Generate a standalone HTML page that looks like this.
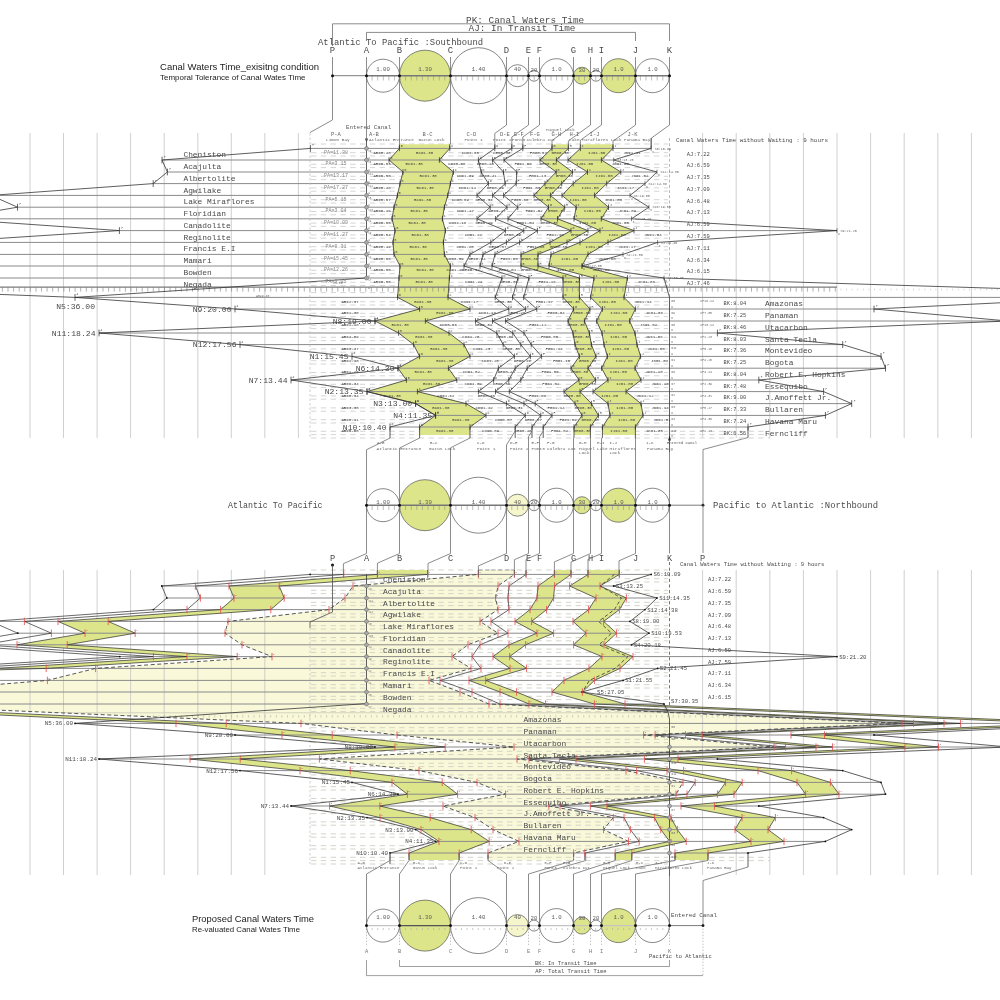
<!DOCTYPE html>
<html lang="en"><head><meta charset="utf-8"><title>Canal Waters Time</title>
<style>
html,body{margin:0;padding:0;background:#fff;}
body{width:1000px;height:1000px;overflow:hidden;font-family:"Liberation Mono",monospace;}
svg{display:block;}
</style></head><body>
<svg width="1000" height="1000" viewBox="0 0 1000 1000" style="will-change:transform">
<rect width="1000" height="1000" fill="#ffffff"/>
<line x1="30" y1="133" x2="30" y2="438" stroke="#c4c4c4" stroke-width="0.8" />
<line x1="63.5" y1="133" x2="63.5" y2="438" stroke="#c4c4c4" stroke-width="0.8" />
<line x1="97.1" y1="133" x2="97.1" y2="438" stroke="#c4c4c4" stroke-width="0.8" />
<line x1="130.6" y1="133" x2="130.6" y2="438" stroke="#c4c4c4" stroke-width="0.8" />
<line x1="164.2" y1="133" x2="164.2" y2="438" stroke="#c4c4c4" stroke-width="0.8" />
<line x1="197.8" y1="133" x2="197.8" y2="438" stroke="#c4c4c4" stroke-width="0.8" />
<line x1="231.3" y1="133" x2="231.3" y2="438" stroke="#c4c4c4" stroke-width="0.8" />
<line x1="264.8" y1="133" x2="264.8" y2="438" stroke="#c4c4c4" stroke-width="0.8" />
<line x1="298.4" y1="133" x2="298.4" y2="438" stroke="#c4c4c4" stroke-width="0.8" />
<line x1="702.6" y1="133" x2="702.6" y2="438" stroke="#c4c4c4" stroke-width="0.8" />
<line x1="736.2" y1="133" x2="736.2" y2="438" stroke="#c4c4c4" stroke-width="0.8" />
<line x1="769.8" y1="133" x2="769.8" y2="438" stroke="#c4c4c4" stroke-width="0.8" />
<line x1="803.4" y1="133" x2="803.4" y2="438" stroke="#c4c4c4" stroke-width="0.8" />
<line x1="837" y1="133" x2="837" y2="438" stroke="#c4c4c4" stroke-width="0.8" />
<line x1="870.6" y1="133" x2="870.6" y2="438" stroke="#c4c4c4" stroke-width="0.8" />
<line x1="904.2" y1="133" x2="904.2" y2="438" stroke="#c4c4c4" stroke-width="0.8" />
<line x1="937.8" y1="133" x2="937.8" y2="438" stroke="#c4c4c4" stroke-width="0.8" />
<line x1="971.4" y1="133" x2="971.4" y2="438" stroke="#c4c4c4" stroke-width="0.8" />
<line x1="311" y1="152.7" x2="668" y2="152.7" stroke="#d0d0d0" stroke-width="0.9" stroke-dasharray="5.4 4.4"/>
<line x1="311" y1="156" x2="668" y2="156" stroke="#d0d0d0" stroke-width="0.9" stroke-dasharray="5.4 4.4"/>
<line x1="311" y1="164.3" x2="668" y2="164.3" stroke="#d0d0d0" stroke-width="0.9" stroke-dasharray="5.4 4.4"/>
<line x1="311" y1="167.6" x2="668" y2="167.6" stroke="#d0d0d0" stroke-width="0.9" stroke-dasharray="5.4 4.4"/>
<line x1="311" y1="176.3" x2="668" y2="176.3" stroke="#d0d0d0" stroke-width="0.9" stroke-dasharray="5.4 4.4"/>
<line x1="311" y1="179.6" x2="668" y2="179.6" stroke="#d0d0d0" stroke-width="0.9" stroke-dasharray="5.4 4.4"/>
<line x1="311" y1="187.9" x2="668" y2="187.9" stroke="#d0d0d0" stroke-width="0.9" stroke-dasharray="5.4 4.4"/>
<line x1="311" y1="191.2" x2="668" y2="191.2" stroke="#d0d0d0" stroke-width="0.9" stroke-dasharray="5.4 4.4"/>
<line x1="311" y1="199.7" x2="668" y2="199.7" stroke="#d0d0d0" stroke-width="0.9" stroke-dasharray="5.4 4.4"/>
<line x1="311" y1="203" x2="668" y2="203" stroke="#d0d0d0" stroke-width="0.9" stroke-dasharray="5.4 4.4"/>
<line x1="311" y1="211.5" x2="668" y2="211.5" stroke="#d0d0d0" stroke-width="0.9" stroke-dasharray="5.4 4.4"/>
<line x1="311" y1="214.8" x2="668" y2="214.8" stroke="#d0d0d0" stroke-width="0.9" stroke-dasharray="5.4 4.4"/>
<line x1="311" y1="223.1" x2="668" y2="223.1" stroke="#d0d0d0" stroke-width="0.9" stroke-dasharray="5.4 4.4"/>
<line x1="311" y1="226.4" x2="668" y2="226.4" stroke="#d0d0d0" stroke-width="0.9" stroke-dasharray="5.4 4.4"/>
<line x1="311" y1="234.9" x2="668" y2="234.9" stroke="#d0d0d0" stroke-width="0.9" stroke-dasharray="5.4 4.4"/>
<line x1="311" y1="238.2" x2="668" y2="238.2" stroke="#d0d0d0" stroke-width="0.9" stroke-dasharray="5.4 4.4"/>
<line x1="311" y1="246.7" x2="668" y2="246.7" stroke="#d0d0d0" stroke-width="0.9" stroke-dasharray="5.4 4.4"/>
<line x1="311" y1="250" x2="668" y2="250" stroke="#d0d0d0" stroke-width="0.9" stroke-dasharray="5.4 4.4"/>
<line x1="311" y1="258.7" x2="668" y2="258.7" stroke="#d0d0d0" stroke-width="0.9" stroke-dasharray="5.4 4.4"/>
<line x1="311" y1="262" x2="668" y2="262" stroke="#d0d0d0" stroke-width="0.9" stroke-dasharray="5.4 4.4"/>
<line x1="311" y1="270.3" x2="668" y2="270.3" stroke="#d0d0d0" stroke-width="0.9" stroke-dasharray="5.4 4.4"/>
<line x1="311" y1="273.6" x2="668" y2="273.6" stroke="#d0d0d0" stroke-width="0.9" stroke-dasharray="5.4 4.4"/>
<line x1="311" y1="282.3" x2="668" y2="282.3" stroke="#d0d0d0" stroke-width="0.9" stroke-dasharray="5.4 4.4"/>
<line x1="311" y1="285.6" x2="668" y2="285.6" stroke="#d0d0d0" stroke-width="0.9" stroke-dasharray="5.4 4.4"/>
<line x1="311" y1="301.7" x2="668" y2="301.7" stroke="#d0d0d0" stroke-width="0.9" stroke-dasharray="5.4 4.4"/>
<line x1="311" y1="305" x2="668" y2="305" stroke="#d0d0d0" stroke-width="0.9" stroke-dasharray="5.4 4.4"/>
<line x1="311" y1="313.3" x2="668" y2="313.3" stroke="#d0d0d0" stroke-width="0.9" stroke-dasharray="5.4 4.4"/>
<line x1="311" y1="316.6" x2="668" y2="316.6" stroke="#d0d0d0" stroke-width="0.9" stroke-dasharray="5.4 4.4"/>
<line x1="311" y1="325.3" x2="668" y2="325.3" stroke="#d0d0d0" stroke-width="0.9" stroke-dasharray="5.4 4.4"/>
<line x1="311" y1="328.6" x2="668" y2="328.6" stroke="#d0d0d0" stroke-width="0.9" stroke-dasharray="5.4 4.4"/>
<line x1="311" y1="337.3" x2="668" y2="337.3" stroke="#d0d0d0" stroke-width="0.9" stroke-dasharray="5.4 4.4"/>
<line x1="311" y1="340.6" x2="668" y2="340.6" stroke="#d0d0d0" stroke-width="0.9" stroke-dasharray="5.4 4.4"/>
<line x1="311" y1="348.9" x2="668" y2="348.9" stroke="#d0d0d0" stroke-width="0.9" stroke-dasharray="5.4 4.4"/>
<line x1="311" y1="352.2" x2="668" y2="352.2" stroke="#d0d0d0" stroke-width="0.9" stroke-dasharray="5.4 4.4"/>
<line x1="311" y1="360.7" x2="668" y2="360.7" stroke="#d0d0d0" stroke-width="0.9" stroke-dasharray="5.4 4.4"/>
<line x1="311" y1="364" x2="668" y2="364" stroke="#d0d0d0" stroke-width="0.9" stroke-dasharray="5.4 4.4"/>
<line x1="311" y1="372.5" x2="668" y2="372.5" stroke="#d0d0d0" stroke-width="0.9" stroke-dasharray="5.4 4.4"/>
<line x1="311" y1="375.8" x2="668" y2="375.8" stroke="#d0d0d0" stroke-width="0.9" stroke-dasharray="5.4 4.4"/>
<line x1="311" y1="384.3" x2="668" y2="384.3" stroke="#d0d0d0" stroke-width="0.9" stroke-dasharray="5.4 4.4"/>
<line x1="311" y1="387.6" x2="668" y2="387.6" stroke="#d0d0d0" stroke-width="0.9" stroke-dasharray="5.4 4.4"/>
<line x1="311" y1="395.9" x2="668" y2="395.9" stroke="#d0d0d0" stroke-width="0.9" stroke-dasharray="5.4 4.4"/>
<line x1="311" y1="399.2" x2="668" y2="399.2" stroke="#d0d0d0" stroke-width="0.9" stroke-dasharray="5.4 4.4"/>
<line x1="311" y1="407.9" x2="668" y2="407.9" stroke="#d0d0d0" stroke-width="0.9" stroke-dasharray="5.4 4.4"/>
<line x1="311" y1="411.2" x2="668" y2="411.2" stroke="#d0d0d0" stroke-width="0.9" stroke-dasharray="5.4 4.4"/>
<line x1="311" y1="419.7" x2="668" y2="419.7" stroke="#d0d0d0" stroke-width="0.9" stroke-dasharray="5.4 4.4"/>
<line x1="311" y1="423" x2="668" y2="423" stroke="#d0d0d0" stroke-width="0.9" stroke-dasharray="5.4 4.4"/>
<line x1="311" y1="431.3" x2="668" y2="431.3" stroke="#d0d0d0" stroke-width="0.9" stroke-dasharray="5.4 4.4"/>
<line x1="311" y1="434.6" x2="668" y2="434.6" stroke="#d0d0d0" stroke-width="0.9" stroke-dasharray="5.4 4.4"/>
<line x1="311" y1="144" x2="668" y2="144" stroke="#d0d0d0" stroke-width="0.9" stroke-dasharray="5.4 4.4"/>
<line x1="311" y1="292.6" x2="668" y2="292.6" stroke="#d0d0d0" stroke-width="0.9" stroke-dasharray="5.4 4.4"/>
<line x1="311" y1="438" x2="668" y2="438" stroke="#d0d0d0" stroke-width="0.9" stroke-dasharray="5.4 4.4"/>
<polygon points="399.4,144.2 399.4,148.4 389,160 403,172 400,183.6 397.4,195.4 394,207.2 392,218.8 395,230.6 393,242.4 394,254.4 400,266 399,278 397.6,297.4 419.6,309 375,321 398.6,333 413.6,344.6 419.6,356.4 398,368.2 406.4,380 367,391.6 415.6,403.6 435.6,415.4 419.6,427 419.6,435 470,435 470,427 486,415.4 466,403.6 417.4,391.6 456.8,380 448.4,368.2 470,356.4 464,344.6 449,333 425.4,321 470,309 448,297.4 449.4,278 450.4,266 444.4,254.4 443.4,242.4 445.4,230.6 442.4,218.8 444.4,207.2 447.8,195.4 450.4,183.6 453.4,172 439.4,160 449.8,148.4 449.8,144.2" fill="#dde58a" stroke="none" stroke-width="0.8" />
<polygon points="552,144.2 552,148.4 540,160 556.2,172 545,183.6 534,195.4 548.5,207.2 541,218.8 571,230.6 550,242.4 521,254.4 521,266 563,278 563,297.4 573.6,309 568,321 573,333 575,344.6 579.4,356.4 571,368.2 579,380 564,391.6 575,403.6 582,415.4 574,427 574,435 590.4,435 590.4,427 598.4,415.4 591.4,403.6 580,391.6 595.6,380 588,368.2 596,356.4 591.4,344.6 589.4,333 584.4,321 590,309 579.4,297.4 579.4,278 538,266 538,254.4 567,242.4 588,230.6 557.5,218.8 564.7,207.2 550.4,195.4 561.7,183.6 572.5,172 556.4,160 568.4,148.4 568.4,144.2" fill="#dde58a" stroke="none" stroke-width="0.8" />
<polygon points="580.4,144.2 580.4,148.4 568,160 587.5,172 573.2,183.6 562,195.4 576.2,207.2 574,218.8 600,230.6 580,242.4 551,254.4 549,266 594,278 590.6,297.4 602.4,309 596.6,321 602,333 604,344.6 607.4,356.4 601.6,368.2 608,380 593,391.6 608,403.6 610,415.4 602.4,427 602.4,435 635.4,435 635.4,427 643,415.4 641,403.6 626,391.6 641,380 635,368.2 640.6,356.4 637,344.6 635,333 629.6,321 635.4,309 624,297.4 627.4,278 582,266 588,254.4 608,242.4 634,230.6 601.3,218.8 608.5,207.2 594.5,195.4 606.7,183.6 620.8,172 601.4,160 613,148.4 613,144.2" fill="#dde58a" stroke="none" stroke-width="0.8" />
<line x1="2.4" y1="287.2" x2="2.4" y2="291.6" stroke="#7a7a7a" stroke-width="0.6" />
<line x1="8" y1="287.2" x2="8" y2="291.6" stroke="#7a7a7a" stroke-width="0.6" />
<line x1="13.6" y1="287.2" x2="13.6" y2="291.6" stroke="#7a7a7a" stroke-width="0.6" />
<line x1="19.2" y1="287.2" x2="19.2" y2="291.6" stroke="#7a7a7a" stroke-width="0.6" />
<line x1="24.8" y1="287.2" x2="24.8" y2="291.6" stroke="#7a7a7a" stroke-width="0.6" />
<line x1="30.4" y1="287.2" x2="30.4" y2="291.6" stroke="#7a7a7a" stroke-width="0.6" />
<line x1="36" y1="287.2" x2="36" y2="291.6" stroke="#7a7a7a" stroke-width="0.6" />
<line x1="41.5" y1="287.2" x2="41.5" y2="291.6" stroke="#7a7a7a" stroke-width="0.6" />
<line x1="47.1" y1="287.2" x2="47.1" y2="291.6" stroke="#7a7a7a" stroke-width="0.6" />
<line x1="52.7" y1="287.2" x2="52.7" y2="291.6" stroke="#7a7a7a" stroke-width="0.6" />
<line x1="58.3" y1="287.2" x2="58.3" y2="291.6" stroke="#7a7a7a" stroke-width="0.6" />
<line x1="63.9" y1="287.2" x2="63.9" y2="291.6" stroke="#7a7a7a" stroke-width="0.6" />
<line x1="69.5" y1="287.2" x2="69.5" y2="291.6" stroke="#7a7a7a" stroke-width="0.6" />
<line x1="75.1" y1="287.2" x2="75.1" y2="291.6" stroke="#7a7a7a" stroke-width="0.6" />
<line x1="80.7" y1="287.2" x2="80.7" y2="291.6" stroke="#7a7a7a" stroke-width="0.6" />
<line x1="86.3" y1="287.2" x2="86.3" y2="291.6" stroke="#7a7a7a" stroke-width="0.6" />
<line x1="91.9" y1="287.2" x2="91.9" y2="291.6" stroke="#7a7a7a" stroke-width="0.6" />
<line x1="97.4" y1="287.2" x2="97.4" y2="291.6" stroke="#7a7a7a" stroke-width="0.6" />
<line x1="103" y1="287.2" x2="103" y2="291.6" stroke="#7a7a7a" stroke-width="0.6" />
<line x1="108.6" y1="287.2" x2="108.6" y2="291.6" stroke="#7a7a7a" stroke-width="0.6" />
<line x1="114.2" y1="287.2" x2="114.2" y2="291.6" stroke="#7a7a7a" stroke-width="0.6" />
<line x1="119.8" y1="287.2" x2="119.8" y2="291.6" stroke="#7a7a7a" stroke-width="0.6" />
<line x1="125.4" y1="287.2" x2="125.4" y2="291.6" stroke="#7a7a7a" stroke-width="0.6" />
<line x1="131" y1="287.2" x2="131" y2="291.6" stroke="#7a7a7a" stroke-width="0.6" />
<line x1="136.6" y1="287.2" x2="136.6" y2="291.6" stroke="#7a7a7a" stroke-width="0.6" />
<line x1="142.2" y1="287.2" x2="142.2" y2="291.6" stroke="#7a7a7a" stroke-width="0.6" />
<line x1="147.8" y1="287.2" x2="147.8" y2="291.6" stroke="#7a7a7a" stroke-width="0.6" />
<line x1="153.3" y1="287.2" x2="153.3" y2="291.6" stroke="#7a7a7a" stroke-width="0.6" />
<line x1="158.9" y1="287.2" x2="158.9" y2="291.6" stroke="#7a7a7a" stroke-width="0.6" />
<line x1="164.5" y1="287.2" x2="164.5" y2="291.6" stroke="#7a7a7a" stroke-width="0.6" />
<line x1="170.1" y1="287.2" x2="170.1" y2="291.6" stroke="#7a7a7a" stroke-width="0.6" />
<line x1="175.7" y1="287.2" x2="175.7" y2="291.6" stroke="#7a7a7a" stroke-width="0.6" />
<line x1="181.3" y1="287.2" x2="181.3" y2="291.6" stroke="#7a7a7a" stroke-width="0.6" />
<line x1="186.9" y1="287.2" x2="186.9" y2="291.6" stroke="#7a7a7a" stroke-width="0.6" />
<line x1="192.5" y1="287.2" x2="192.5" y2="291.6" stroke="#7a7a7a" stroke-width="0.6" />
<line x1="198.1" y1="287.2" x2="198.1" y2="291.6" stroke="#7a7a7a" stroke-width="0.6" />
<line x1="203.7" y1="287.2" x2="203.7" y2="291.6" stroke="#7a7a7a" stroke-width="0.6" />
<line x1="209.2" y1="287.2" x2="209.2" y2="291.6" stroke="#7a7a7a" stroke-width="0.6" />
<line x1="214.8" y1="287.2" x2="214.8" y2="291.6" stroke="#7a7a7a" stroke-width="0.6" />
<line x1="220.4" y1="287.2" x2="220.4" y2="291.6" stroke="#7a7a7a" stroke-width="0.6" />
<line x1="226" y1="287.2" x2="226" y2="291.6" stroke="#7a7a7a" stroke-width="0.6" />
<line x1="231.6" y1="287.2" x2="231.6" y2="291.6" stroke="#7a7a7a" stroke-width="0.6" />
<line x1="237.2" y1="287.2" x2="237.2" y2="291.6" stroke="#7a7a7a" stroke-width="0.6" />
<line x1="242.8" y1="287.2" x2="242.8" y2="291.6" stroke="#7a7a7a" stroke-width="0.6" />
<line x1="248.4" y1="287.2" x2="248.4" y2="291.6" stroke="#7a7a7a" stroke-width="0.6" />
<line x1="254" y1="287.2" x2="254" y2="291.6" stroke="#7a7a7a" stroke-width="0.6" />
<line x1="259.6" y1="287.2" x2="259.6" y2="291.6" stroke="#7a7a7a" stroke-width="0.6" />
<line x1="265.1" y1="287.2" x2="265.1" y2="291.6" stroke="#7a7a7a" stroke-width="0.6" />
<line x1="270.7" y1="287.2" x2="270.7" y2="291.6" stroke="#7a7a7a" stroke-width="0.6" />
<line x1="276.3" y1="287.2" x2="276.3" y2="291.6" stroke="#7a7a7a" stroke-width="0.6" />
<line x1="281.9" y1="287.2" x2="281.9" y2="291.6" stroke="#7a7a7a" stroke-width="0.6" />
<line x1="287.5" y1="287.2" x2="287.5" y2="291.6" stroke="#7a7a7a" stroke-width="0.6" />
<line x1="293.1" y1="287.2" x2="293.1" y2="291.6" stroke="#7a7a7a" stroke-width="0.6" />
<line x1="298.7" y1="287.2" x2="298.7" y2="291.6" stroke="#7a7a7a" stroke-width="0.6" />
<line x1="304.3" y1="287.2" x2="304.3" y2="291.6" stroke="#7a7a7a" stroke-width="0.6" />
<line x1="309.9" y1="287.2" x2="309.9" y2="291.6" stroke="#7a7a7a" stroke-width="0.6" />
<line x1="315.4" y1="287.2" x2="315.4" y2="291.6" stroke="#7a7a7a" stroke-width="0.6" />
<line x1="321" y1="287.2" x2="321" y2="291.6" stroke="#7a7a7a" stroke-width="0.6" />
<line x1="326.6" y1="287.2" x2="326.6" y2="291.6" stroke="#7a7a7a" stroke-width="0.6" />
<line x1="332.2" y1="287.2" x2="332.2" y2="291.6" stroke="#7a7a7a" stroke-width="0.6" />
<line x1="337.8" y1="287.2" x2="337.8" y2="291.6" stroke="#7a7a7a" stroke-width="0.6" />
<line x1="343.4" y1="287.2" x2="343.4" y2="291.6" stroke="#7a7a7a" stroke-width="0.6" />
<line x1="349" y1="287.2" x2="349" y2="291.6" stroke="#7a7a7a" stroke-width="0.6" />
<line x1="354.6" y1="287.2" x2="354.6" y2="291.6" stroke="#7a7a7a" stroke-width="0.6" />
<line x1="360.2" y1="287.2" x2="360.2" y2="291.6" stroke="#7a7a7a" stroke-width="0.6" />
<line x1="365.8" y1="287.2" x2="365.8" y2="291.6" stroke="#7a7a7a" stroke-width="0.6" />
<line x1="371.3" y1="287.2" x2="371.3" y2="291.6" stroke="#7a7a7a" stroke-width="0.6" />
<line x1="376.9" y1="287.2" x2="376.9" y2="291.6" stroke="#7a7a7a" stroke-width="0.6" />
<line x1="382.5" y1="287.2" x2="382.5" y2="291.6" stroke="#7a7a7a" stroke-width="0.6" />
<line x1="388.1" y1="287.2" x2="388.1" y2="291.6" stroke="#7a7a7a" stroke-width="0.6" />
<line x1="393.7" y1="287.2" x2="393.7" y2="291.6" stroke="#7a7a7a" stroke-width="0.6" />
<line x1="399.3" y1="287.2" x2="399.3" y2="291.6" stroke="#7a7a7a" stroke-width="0.6" />
<line x1="404.9" y1="287.2" x2="404.9" y2="291.6" stroke="#7a7a7a" stroke-width="0.6" />
<line x1="410.5" y1="287.2" x2="410.5" y2="291.6" stroke="#7a7a7a" stroke-width="0.6" />
<line x1="416.1" y1="287.2" x2="416.1" y2="291.6" stroke="#7a7a7a" stroke-width="0.6" />
<line x1="421.7" y1="287.2" x2="421.7" y2="291.6" stroke="#7a7a7a" stroke-width="0.6" />
<line x1="427.2" y1="287.2" x2="427.2" y2="291.6" stroke="#7a7a7a" stroke-width="0.6" />
<line x1="432.8" y1="287.2" x2="432.8" y2="291.6" stroke="#7a7a7a" stroke-width="0.6" />
<line x1="438.4" y1="287.2" x2="438.4" y2="291.6" stroke="#7a7a7a" stroke-width="0.6" />
<line x1="444" y1="287.2" x2="444" y2="291.6" stroke="#7a7a7a" stroke-width="0.6" />
<line x1="449.6" y1="287.2" x2="449.6" y2="291.6" stroke="#7a7a7a" stroke-width="0.6" />
<line x1="455.2" y1="287.2" x2="455.2" y2="291.6" stroke="#7a7a7a" stroke-width="0.6" />
<line x1="460.8" y1="287.2" x2="460.8" y2="291.6" stroke="#7a7a7a" stroke-width="0.6" />
<line x1="466.4" y1="287.2" x2="466.4" y2="291.6" stroke="#7a7a7a" stroke-width="0.6" />
<line x1="472" y1="287.2" x2="472" y2="291.6" stroke="#7a7a7a" stroke-width="0.6" />
<line x1="477.6" y1="287.2" x2="477.6" y2="291.6" stroke="#7a7a7a" stroke-width="0.6" />
<line x1="483.1" y1="287.2" x2="483.1" y2="291.6" stroke="#7a7a7a" stroke-width="0.6" />
<line x1="488.7" y1="287.2" x2="488.7" y2="291.6" stroke="#7a7a7a" stroke-width="0.6" />
<line x1="494.3" y1="287.2" x2="494.3" y2="291.6" stroke="#7a7a7a" stroke-width="0.6" />
<line x1="499.9" y1="287.2" x2="499.9" y2="291.6" stroke="#7a7a7a" stroke-width="0.6" />
<line x1="505.5" y1="287.2" x2="505.5" y2="291.6" stroke="#7a7a7a" stroke-width="0.6" />
<line x1="511.1" y1="287.2" x2="511.1" y2="291.6" stroke="#7a7a7a" stroke-width="0.6" />
<line x1="516.7" y1="287.2" x2="516.7" y2="291.6" stroke="#7a7a7a" stroke-width="0.6" />
<line x1="522.3" y1="287.2" x2="522.3" y2="291.6" stroke="#7a7a7a" stroke-width="0.6" />
<line x1="527.9" y1="287.2" x2="527.9" y2="291.6" stroke="#7a7a7a" stroke-width="0.6" />
<line x1="533.5" y1="287.2" x2="533.5" y2="291.6" stroke="#7a7a7a" stroke-width="0.6" />
<line x1="539" y1="287.2" x2="539" y2="291.6" stroke="#7a7a7a" stroke-width="0.6" />
<line x1="544.6" y1="287.2" x2="544.6" y2="291.6" stroke="#7a7a7a" stroke-width="0.6" />
<line x1="550.2" y1="287.2" x2="550.2" y2="291.6" stroke="#7a7a7a" stroke-width="0.6" />
<line x1="555.8" y1="287.2" x2="555.8" y2="291.6" stroke="#7a7a7a" stroke-width="0.6" />
<line x1="561.4" y1="287.2" x2="561.4" y2="291.6" stroke="#7a7a7a" stroke-width="0.6" />
<line x1="567" y1="287.2" x2="567" y2="291.6" stroke="#7a7a7a" stroke-width="0.6" />
<line x1="572.6" y1="287.2" x2="572.6" y2="291.6" stroke="#7a7a7a" stroke-width="0.6" />
<line x1="578.2" y1="287.2" x2="578.2" y2="291.6" stroke="#7a7a7a" stroke-width="0.6" />
<line x1="583.8" y1="287.2" x2="583.8" y2="291.6" stroke="#7a7a7a" stroke-width="0.6" />
<line x1="589.4" y1="287.2" x2="589.4" y2="291.6" stroke="#7a7a7a" stroke-width="0.6" />
<line x1="594.9" y1="287.2" x2="594.9" y2="291.6" stroke="#7a7a7a" stroke-width="0.6" />
<line x1="600.5" y1="287.2" x2="600.5" y2="291.6" stroke="#7a7a7a" stroke-width="0.6" />
<line x1="606.1" y1="287.2" x2="606.1" y2="291.6" stroke="#7a7a7a" stroke-width="0.6" />
<line x1="611.7" y1="287.2" x2="611.7" y2="291.6" stroke="#7a7a7a" stroke-width="0.6" />
<line x1="617.3" y1="287.2" x2="617.3" y2="291.6" stroke="#7a7a7a" stroke-width="0.6" />
<line x1="622.9" y1="287.2" x2="622.9" y2="291.6" stroke="#7a7a7a" stroke-width="0.6" />
<line x1="628.5" y1="287.2" x2="628.5" y2="291.6" stroke="#7a7a7a" stroke-width="0.6" />
<line x1="634.1" y1="287.2" x2="634.1" y2="291.6" stroke="#7a7a7a" stroke-width="0.6" />
<line x1="639.7" y1="287.2" x2="639.7" y2="291.6" stroke="#7a7a7a" stroke-width="0.6" />
<line x1="645.3" y1="287.2" x2="645.3" y2="291.6" stroke="#7a7a7a" stroke-width="0.6" />
<line x1="650.8" y1="287.2" x2="650.8" y2="291.6" stroke="#7a7a7a" stroke-width="0.6" />
<line x1="656.4" y1="287.2" x2="656.4" y2="291.6" stroke="#7a7a7a" stroke-width="0.6" />
<line x1="662" y1="287.2" x2="662" y2="291.6" stroke="#7a7a7a" stroke-width="0.6" />
<line x1="667.6" y1="287.2" x2="667.6" y2="291.6" stroke="#7a7a7a" stroke-width="0.6" />
<line x1="673.2" y1="287.2" x2="673.2" y2="291.6" stroke="#7a7a7a" stroke-width="0.6" />
<line x1="678.8" y1="287.2" x2="678.8" y2="291.6" stroke="#7a7a7a" stroke-width="0.6" />
<line x1="684.4" y1="287.2" x2="684.4" y2="291.6" stroke="#7a7a7a" stroke-width="0.6" />
<line x1="690" y1="287.2" x2="690" y2="291.6" stroke="#7a7a7a" stroke-width="0.6" />
<line x1="695.6" y1="287.2" x2="695.6" y2="291.6" stroke="#7a7a7a" stroke-width="0.6" />
<line x1="701.2" y1="287.2" x2="701.2" y2="291.6" stroke="#7a7a7a" stroke-width="0.6" />
<line x1="706.8" y1="287.2" x2="706.8" y2="291.6" stroke="#7a7a7a" stroke-width="0.6" />
<line x1="712.3" y1="287.2" x2="712.3" y2="291.6" stroke="#7a7a7a" stroke-width="0.6" />
<line x1="717.9" y1="287.2" x2="717.9" y2="291.6" stroke="#7a7a7a" stroke-width="0.6" />
<line x1="723.5" y1="287.2" x2="723.5" y2="291.6" stroke="#7a7a7a" stroke-width="0.6" />
<line x1="729.1" y1="287.2" x2="729.1" y2="291.6" stroke="#7a7a7a" stroke-width="0.6" />
<line x1="734.7" y1="287.2" x2="734.7" y2="291.6" stroke="#7a7a7a" stroke-width="0.6" />
<line x1="740.3" y1="287.2" x2="740.3" y2="291.6" stroke="#7a7a7a" stroke-width="0.6" />
<line x1="745.9" y1="287.2" x2="745.9" y2="291.6" stroke="#7a7a7a" stroke-width="0.6" />
<line x1="751.5" y1="287.2" x2="751.5" y2="291.6" stroke="#7a7a7a" stroke-width="0.6" />
<line x1="757.1" y1="287.2" x2="757.1" y2="291.6" stroke="#7a7a7a" stroke-width="0.6" />
<line x1="762.7" y1="287.2" x2="762.7" y2="291.6" stroke="#7a7a7a" stroke-width="0.6" />
<line x1="768.2" y1="287.2" x2="768.2" y2="291.6" stroke="#7a7a7a" stroke-width="0.6" />
<line x1="773.8" y1="287.2" x2="773.8" y2="291.6" stroke="#7a7a7a" stroke-width="0.6" />
<line x1="779.4" y1="287.2" x2="779.4" y2="291.6" stroke="#7a7a7a" stroke-width="0.6" />
<line x1="785" y1="287.2" x2="785" y2="291.6" stroke="#7a7a7a" stroke-width="0.6" />
<line x1="790.6" y1="287.2" x2="790.6" y2="291.6" stroke="#7a7a7a" stroke-width="0.6" />
<line x1="796.2" y1="287.2" x2="796.2" y2="291.6" stroke="#7a7a7a" stroke-width="0.6" />
<line x1="801.8" y1="287.2" x2="801.8" y2="291.6" stroke="#7a7a7a" stroke-width="0.6" />
<line x1="807.4" y1="287.2" x2="807.4" y2="291.6" stroke="#7a7a7a" stroke-width="0.6" />
<line x1="813" y1="287.2" x2="813" y2="291.6" stroke="#7a7a7a" stroke-width="0.6" />
<line x1="818.6" y1="287.2" x2="818.6" y2="291.6" stroke="#7a7a7a" stroke-width="0.6" />
<line x1="824.1" y1="287.2" x2="824.1" y2="291.6" stroke="#7a7a7a" stroke-width="0.6" />
<line x1="829.7" y1="287.2" x2="829.7" y2="291.6" stroke="#7a7a7a" stroke-width="0.6" />
<line x1="835.3" y1="287.2" x2="835.3" y2="291.6" stroke="#7a7a7a" stroke-width="0.6" />
<line x1="840.9" y1="288.7" x2="840.9" y2="290.4" stroke="#bdbdbd" stroke-width="0.6" />
<line x1="846.5" y1="288.7" x2="846.5" y2="290.4" stroke="#bdbdbd" stroke-width="0.6" />
<line x1="852.1" y1="288.7" x2="852.1" y2="290.4" stroke="#bdbdbd" stroke-width="0.6" />
<line x1="857.7" y1="288.7" x2="857.7" y2="290.4" stroke="#bdbdbd" stroke-width="0.6" />
<line x1="863.3" y1="288.7" x2="863.3" y2="290.4" stroke="#bdbdbd" stroke-width="0.6" />
<line x1="868.9" y1="288.7" x2="868.9" y2="290.4" stroke="#bdbdbd" stroke-width="0.6" />
<line x1="874.5" y1="288.7" x2="874.5" y2="290.4" stroke="#bdbdbd" stroke-width="0.6" />
<line x1="880" y1="288.7" x2="880" y2="290.4" stroke="#bdbdbd" stroke-width="0.6" />
<line x1="885.6" y1="288.7" x2="885.6" y2="290.4" stroke="#bdbdbd" stroke-width="0.6" />
<line x1="891.2" y1="288.7" x2="891.2" y2="290.4" stroke="#bdbdbd" stroke-width="0.6" />
<line x1="896.8" y1="288.7" x2="896.8" y2="290.4" stroke="#bdbdbd" stroke-width="0.6" />
<line x1="902.4" y1="288.7" x2="902.4" y2="290.4" stroke="#bdbdbd" stroke-width="0.6" />
<line x1="908" y1="288.7" x2="908" y2="290.4" stroke="#bdbdbd" stroke-width="0.6" />
<line x1="913.6" y1="288.7" x2="913.6" y2="290.4" stroke="#bdbdbd" stroke-width="0.6" />
<line x1="919.2" y1="288.7" x2="919.2" y2="290.4" stroke="#bdbdbd" stroke-width="0.6" />
<line x1="924.8" y1="288.7" x2="924.8" y2="290.4" stroke="#bdbdbd" stroke-width="0.6" />
<line x1="930.4" y1="288.7" x2="930.4" y2="290.4" stroke="#bdbdbd" stroke-width="0.6" />
<line x1="935.9" y1="288.7" x2="935.9" y2="290.4" stroke="#bdbdbd" stroke-width="0.6" />
<line x1="941.5" y1="288.7" x2="941.5" y2="290.4" stroke="#bdbdbd" stroke-width="0.6" />
<line x1="947.1" y1="288.7" x2="947.1" y2="290.4" stroke="#bdbdbd" stroke-width="0.6" />
<line x1="952.7" y1="288.7" x2="952.7" y2="290.4" stroke="#bdbdbd" stroke-width="0.6" />
<line x1="958.3" y1="288.7" x2="958.3" y2="290.4" stroke="#bdbdbd" stroke-width="0.6" />
<line x1="963.9" y1="288.7" x2="963.9" y2="290.4" stroke="#bdbdbd" stroke-width="0.6" />
<line x1="969.5" y1="288.7" x2="969.5" y2="290.4" stroke="#bdbdbd" stroke-width="0.6" />
<line x1="975.1" y1="288.7" x2="975.1" y2="290.4" stroke="#bdbdbd" stroke-width="0.6" />
<line x1="980.7" y1="288.7" x2="980.7" y2="290.4" stroke="#bdbdbd" stroke-width="0.6" />
<line x1="986.3" y1="288.7" x2="986.3" y2="290.4" stroke="#bdbdbd" stroke-width="0.6" />
<line x1="991.8" y1="288.7" x2="991.8" y2="290.4" stroke="#bdbdbd" stroke-width="0.6" />
<line x1="997.4" y1="288.7" x2="997.4" y2="290.4" stroke="#bdbdbd" stroke-width="0.6" />
<line x1="0" y1="287.2" x2="837" y2="287.2" stroke="#7a7a7a" stroke-width="1.3" />
<line x1="310.4" y1="148.4" x2="651.2" y2="148.4" stroke="#8a8a8a" stroke-width="1.0" />
<line x1="162" y1="160" x2="613.7" y2="160" stroke="#8a8a8a" stroke-width="1.0" />
<line x1="167.4" y1="172" x2="657" y2="172" stroke="#8a8a8a" stroke-width="1.0" />
<line x1="153.2" y1="183.6" x2="645" y2="183.6" stroke="#8a8a8a" stroke-width="1.0" />
<line x1="-9" y1="195.4" x2="630" y2="195.4" stroke="#8a8a8a" stroke-width="1.0" />
<line x1="17.5" y1="207.2" x2="649" y2="207.2" stroke="#8a8a8a" stroke-width="1.0" />
<line x1="-50" y1="218.8" x2="631.5" y2="218.8" stroke="#8a8a8a" stroke-width="1.0" />
<line x1="119.4" y1="230.6" x2="837" y2="230.6" stroke="#8a8a8a" stroke-width="1.0" />
<line x1="-62" y1="242.4" x2="657.6" y2="242.4" stroke="#8a8a8a" stroke-width="1.0" />
<line x1="-420" y1="254.4" x2="623" y2="254.4" stroke="#8a8a8a" stroke-width="1.0" />
<line x1="-520" y1="266" x2="582" y2="266" stroke="#8a8a8a" stroke-width="1.0" />
<line x1="-640" y1="278" x2="664" y2="278" stroke="#8a8a8a" stroke-width="1.0" />
<line x1="75" y1="297.4" x2="1000" y2="297.4" stroke="#8a8a8a" stroke-width="1.0" />
<line x1="235" y1="309" x2="874" y2="309" stroke="#8a8a8a" stroke-width="1.0" />
<line x1="375" y1="321" x2="1000" y2="321" stroke="#8a8a8a" stroke-width="1.0" />
<line x1="99" y1="333" x2="717.4" y2="333" stroke="#8a8a8a" stroke-width="1.0" />
<line x1="240" y1="344.6" x2="842.7" y2="344.6" stroke="#8a8a8a" stroke-width="1.0" />
<line x1="352" y1="356.4" x2="881" y2="356.4" stroke="#8a8a8a" stroke-width="1.0" />
<line x1="398" y1="368.2" x2="885.5" y2="368.2" stroke="#8a8a8a" stroke-width="1.0" />
<line x1="291" y1="380" x2="758.8" y2="380" stroke="#8a8a8a" stroke-width="1.0" />
<line x1="367" y1="391.6" x2="823.6" y2="391.6" stroke="#8a8a8a" stroke-width="1.0" />
<line x1="415.6" y1="403.6" x2="851.7" y2="403.6" stroke="#8a8a8a" stroke-width="1.0" />
<line x1="435.6" y1="415.4" x2="825.4" y2="415.4" stroke="#8a8a8a" stroke-width="1.0" />
<line x1="390" y1="427" x2="748" y2="427" stroke="#8a8a8a" stroke-width="1.0" />
<line x1="310" y1="133" x2="310" y2="438" stroke="#bbb" stroke-width="0.7" stroke-dasharray="2.5 2"/>
<line x1="669.5" y1="138" x2="669.5" y2="297" stroke="#b0b0b0" stroke-width="0.9" stroke-dasharray="3 2.2"/>
<polyline points="399.4,144.2 399.4,148.4 389,160 403,172 400,183.6 397.4,195.4 394,207.2 392,218.8 395,230.6 393,242.4 394,254.4 400,266 399,278 397.6,297.4 419.6,309 375,321 398.6,333 413.6,344.6 419.6,356.4 398,368.2 406.4,380 367,391.6 415.6,403.6 435.6,415.4 419.6,427 419.6,438" fill="none" stroke="#303030" stroke-width="0.78" />
<polyline points="449.8,144.2 449.8,148.4 439.4,160 453.4,172 450.4,183.6 447.8,195.4 444.4,207.2 442.4,218.8 445.4,230.6 443.4,242.4 444.4,254.4 450.4,266 449.4,278 448,297.4 470,309 425.4,321 449,333 464,344.6 470,356.4 448.4,368.2 456.8,380 417.4,391.6 466,403.6 486,415.4 470,427 470,438" fill="none" stroke="#303030" stroke-width="0.78" />
<polyline points="494.8,144.2 494.8,148.4 478.4,160 481.2,172 488.4,183.6 477,195.4 490.2,207.2 477,218.8 505.4,230.6 490.8,242.4 470,254.4 464,266 502,278 495.2,297.4 508.8,309 475.5,321 496.8,333 503.2,344.6 514.4,356.4 498.4,368.2 493.6,380 478.4,391.6 506.4,403.6 525.3,415.4 515.2,427 515.2,438" fill="none" stroke="#303030" stroke-width="0.78" />
<polyline points="511.8,144.2 511.8,148.4 492.6,160 503.4,172 505.2,183.6 492.6,195.4 507,207.2 495.6,218.8 523.8,230.6 506.4,242.4 483,254.4 480,266 518,278 512.5,297.4 525.6,309 492.5,321 512.8,333 520.8,344.6 530.4,356.4 515.2,368.2 508.8,380 495.5,391.6 524,403.6 540.8,415.4 532,427 532,438" fill="none" stroke="#303030" stroke-width="0.78" />
<polyline points="522.8,144.2 522.8,148.4 504,160 516.8,172 516.2,183.6 503.6,195.4 517.8,207.2 508,218.8 537.4,230.6 519.6,242.4 495,254.4 492,266 529,278 523.7,297.4 536.8,309 505.6,321 524,333 531.2,344.6 541.6,356.4 527.2,368.2 520.8,380 509.3,391.6 535.2,403.6 552,415.4 543.2,427 543.2,438" fill="none" stroke="#303030" stroke-width="0.78" />
<polyline points="552,144.2 552,148.4 540,160 556.2,172 545,183.6 534,195.4 548.5,207.2 541,218.8 571,230.6 550,242.4 521,254.4 521,266 563,278 563,297.4 573.6,309 568,321 573,333 575,344.6 579.4,356.4 571,368.2 579,380 564,391.6 575,403.6 582,415.4 574,427 574,438" fill="none" stroke="#303030" stroke-width="0.78" />
<polyline points="568.4,144.2 568.4,148.4 556.4,160 572.5,172 561.7,183.6 550.4,195.4 564.7,207.2 557.5,218.8 588,230.6 567,242.4 538,254.4 538,266 579.4,278 579.4,297.4 590,309 584.4,321 589.4,333 591.4,344.6 596,356.4 588,368.2 595.6,380 580,391.6 591.4,403.6 598.4,415.4 590.4,427 590.4,438" fill="none" stroke="#303030" stroke-width="0.78" />
<polyline points="580.4,144.2 580.4,148.4 568,160 587.5,172 573.2,183.6 562,195.4 576.2,207.2 574,218.8 600,230.6 580,242.4 551,254.4 549,266 594,278 590.6,297.4 602.4,309 596.6,321 602,333 604,344.6 607.4,356.4 601.6,368.2 608,380 593,391.6 608,403.6 610,415.4 602.4,427 602.4,438" fill="none" stroke="#303030" stroke-width="0.78" />
<polyline points="613,144.2 613,148.4 601.4,160 620.8,172 606.7,183.6 594.5,195.4 608.5,207.2 601.3,218.8 634,230.6 608,242.4 588,254.4 582,266 627.4,278 624,297.4 635.4,309 629.6,321 635,333 637,344.6 640.6,356.4 635,368.2 641,380 626,391.6 641,403.6 643,415.4 635.4,427 635.4,438" fill="none" stroke="#303030" stroke-width="0.78" />
<polyline points="651.2,138 651.2,148.4 613.7,160 657,172 645,183.6 630,195.4 649,207.2 631.5,218.8 837,230.6 657.6,242.4 623,254.4 582,266 664,278 669.5,297.4 669.5,452" fill="none" stroke="#303030" stroke-width="0.78" />
<line x1="664" y1="278" x2="1000" y2="288.4" stroke="#303030" stroke-width="0.78" />
<polyline points="310.4,148.4 162,160 167.4,172 153.2,183.6 -9,195.4 17.5,207.2 -50,218.8 119.4,230.6 -62,242.4 -420,254.4 -520,266 -640,278" fill="none" stroke="#303030" stroke-width="0.78" />
<polyline points="366.5,140 366.5,278 75,297.4 235,309 375,321 99,333 240,344.6 352,356.4 398,368.2 291,380 367,391.6 415.6,403.6 435.6,415.4 390,427 390,438" fill="none" stroke="#303030" stroke-width="0.78" />
<line x1="75" y1="297.4" x2="-10" y2="294" stroke="#303030" stroke-width="0.78" />
<polyline points="669.5,297.4" fill="none" stroke="#3a3a3a" stroke-width="0.8" />
<polyline points="1110,297.4 874,309 1008,321 717.4,333 842.7,344.6 881,356.4 885.5,368.2 758.8,380 823.6,391.6 851.7,403.6 825.4,415.4 748,427 748,437.5" fill="none" stroke="#303030" stroke-width="0.78" />
<polyline points="748,437.5 703,449.5 703,460" fill="none" stroke="#666" stroke-width="0.75" />
<line x1="670" y1="431.3" x2="770" y2="431.3" stroke="#d0d0d0" stroke-width="0.9" stroke-dasharray="5.4 4.4"/>
<line x1="670" y1="434.6" x2="770" y2="434.6" stroke="#d0d0d0" stroke-width="0.9" stroke-dasharray="5.4 4.4"/>
<line x1="670" y1="438" x2="770" y2="438" stroke="#d0d0d0" stroke-width="0.9" stroke-dasharray="5.4 4.4"/>
<circle cx="366.5" cy="148.4" r="2" fill="#aaa" stroke="#666" stroke-width="0.5"/>
<circle cx="366.5" cy="160" r="2" fill="#aaa" stroke="#666" stroke-width="0.5"/>
<circle cx="366.5" cy="172" r="2" fill="#aaa" stroke="#666" stroke-width="0.5"/>
<circle cx="366.5" cy="183.6" r="2" fill="#aaa" stroke="#666" stroke-width="0.5"/>
<circle cx="366.5" cy="195.4" r="2" fill="#aaa" stroke="#666" stroke-width="0.5"/>
<circle cx="366.5" cy="207.2" r="2" fill="#aaa" stroke="#666" stroke-width="0.5"/>
<circle cx="366.5" cy="218.8" r="2" fill="#aaa" stroke="#666" stroke-width="0.5"/>
<circle cx="366.5" cy="230.6" r="2" fill="#aaa" stroke="#666" stroke-width="0.5"/>
<circle cx="366.5" cy="242.4" r="2" fill="#aaa" stroke="#666" stroke-width="0.5"/>
<circle cx="366.5" cy="254.4" r="2" fill="#aaa" stroke="#666" stroke-width="0.5"/>
<circle cx="366.5" cy="266" r="2" fill="#aaa" stroke="#666" stroke-width="0.5"/>
<circle cx="366.5" cy="278" r="2" fill="#aaa" stroke="#666" stroke-width="0.5"/>
<polygon points="365.1,138.5 367.9,138.5 366.5,143" fill="#222" stroke="none" stroke-width="0.8" />
<line x1="399.4" y1="145.6" x2="399.4" y2="151.2" stroke="#222" stroke-width="0.7" />
<text x="400.8" y="147" font-size="3.2" text-anchor="start" fill="#444" font-family='"Liberation Mono", monospace' >B</text>
<line x1="389" y1="157.2" x2="389" y2="162.8" stroke="#222" stroke-width="0.7" />
<text x="390.4" y="158.6" font-size="3.2" text-anchor="start" fill="#444" font-family='"Liberation Mono", monospace' >B</text>
<line x1="403" y1="169.2" x2="403" y2="174.8" stroke="#222" stroke-width="0.7" />
<text x="404.4" y="170.6" font-size="3.2" text-anchor="start" fill="#444" font-family='"Liberation Mono", monospace' >B</text>
<line x1="400" y1="180.8" x2="400" y2="186.4" stroke="#222" stroke-width="0.7" />
<text x="401.4" y="182.2" font-size="3.2" text-anchor="start" fill="#444" font-family='"Liberation Mono", monospace' >B</text>
<line x1="397.4" y1="192.6" x2="397.4" y2="198.2" stroke="#222" stroke-width="0.7" />
<text x="398.8" y="194" font-size="3.2" text-anchor="start" fill="#444" font-family='"Liberation Mono", monospace' >B</text>
<line x1="394" y1="204.4" x2="394" y2="210" stroke="#222" stroke-width="0.7" />
<text x="395.4" y="205.8" font-size="3.2" text-anchor="start" fill="#444" font-family='"Liberation Mono", monospace' >B</text>
<line x1="392" y1="216" x2="392" y2="221.6" stroke="#222" stroke-width="0.7" />
<text x="393.4" y="217.4" font-size="3.2" text-anchor="start" fill="#444" font-family='"Liberation Mono", monospace' >B</text>
<line x1="395" y1="227.8" x2="395" y2="233.4" stroke="#222" stroke-width="0.7" />
<text x="396.4" y="229.2" font-size="3.2" text-anchor="start" fill="#444" font-family='"Liberation Mono", monospace' >B</text>
<line x1="393" y1="239.6" x2="393" y2="245.2" stroke="#222" stroke-width="0.7" />
<text x="394.4" y="241" font-size="3.2" text-anchor="start" fill="#444" font-family='"Liberation Mono", monospace' >B</text>
<line x1="394" y1="251.6" x2="394" y2="257.2" stroke="#222" stroke-width="0.7" />
<text x="395.4" y="253" font-size="3.2" text-anchor="start" fill="#444" font-family='"Liberation Mono", monospace' >B</text>
<line x1="400" y1="263.2" x2="400" y2="268.8" stroke="#222" stroke-width="0.7" />
<text x="401.4" y="264.6" font-size="3.2" text-anchor="start" fill="#444" font-family='"Liberation Mono", monospace' >B</text>
<line x1="399" y1="275.2" x2="399" y2="280.8" stroke="#222" stroke-width="0.7" />
<text x="400.4" y="276.6" font-size="3.2" text-anchor="start" fill="#444" font-family='"Liberation Mono", monospace' >B</text>
<line x1="397.6" y1="294.6" x2="397.6" y2="300.2" stroke="#222" stroke-width="0.7" />
<text x="399" y="296" font-size="3.2" text-anchor="start" fill="#444" font-family='"Liberation Mono", monospace' >B</text>
<line x1="419.6" y1="306.2" x2="419.6" y2="311.8" stroke="#222" stroke-width="0.7" />
<text x="421" y="307.6" font-size="3.2" text-anchor="start" fill="#444" font-family='"Liberation Mono", monospace' >B</text>
<line x1="375" y1="318.2" x2="375" y2="323.8" stroke="#222" stroke-width="0.7" />
<text x="376.4" y="319.6" font-size="3.2" text-anchor="start" fill="#444" font-family='"Liberation Mono", monospace' >B</text>
<line x1="398.6" y1="330.2" x2="398.6" y2="335.8" stroke="#222" stroke-width="0.7" />
<text x="400" y="331.6" font-size="3.2" text-anchor="start" fill="#444" font-family='"Liberation Mono", monospace' >B</text>
<line x1="413.6" y1="341.8" x2="413.6" y2="347.4" stroke="#222" stroke-width="0.7" />
<text x="415" y="343.2" font-size="3.2" text-anchor="start" fill="#444" font-family='"Liberation Mono", monospace' >B</text>
<line x1="419.6" y1="353.6" x2="419.6" y2="359.2" stroke="#222" stroke-width="0.7" />
<text x="421" y="355" font-size="3.2" text-anchor="start" fill="#444" font-family='"Liberation Mono", monospace' >B</text>
<line x1="398" y1="365.4" x2="398" y2="371" stroke="#222" stroke-width="0.7" />
<text x="399.4" y="366.8" font-size="3.2" text-anchor="start" fill="#444" font-family='"Liberation Mono", monospace' >B</text>
<line x1="406.4" y1="377.2" x2="406.4" y2="382.8" stroke="#222" stroke-width="0.7" />
<text x="407.8" y="378.6" font-size="3.2" text-anchor="start" fill="#444" font-family='"Liberation Mono", monospace' >B</text>
<line x1="367" y1="388.8" x2="367" y2="394.4" stroke="#222" stroke-width="0.7" />
<text x="368.4" y="390.2" font-size="3.2" text-anchor="start" fill="#444" font-family='"Liberation Mono", monospace' >B</text>
<line x1="415.6" y1="400.8" x2="415.6" y2="406.4" stroke="#222" stroke-width="0.7" />
<text x="417" y="402.2" font-size="3.2" text-anchor="start" fill="#444" font-family='"Liberation Mono", monospace' >B</text>
<line x1="435.6" y1="412.6" x2="435.6" y2="418.2" stroke="#222" stroke-width="0.7" />
<text x="437" y="414" font-size="3.2" text-anchor="start" fill="#444" font-family='"Liberation Mono", monospace' >B</text>
<line x1="419.6" y1="424.2" x2="419.6" y2="429.8" stroke="#222" stroke-width="0.7" />
<text x="421" y="425.6" font-size="3.2" text-anchor="start" fill="#444" font-family='"Liberation Mono", monospace' >B</text>
<line x1="449.8" y1="145.6" x2="449.8" y2="151.2" stroke="#222" stroke-width="0.7" />
<text x="451.2" y="147" font-size="3.2" text-anchor="start" fill="#444" font-family='"Liberation Mono", monospace' >C</text>
<line x1="439.4" y1="157.2" x2="439.4" y2="162.8" stroke="#222" stroke-width="0.7" />
<text x="440.8" y="158.6" font-size="3.2" text-anchor="start" fill="#444" font-family='"Liberation Mono", monospace' >C</text>
<line x1="453.4" y1="169.2" x2="453.4" y2="174.8" stroke="#222" stroke-width="0.7" />
<text x="454.8" y="170.6" font-size="3.2" text-anchor="start" fill="#444" font-family='"Liberation Mono", monospace' >C</text>
<line x1="450.4" y1="180.8" x2="450.4" y2="186.4" stroke="#222" stroke-width="0.7" />
<text x="451.8" y="182.2" font-size="3.2" text-anchor="start" fill="#444" font-family='"Liberation Mono", monospace' >C</text>
<line x1="447.8" y1="192.6" x2="447.8" y2="198.2" stroke="#222" stroke-width="0.7" />
<text x="449.2" y="194" font-size="3.2" text-anchor="start" fill="#444" font-family='"Liberation Mono", monospace' >C</text>
<line x1="444.4" y1="204.4" x2="444.4" y2="210" stroke="#222" stroke-width="0.7" />
<text x="445.8" y="205.8" font-size="3.2" text-anchor="start" fill="#444" font-family='"Liberation Mono", monospace' >C</text>
<line x1="442.4" y1="216" x2="442.4" y2="221.6" stroke="#222" stroke-width="0.7" />
<text x="443.8" y="217.4" font-size="3.2" text-anchor="start" fill="#444" font-family='"Liberation Mono", monospace' >C</text>
<line x1="445.4" y1="227.8" x2="445.4" y2="233.4" stroke="#222" stroke-width="0.7" />
<text x="446.8" y="229.2" font-size="3.2" text-anchor="start" fill="#444" font-family='"Liberation Mono", monospace' >C</text>
<line x1="443.4" y1="239.6" x2="443.4" y2="245.2" stroke="#222" stroke-width="0.7" />
<text x="444.8" y="241" font-size="3.2" text-anchor="start" fill="#444" font-family='"Liberation Mono", monospace' >C</text>
<line x1="444.4" y1="251.6" x2="444.4" y2="257.2" stroke="#222" stroke-width="0.7" />
<text x="445.8" y="253" font-size="3.2" text-anchor="start" fill="#444" font-family='"Liberation Mono", monospace' >C</text>
<line x1="450.4" y1="263.2" x2="450.4" y2="268.8" stroke="#222" stroke-width="0.7" />
<text x="451.8" y="264.6" font-size="3.2" text-anchor="start" fill="#444" font-family='"Liberation Mono", monospace' >C</text>
<line x1="449.4" y1="275.2" x2="449.4" y2="280.8" stroke="#222" stroke-width="0.7" />
<text x="450.8" y="276.6" font-size="3.2" text-anchor="start" fill="#444" font-family='"Liberation Mono", monospace' >C</text>
<line x1="448" y1="294.6" x2="448" y2="300.2" stroke="#222" stroke-width="0.7" />
<text x="449.4" y="296" font-size="3.2" text-anchor="start" fill="#444" font-family='"Liberation Mono", monospace' >C</text>
<line x1="470" y1="306.2" x2="470" y2="311.8" stroke="#222" stroke-width="0.7" />
<text x="471.4" y="307.6" font-size="3.2" text-anchor="start" fill="#444" font-family='"Liberation Mono", monospace' >C</text>
<line x1="425.4" y1="318.2" x2="425.4" y2="323.8" stroke="#222" stroke-width="0.7" />
<text x="426.8" y="319.6" font-size="3.2" text-anchor="start" fill="#444" font-family='"Liberation Mono", monospace' >C</text>
<line x1="449" y1="330.2" x2="449" y2="335.8" stroke="#222" stroke-width="0.7" />
<text x="450.4" y="331.6" font-size="3.2" text-anchor="start" fill="#444" font-family='"Liberation Mono", monospace' >C</text>
<line x1="464" y1="341.8" x2="464" y2="347.4" stroke="#222" stroke-width="0.7" />
<text x="465.4" y="343.2" font-size="3.2" text-anchor="start" fill="#444" font-family='"Liberation Mono", monospace' >C</text>
<line x1="470" y1="353.6" x2="470" y2="359.2" stroke="#222" stroke-width="0.7" />
<text x="471.4" y="355" font-size="3.2" text-anchor="start" fill="#444" font-family='"Liberation Mono", monospace' >C</text>
<line x1="448.4" y1="365.4" x2="448.4" y2="371" stroke="#222" stroke-width="0.7" />
<text x="449.8" y="366.8" font-size="3.2" text-anchor="start" fill="#444" font-family='"Liberation Mono", monospace' >C</text>
<line x1="456.8" y1="377.2" x2="456.8" y2="382.8" stroke="#222" stroke-width="0.7" />
<text x="458.2" y="378.6" font-size="3.2" text-anchor="start" fill="#444" font-family='"Liberation Mono", monospace' >C</text>
<line x1="417.4" y1="388.8" x2="417.4" y2="394.4" stroke="#222" stroke-width="0.7" />
<text x="418.8" y="390.2" font-size="3.2" text-anchor="start" fill="#444" font-family='"Liberation Mono", monospace' >C</text>
<line x1="466" y1="400.8" x2="466" y2="406.4" stroke="#222" stroke-width="0.7" />
<text x="467.4" y="402.2" font-size="3.2" text-anchor="start" fill="#444" font-family='"Liberation Mono", monospace' >C</text>
<line x1="486" y1="412.6" x2="486" y2="418.2" stroke="#222" stroke-width="0.7" />
<text x="487.4" y="414" font-size="3.2" text-anchor="start" fill="#444" font-family='"Liberation Mono", monospace' >C</text>
<line x1="470" y1="424.2" x2="470" y2="429.8" stroke="#222" stroke-width="0.7" />
<text x="471.4" y="425.6" font-size="3.2" text-anchor="start" fill="#444" font-family='"Liberation Mono", monospace' >C</text>
<line x1="494.8" y1="145.6" x2="494.8" y2="151.2" stroke="#222" stroke-width="0.7" />
<text x="496.2" y="147" font-size="3.2" text-anchor="start" fill="#444" font-family='"Liberation Mono", monospace' >D</text>
<line x1="478.4" y1="157.2" x2="478.4" y2="162.8" stroke="#222" stroke-width="0.7" />
<text x="479.8" y="158.6" font-size="3.2" text-anchor="start" fill="#444" font-family='"Liberation Mono", monospace' >D</text>
<line x1="481.2" y1="169.2" x2="481.2" y2="174.8" stroke="#222" stroke-width="0.7" />
<text x="482.6" y="170.6" font-size="3.2" text-anchor="start" fill="#444" font-family='"Liberation Mono", monospace' >D</text>
<line x1="488.4" y1="180.8" x2="488.4" y2="186.4" stroke="#222" stroke-width="0.7" />
<text x="489.8" y="182.2" font-size="3.2" text-anchor="start" fill="#444" font-family='"Liberation Mono", monospace' >D</text>
<line x1="477" y1="192.6" x2="477" y2="198.2" stroke="#222" stroke-width="0.7" />
<text x="478.4" y="194" font-size="3.2" text-anchor="start" fill="#444" font-family='"Liberation Mono", monospace' >D</text>
<line x1="490.2" y1="204.4" x2="490.2" y2="210" stroke="#222" stroke-width="0.7" />
<text x="491.6" y="205.8" font-size="3.2" text-anchor="start" fill="#444" font-family='"Liberation Mono", monospace' >D</text>
<line x1="477" y1="216" x2="477" y2="221.6" stroke="#222" stroke-width="0.7" />
<text x="478.4" y="217.4" font-size="3.2" text-anchor="start" fill="#444" font-family='"Liberation Mono", monospace' >D</text>
<line x1="505.4" y1="227.8" x2="505.4" y2="233.4" stroke="#222" stroke-width="0.7" />
<text x="506.8" y="229.2" font-size="3.2" text-anchor="start" fill="#444" font-family='"Liberation Mono", monospace' >D</text>
<line x1="490.8" y1="239.6" x2="490.8" y2="245.2" stroke="#222" stroke-width="0.7" />
<text x="492.2" y="241" font-size="3.2" text-anchor="start" fill="#444" font-family='"Liberation Mono", monospace' >D</text>
<line x1="470" y1="251.6" x2="470" y2="257.2" stroke="#222" stroke-width="0.7" />
<text x="471.4" y="253" font-size="3.2" text-anchor="start" fill="#444" font-family='"Liberation Mono", monospace' >D</text>
<line x1="464" y1="263.2" x2="464" y2="268.8" stroke="#222" stroke-width="0.7" />
<text x="465.4" y="264.6" font-size="3.2" text-anchor="start" fill="#444" font-family='"Liberation Mono", monospace' >D</text>
<line x1="502" y1="275.2" x2="502" y2="280.8" stroke="#222" stroke-width="0.7" />
<text x="503.4" y="276.6" font-size="3.2" text-anchor="start" fill="#444" font-family='"Liberation Mono", monospace' >D</text>
<line x1="495.2" y1="294.6" x2="495.2" y2="300.2" stroke="#222" stroke-width="0.7" />
<text x="496.6" y="296" font-size="3.2" text-anchor="start" fill="#444" font-family='"Liberation Mono", monospace' >D</text>
<line x1="508.8" y1="306.2" x2="508.8" y2="311.8" stroke="#222" stroke-width="0.7" />
<text x="510.2" y="307.6" font-size="3.2" text-anchor="start" fill="#444" font-family='"Liberation Mono", monospace' >D</text>
<line x1="475.5" y1="318.2" x2="475.5" y2="323.8" stroke="#222" stroke-width="0.7" />
<text x="476.9" y="319.6" font-size="3.2" text-anchor="start" fill="#444" font-family='"Liberation Mono", monospace' >D</text>
<line x1="496.8" y1="330.2" x2="496.8" y2="335.8" stroke="#222" stroke-width="0.7" />
<text x="498.2" y="331.6" font-size="3.2" text-anchor="start" fill="#444" font-family='"Liberation Mono", monospace' >D</text>
<line x1="503.2" y1="341.8" x2="503.2" y2="347.4" stroke="#222" stroke-width="0.7" />
<text x="504.6" y="343.2" font-size="3.2" text-anchor="start" fill="#444" font-family='"Liberation Mono", monospace' >D</text>
<line x1="514.4" y1="353.6" x2="514.4" y2="359.2" stroke="#222" stroke-width="0.7" />
<text x="515.8" y="355" font-size="3.2" text-anchor="start" fill="#444" font-family='"Liberation Mono", monospace' >D</text>
<line x1="498.4" y1="365.4" x2="498.4" y2="371" stroke="#222" stroke-width="0.7" />
<text x="499.8" y="366.8" font-size="3.2" text-anchor="start" fill="#444" font-family='"Liberation Mono", monospace' >D</text>
<line x1="493.6" y1="377.2" x2="493.6" y2="382.8" stroke="#222" stroke-width="0.7" />
<text x="495" y="378.6" font-size="3.2" text-anchor="start" fill="#444" font-family='"Liberation Mono", monospace' >D</text>
<line x1="478.4" y1="388.8" x2="478.4" y2="394.4" stroke="#222" stroke-width="0.7" />
<text x="479.8" y="390.2" font-size="3.2" text-anchor="start" fill="#444" font-family='"Liberation Mono", monospace' >D</text>
<line x1="506.4" y1="400.8" x2="506.4" y2="406.4" stroke="#222" stroke-width="0.7" />
<text x="507.8" y="402.2" font-size="3.2" text-anchor="start" fill="#444" font-family='"Liberation Mono", monospace' >D</text>
<line x1="525.3" y1="412.6" x2="525.3" y2="418.2" stroke="#222" stroke-width="0.7" />
<text x="526.7" y="414" font-size="3.2" text-anchor="start" fill="#444" font-family='"Liberation Mono", monospace' >D</text>
<line x1="515.2" y1="424.2" x2="515.2" y2="429.8" stroke="#222" stroke-width="0.7" />
<text x="516.6" y="425.6" font-size="3.2" text-anchor="start" fill="#444" font-family='"Liberation Mono", monospace' >D</text>
<line x1="511.8" y1="145.6" x2="511.8" y2="151.2" stroke="#222" stroke-width="0.7" />
<text x="513.2" y="147" font-size="3.2" text-anchor="start" fill="#444" font-family='"Liberation Mono", monospace' >E</text>
<line x1="492.6" y1="157.2" x2="492.6" y2="162.8" stroke="#222" stroke-width="0.7" />
<text x="494" y="158.6" font-size="3.2" text-anchor="start" fill="#444" font-family='"Liberation Mono", monospace' >E</text>
<line x1="503.4" y1="169.2" x2="503.4" y2="174.8" stroke="#222" stroke-width="0.7" />
<text x="504.8" y="170.6" font-size="3.2" text-anchor="start" fill="#444" font-family='"Liberation Mono", monospace' >E</text>
<line x1="505.2" y1="180.8" x2="505.2" y2="186.4" stroke="#222" stroke-width="0.7" />
<text x="506.6" y="182.2" font-size="3.2" text-anchor="start" fill="#444" font-family='"Liberation Mono", monospace' >E</text>
<line x1="492.6" y1="192.6" x2="492.6" y2="198.2" stroke="#222" stroke-width="0.7" />
<text x="494" y="194" font-size="3.2" text-anchor="start" fill="#444" font-family='"Liberation Mono", monospace' >E</text>
<line x1="507" y1="204.4" x2="507" y2="210" stroke="#222" stroke-width="0.7" />
<text x="508.4" y="205.8" font-size="3.2" text-anchor="start" fill="#444" font-family='"Liberation Mono", monospace' >E</text>
<line x1="495.6" y1="216" x2="495.6" y2="221.6" stroke="#222" stroke-width="0.7" />
<text x="497" y="217.4" font-size="3.2" text-anchor="start" fill="#444" font-family='"Liberation Mono", monospace' >E</text>
<line x1="523.8" y1="227.8" x2="523.8" y2="233.4" stroke="#222" stroke-width="0.7" />
<text x="525.2" y="229.2" font-size="3.2" text-anchor="start" fill="#444" font-family='"Liberation Mono", monospace' >E</text>
<line x1="506.4" y1="239.6" x2="506.4" y2="245.2" stroke="#222" stroke-width="0.7" />
<text x="507.8" y="241" font-size="3.2" text-anchor="start" fill="#444" font-family='"Liberation Mono", monospace' >E</text>
<line x1="483" y1="251.6" x2="483" y2="257.2" stroke="#222" stroke-width="0.7" />
<text x="484.4" y="253" font-size="3.2" text-anchor="start" fill="#444" font-family='"Liberation Mono", monospace' >E</text>
<line x1="480" y1="263.2" x2="480" y2="268.8" stroke="#222" stroke-width="0.7" />
<text x="481.4" y="264.6" font-size="3.2" text-anchor="start" fill="#444" font-family='"Liberation Mono", monospace' >E</text>
<line x1="518" y1="275.2" x2="518" y2="280.8" stroke="#222" stroke-width="0.7" />
<text x="519.4" y="276.6" font-size="3.2" text-anchor="start" fill="#444" font-family='"Liberation Mono", monospace' >E</text>
<line x1="512.5" y1="294.6" x2="512.5" y2="300.2" stroke="#222" stroke-width="0.7" />
<text x="513.9" y="296" font-size="3.2" text-anchor="start" fill="#444" font-family='"Liberation Mono", monospace' >E</text>
<line x1="525.6" y1="306.2" x2="525.6" y2="311.8" stroke="#222" stroke-width="0.7" />
<text x="527" y="307.6" font-size="3.2" text-anchor="start" fill="#444" font-family='"Liberation Mono", monospace' >E</text>
<line x1="492.5" y1="318.2" x2="492.5" y2="323.8" stroke="#222" stroke-width="0.7" />
<text x="493.9" y="319.6" font-size="3.2" text-anchor="start" fill="#444" font-family='"Liberation Mono", monospace' >E</text>
<line x1="512.8" y1="330.2" x2="512.8" y2="335.8" stroke="#222" stroke-width="0.7" />
<text x="514.2" y="331.6" font-size="3.2" text-anchor="start" fill="#444" font-family='"Liberation Mono", monospace' >E</text>
<line x1="520.8" y1="341.8" x2="520.8" y2="347.4" stroke="#222" stroke-width="0.7" />
<text x="522.2" y="343.2" font-size="3.2" text-anchor="start" fill="#444" font-family='"Liberation Mono", monospace' >E</text>
<line x1="530.4" y1="353.6" x2="530.4" y2="359.2" stroke="#222" stroke-width="0.7" />
<text x="531.8" y="355" font-size="3.2" text-anchor="start" fill="#444" font-family='"Liberation Mono", monospace' >E</text>
<line x1="515.2" y1="365.4" x2="515.2" y2="371" stroke="#222" stroke-width="0.7" />
<text x="516.6" y="366.8" font-size="3.2" text-anchor="start" fill="#444" font-family='"Liberation Mono", monospace' >E</text>
<line x1="508.8" y1="377.2" x2="508.8" y2="382.8" stroke="#222" stroke-width="0.7" />
<text x="510.2" y="378.6" font-size="3.2" text-anchor="start" fill="#444" font-family='"Liberation Mono", monospace' >E</text>
<line x1="495.5" y1="388.8" x2="495.5" y2="394.4" stroke="#222" stroke-width="0.7" />
<text x="496.9" y="390.2" font-size="3.2" text-anchor="start" fill="#444" font-family='"Liberation Mono", monospace' >E</text>
<line x1="524" y1="400.8" x2="524" y2="406.4" stroke="#222" stroke-width="0.7" />
<text x="525.4" y="402.2" font-size="3.2" text-anchor="start" fill="#444" font-family='"Liberation Mono", monospace' >E</text>
<line x1="540.8" y1="412.6" x2="540.8" y2="418.2" stroke="#222" stroke-width="0.7" />
<text x="542.2" y="414" font-size="3.2" text-anchor="start" fill="#444" font-family='"Liberation Mono", monospace' >E</text>
<line x1="532" y1="424.2" x2="532" y2="429.8" stroke="#222" stroke-width="0.7" />
<text x="533.4" y="425.6" font-size="3.2" text-anchor="start" fill="#444" font-family='"Liberation Mono", monospace' >E</text>
<line x1="522.8" y1="145.6" x2="522.8" y2="151.2" stroke="#222" stroke-width="0.7" />
<text x="524.2" y="147" font-size="3.2" text-anchor="start" fill="#444" font-family='"Liberation Mono", monospace' >F</text>
<line x1="504" y1="157.2" x2="504" y2="162.8" stroke="#222" stroke-width="0.7" />
<text x="505.4" y="158.6" font-size="3.2" text-anchor="start" fill="#444" font-family='"Liberation Mono", monospace' >F</text>
<line x1="516.8" y1="169.2" x2="516.8" y2="174.8" stroke="#222" stroke-width="0.7" />
<text x="518.2" y="170.6" font-size="3.2" text-anchor="start" fill="#444" font-family='"Liberation Mono", monospace' >F</text>
<line x1="516.2" y1="180.8" x2="516.2" y2="186.4" stroke="#222" stroke-width="0.7" />
<text x="517.6" y="182.2" font-size="3.2" text-anchor="start" fill="#444" font-family='"Liberation Mono", monospace' >F</text>
<line x1="503.6" y1="192.6" x2="503.6" y2="198.2" stroke="#222" stroke-width="0.7" />
<text x="505" y="194" font-size="3.2" text-anchor="start" fill="#444" font-family='"Liberation Mono", monospace' >F</text>
<line x1="517.8" y1="204.4" x2="517.8" y2="210" stroke="#222" stroke-width="0.7" />
<text x="519.2" y="205.8" font-size="3.2" text-anchor="start" fill="#444" font-family='"Liberation Mono", monospace' >F</text>
<line x1="508" y1="216" x2="508" y2="221.6" stroke="#222" stroke-width="0.7" />
<text x="509.4" y="217.4" font-size="3.2" text-anchor="start" fill="#444" font-family='"Liberation Mono", monospace' >F</text>
<line x1="537.4" y1="227.8" x2="537.4" y2="233.4" stroke="#222" stroke-width="0.7" />
<text x="538.8" y="229.2" font-size="3.2" text-anchor="start" fill="#444" font-family='"Liberation Mono", monospace' >F</text>
<line x1="519.6" y1="239.6" x2="519.6" y2="245.2" stroke="#222" stroke-width="0.7" />
<text x="521" y="241" font-size="3.2" text-anchor="start" fill="#444" font-family='"Liberation Mono", monospace' >F</text>
<line x1="495" y1="251.6" x2="495" y2="257.2" stroke="#222" stroke-width="0.7" />
<text x="496.4" y="253" font-size="3.2" text-anchor="start" fill="#444" font-family='"Liberation Mono", monospace' >F</text>
<line x1="492" y1="263.2" x2="492" y2="268.8" stroke="#222" stroke-width="0.7" />
<text x="493.4" y="264.6" font-size="3.2" text-anchor="start" fill="#444" font-family='"Liberation Mono", monospace' >F</text>
<line x1="529" y1="275.2" x2="529" y2="280.8" stroke="#222" stroke-width="0.7" />
<text x="530.4" y="276.6" font-size="3.2" text-anchor="start" fill="#444" font-family='"Liberation Mono", monospace' >F</text>
<line x1="523.7" y1="294.6" x2="523.7" y2="300.2" stroke="#222" stroke-width="0.7" />
<text x="525.1" y="296" font-size="3.2" text-anchor="start" fill="#444" font-family='"Liberation Mono", monospace' >F</text>
<line x1="536.8" y1="306.2" x2="536.8" y2="311.8" stroke="#222" stroke-width="0.7" />
<text x="538.2" y="307.6" font-size="3.2" text-anchor="start" fill="#444" font-family='"Liberation Mono", monospace' >F</text>
<line x1="505.6" y1="318.2" x2="505.6" y2="323.8" stroke="#222" stroke-width="0.7" />
<text x="507" y="319.6" font-size="3.2" text-anchor="start" fill="#444" font-family='"Liberation Mono", monospace' >F</text>
<line x1="524" y1="330.2" x2="524" y2="335.8" stroke="#222" stroke-width="0.7" />
<text x="525.4" y="331.6" font-size="3.2" text-anchor="start" fill="#444" font-family='"Liberation Mono", monospace' >F</text>
<line x1="531.2" y1="341.8" x2="531.2" y2="347.4" stroke="#222" stroke-width="0.7" />
<text x="532.6" y="343.2" font-size="3.2" text-anchor="start" fill="#444" font-family='"Liberation Mono", monospace' >F</text>
<line x1="541.6" y1="353.6" x2="541.6" y2="359.2" stroke="#222" stroke-width="0.7" />
<text x="543" y="355" font-size="3.2" text-anchor="start" fill="#444" font-family='"Liberation Mono", monospace' >F</text>
<line x1="527.2" y1="365.4" x2="527.2" y2="371" stroke="#222" stroke-width="0.7" />
<text x="528.6" y="366.8" font-size="3.2" text-anchor="start" fill="#444" font-family='"Liberation Mono", monospace' >F</text>
<line x1="520.8" y1="377.2" x2="520.8" y2="382.8" stroke="#222" stroke-width="0.7" />
<text x="522.2" y="378.6" font-size="3.2" text-anchor="start" fill="#444" font-family='"Liberation Mono", monospace' >F</text>
<line x1="509.3" y1="388.8" x2="509.3" y2="394.4" stroke="#222" stroke-width="0.7" />
<text x="510.7" y="390.2" font-size="3.2" text-anchor="start" fill="#444" font-family='"Liberation Mono", monospace' >F</text>
<line x1="535.2" y1="400.8" x2="535.2" y2="406.4" stroke="#222" stroke-width="0.7" />
<text x="536.6" y="402.2" font-size="3.2" text-anchor="start" fill="#444" font-family='"Liberation Mono", monospace' >F</text>
<line x1="552" y1="412.6" x2="552" y2="418.2" stroke="#222" stroke-width="0.7" />
<text x="553.4" y="414" font-size="3.2" text-anchor="start" fill="#444" font-family='"Liberation Mono", monospace' >F</text>
<line x1="543.2" y1="424.2" x2="543.2" y2="429.8" stroke="#222" stroke-width="0.7" />
<text x="544.6" y="425.6" font-size="3.2" text-anchor="start" fill="#444" font-family='"Liberation Mono", monospace' >F</text>
<line x1="552" y1="145.6" x2="552" y2="151.2" stroke="#222" stroke-width="0.7" />
<text x="553.4" y="147" font-size="3.2" text-anchor="start" fill="#444" font-family='"Liberation Mono", monospace' >G</text>
<line x1="540" y1="157.2" x2="540" y2="162.8" stroke="#222" stroke-width="0.7" />
<text x="541.4" y="158.6" font-size="3.2" text-anchor="start" fill="#444" font-family='"Liberation Mono", monospace' >G</text>
<line x1="556.2" y1="169.2" x2="556.2" y2="174.8" stroke="#222" stroke-width="0.7" />
<text x="557.6" y="170.6" font-size="3.2" text-anchor="start" fill="#444" font-family='"Liberation Mono", monospace' >G</text>
<line x1="545" y1="180.8" x2="545" y2="186.4" stroke="#222" stroke-width="0.7" />
<text x="546.4" y="182.2" font-size="3.2" text-anchor="start" fill="#444" font-family='"Liberation Mono", monospace' >G</text>
<line x1="534" y1="192.6" x2="534" y2="198.2" stroke="#222" stroke-width="0.7" />
<text x="535.4" y="194" font-size="3.2" text-anchor="start" fill="#444" font-family='"Liberation Mono", monospace' >G</text>
<line x1="548.5" y1="204.4" x2="548.5" y2="210" stroke="#222" stroke-width="0.7" />
<text x="549.9" y="205.8" font-size="3.2" text-anchor="start" fill="#444" font-family='"Liberation Mono", monospace' >G</text>
<line x1="541" y1="216" x2="541" y2="221.6" stroke="#222" stroke-width="0.7" />
<text x="542.4" y="217.4" font-size="3.2" text-anchor="start" fill="#444" font-family='"Liberation Mono", monospace' >G</text>
<line x1="571" y1="227.8" x2="571" y2="233.4" stroke="#222" stroke-width="0.7" />
<text x="572.4" y="229.2" font-size="3.2" text-anchor="start" fill="#444" font-family='"Liberation Mono", monospace' >G</text>
<line x1="550" y1="239.6" x2="550" y2="245.2" stroke="#222" stroke-width="0.7" />
<text x="551.4" y="241" font-size="3.2" text-anchor="start" fill="#444" font-family='"Liberation Mono", monospace' >G</text>
<line x1="521" y1="251.6" x2="521" y2="257.2" stroke="#222" stroke-width="0.7" />
<text x="522.4" y="253" font-size="3.2" text-anchor="start" fill="#444" font-family='"Liberation Mono", monospace' >G</text>
<line x1="521" y1="263.2" x2="521" y2="268.8" stroke="#222" stroke-width="0.7" />
<text x="522.4" y="264.6" font-size="3.2" text-anchor="start" fill="#444" font-family='"Liberation Mono", monospace' >G</text>
<line x1="563" y1="275.2" x2="563" y2="280.8" stroke="#222" stroke-width="0.7" />
<text x="564.4" y="276.6" font-size="3.2" text-anchor="start" fill="#444" font-family='"Liberation Mono", monospace' >G</text>
<line x1="563" y1="294.6" x2="563" y2="300.2" stroke="#222" stroke-width="0.7" />
<text x="564.4" y="296" font-size="3.2" text-anchor="start" fill="#444" font-family='"Liberation Mono", monospace' >G</text>
<line x1="573.6" y1="306.2" x2="573.6" y2="311.8" stroke="#222" stroke-width="0.7" />
<text x="575" y="307.6" font-size="3.2" text-anchor="start" fill="#444" font-family='"Liberation Mono", monospace' >G</text>
<line x1="568" y1="318.2" x2="568" y2="323.8" stroke="#222" stroke-width="0.7" />
<text x="569.4" y="319.6" font-size="3.2" text-anchor="start" fill="#444" font-family='"Liberation Mono", monospace' >G</text>
<line x1="573" y1="330.2" x2="573" y2="335.8" stroke="#222" stroke-width="0.7" />
<text x="574.4" y="331.6" font-size="3.2" text-anchor="start" fill="#444" font-family='"Liberation Mono", monospace' >G</text>
<line x1="575" y1="341.8" x2="575" y2="347.4" stroke="#222" stroke-width="0.7" />
<text x="576.4" y="343.2" font-size="3.2" text-anchor="start" fill="#444" font-family='"Liberation Mono", monospace' >G</text>
<line x1="579.4" y1="353.6" x2="579.4" y2="359.2" stroke="#222" stroke-width="0.7" />
<text x="580.8" y="355" font-size="3.2" text-anchor="start" fill="#444" font-family='"Liberation Mono", monospace' >G</text>
<line x1="571" y1="365.4" x2="571" y2="371" stroke="#222" stroke-width="0.7" />
<text x="572.4" y="366.8" font-size="3.2" text-anchor="start" fill="#444" font-family='"Liberation Mono", monospace' >G</text>
<line x1="579" y1="377.2" x2="579" y2="382.8" stroke="#222" stroke-width="0.7" />
<text x="580.4" y="378.6" font-size="3.2" text-anchor="start" fill="#444" font-family='"Liberation Mono", monospace' >G</text>
<line x1="564" y1="388.8" x2="564" y2="394.4" stroke="#222" stroke-width="0.7" />
<text x="565.4" y="390.2" font-size="3.2" text-anchor="start" fill="#444" font-family='"Liberation Mono", monospace' >G</text>
<line x1="575" y1="400.8" x2="575" y2="406.4" stroke="#222" stroke-width="0.7" />
<text x="576.4" y="402.2" font-size="3.2" text-anchor="start" fill="#444" font-family='"Liberation Mono", monospace' >G</text>
<line x1="582" y1="412.6" x2="582" y2="418.2" stroke="#222" stroke-width="0.7" />
<text x="583.4" y="414" font-size="3.2" text-anchor="start" fill="#444" font-family='"Liberation Mono", monospace' >G</text>
<line x1="574" y1="424.2" x2="574" y2="429.8" stroke="#222" stroke-width="0.7" />
<text x="575.4" y="425.6" font-size="3.2" text-anchor="start" fill="#444" font-family='"Liberation Mono", monospace' >G</text>
<line x1="568.4" y1="145.6" x2="568.4" y2="151.2" stroke="#222" stroke-width="0.7" />
<text x="569.8" y="147" font-size="3.2" text-anchor="start" fill="#444" font-family='"Liberation Mono", monospace' >H</text>
<line x1="556.4" y1="157.2" x2="556.4" y2="162.8" stroke="#222" stroke-width="0.7" />
<text x="557.8" y="158.6" font-size="3.2" text-anchor="start" fill="#444" font-family='"Liberation Mono", monospace' >H</text>
<line x1="572.5" y1="169.2" x2="572.5" y2="174.8" stroke="#222" stroke-width="0.7" />
<text x="573.9" y="170.6" font-size="3.2" text-anchor="start" fill="#444" font-family='"Liberation Mono", monospace' >H</text>
<line x1="561.7" y1="180.8" x2="561.7" y2="186.4" stroke="#222" stroke-width="0.7" />
<text x="563.1" y="182.2" font-size="3.2" text-anchor="start" fill="#444" font-family='"Liberation Mono", monospace' >H</text>
<line x1="550.4" y1="192.6" x2="550.4" y2="198.2" stroke="#222" stroke-width="0.7" />
<text x="551.8" y="194" font-size="3.2" text-anchor="start" fill="#444" font-family='"Liberation Mono", monospace' >H</text>
<line x1="564.7" y1="204.4" x2="564.7" y2="210" stroke="#222" stroke-width="0.7" />
<text x="566.1" y="205.8" font-size="3.2" text-anchor="start" fill="#444" font-family='"Liberation Mono", monospace' >H</text>
<line x1="557.5" y1="216" x2="557.5" y2="221.6" stroke="#222" stroke-width="0.7" />
<text x="558.9" y="217.4" font-size="3.2" text-anchor="start" fill="#444" font-family='"Liberation Mono", monospace' >H</text>
<line x1="588" y1="227.8" x2="588" y2="233.4" stroke="#222" stroke-width="0.7" />
<text x="589.4" y="229.2" font-size="3.2" text-anchor="start" fill="#444" font-family='"Liberation Mono", monospace' >H</text>
<line x1="567" y1="239.6" x2="567" y2="245.2" stroke="#222" stroke-width="0.7" />
<text x="568.4" y="241" font-size="3.2" text-anchor="start" fill="#444" font-family='"Liberation Mono", monospace' >H</text>
<line x1="538" y1="251.6" x2="538" y2="257.2" stroke="#222" stroke-width="0.7" />
<text x="539.4" y="253" font-size="3.2" text-anchor="start" fill="#444" font-family='"Liberation Mono", monospace' >H</text>
<line x1="538" y1="263.2" x2="538" y2="268.8" stroke="#222" stroke-width="0.7" />
<text x="539.4" y="264.6" font-size="3.2" text-anchor="start" fill="#444" font-family='"Liberation Mono", monospace' >H</text>
<line x1="579.4" y1="275.2" x2="579.4" y2="280.8" stroke="#222" stroke-width="0.7" />
<text x="580.8" y="276.6" font-size="3.2" text-anchor="start" fill="#444" font-family='"Liberation Mono", monospace' >H</text>
<line x1="579.4" y1="294.6" x2="579.4" y2="300.2" stroke="#222" stroke-width="0.7" />
<text x="580.8" y="296" font-size="3.2" text-anchor="start" fill="#444" font-family='"Liberation Mono", monospace' >H</text>
<line x1="590" y1="306.2" x2="590" y2="311.8" stroke="#222" stroke-width="0.7" />
<text x="591.4" y="307.6" font-size="3.2" text-anchor="start" fill="#444" font-family='"Liberation Mono", monospace' >H</text>
<line x1="584.4" y1="318.2" x2="584.4" y2="323.8" stroke="#222" stroke-width="0.7" />
<text x="585.8" y="319.6" font-size="3.2" text-anchor="start" fill="#444" font-family='"Liberation Mono", monospace' >H</text>
<line x1="589.4" y1="330.2" x2="589.4" y2="335.8" stroke="#222" stroke-width="0.7" />
<text x="590.8" y="331.6" font-size="3.2" text-anchor="start" fill="#444" font-family='"Liberation Mono", monospace' >H</text>
<line x1="591.4" y1="341.8" x2="591.4" y2="347.4" stroke="#222" stroke-width="0.7" />
<text x="592.8" y="343.2" font-size="3.2" text-anchor="start" fill="#444" font-family='"Liberation Mono", monospace' >H</text>
<line x1="596" y1="353.6" x2="596" y2="359.2" stroke="#222" stroke-width="0.7" />
<text x="597.4" y="355" font-size="3.2" text-anchor="start" fill="#444" font-family='"Liberation Mono", monospace' >H</text>
<line x1="588" y1="365.4" x2="588" y2="371" stroke="#222" stroke-width="0.7" />
<text x="589.4" y="366.8" font-size="3.2" text-anchor="start" fill="#444" font-family='"Liberation Mono", monospace' >H</text>
<line x1="595.6" y1="377.2" x2="595.6" y2="382.8" stroke="#222" stroke-width="0.7" />
<text x="597" y="378.6" font-size="3.2" text-anchor="start" fill="#444" font-family='"Liberation Mono", monospace' >H</text>
<line x1="580" y1="388.8" x2="580" y2="394.4" stroke="#222" stroke-width="0.7" />
<text x="581.4" y="390.2" font-size="3.2" text-anchor="start" fill="#444" font-family='"Liberation Mono", monospace' >H</text>
<line x1="591.4" y1="400.8" x2="591.4" y2="406.4" stroke="#222" stroke-width="0.7" />
<text x="592.8" y="402.2" font-size="3.2" text-anchor="start" fill="#444" font-family='"Liberation Mono", monospace' >H</text>
<line x1="598.4" y1="412.6" x2="598.4" y2="418.2" stroke="#222" stroke-width="0.7" />
<text x="599.8" y="414" font-size="3.2" text-anchor="start" fill="#444" font-family='"Liberation Mono", monospace' >H</text>
<line x1="590.4" y1="424.2" x2="590.4" y2="429.8" stroke="#222" stroke-width="0.7" />
<text x="591.8" y="425.6" font-size="3.2" text-anchor="start" fill="#444" font-family='"Liberation Mono", monospace' >H</text>
<line x1="580.4" y1="145.6" x2="580.4" y2="151.2" stroke="#222" stroke-width="0.7" />
<text x="581.8" y="147" font-size="3.2" text-anchor="start" fill="#444" font-family='"Liberation Mono", monospace' >I</text>
<line x1="568" y1="157.2" x2="568" y2="162.8" stroke="#222" stroke-width="0.7" />
<text x="569.4" y="158.6" font-size="3.2" text-anchor="start" fill="#444" font-family='"Liberation Mono", monospace' >I</text>
<line x1="587.5" y1="169.2" x2="587.5" y2="174.8" stroke="#222" stroke-width="0.7" />
<text x="588.9" y="170.6" font-size="3.2" text-anchor="start" fill="#444" font-family='"Liberation Mono", monospace' >I</text>
<line x1="573.2" y1="180.8" x2="573.2" y2="186.4" stroke="#222" stroke-width="0.7" />
<text x="574.6" y="182.2" font-size="3.2" text-anchor="start" fill="#444" font-family='"Liberation Mono", monospace' >I</text>
<line x1="562" y1="192.6" x2="562" y2="198.2" stroke="#222" stroke-width="0.7" />
<text x="563.4" y="194" font-size="3.2" text-anchor="start" fill="#444" font-family='"Liberation Mono", monospace' >I</text>
<line x1="576.2" y1="204.4" x2="576.2" y2="210" stroke="#222" stroke-width="0.7" />
<text x="577.6" y="205.8" font-size="3.2" text-anchor="start" fill="#444" font-family='"Liberation Mono", monospace' >I</text>
<line x1="574" y1="216" x2="574" y2="221.6" stroke="#222" stroke-width="0.7" />
<text x="575.4" y="217.4" font-size="3.2" text-anchor="start" fill="#444" font-family='"Liberation Mono", monospace' >I</text>
<line x1="600" y1="227.8" x2="600" y2="233.4" stroke="#222" stroke-width="0.7" />
<text x="601.4" y="229.2" font-size="3.2" text-anchor="start" fill="#444" font-family='"Liberation Mono", monospace' >I</text>
<line x1="580" y1="239.6" x2="580" y2="245.2" stroke="#222" stroke-width="0.7" />
<text x="581.4" y="241" font-size="3.2" text-anchor="start" fill="#444" font-family='"Liberation Mono", monospace' >I</text>
<line x1="551" y1="251.6" x2="551" y2="257.2" stroke="#222" stroke-width="0.7" />
<text x="552.4" y="253" font-size="3.2" text-anchor="start" fill="#444" font-family='"Liberation Mono", monospace' >I</text>
<line x1="549" y1="263.2" x2="549" y2="268.8" stroke="#222" stroke-width="0.7" />
<text x="550.4" y="264.6" font-size="3.2" text-anchor="start" fill="#444" font-family='"Liberation Mono", monospace' >I</text>
<line x1="594" y1="275.2" x2="594" y2="280.8" stroke="#222" stroke-width="0.7" />
<text x="595.4" y="276.6" font-size="3.2" text-anchor="start" fill="#444" font-family='"Liberation Mono", monospace' >I</text>
<line x1="590.6" y1="294.6" x2="590.6" y2="300.2" stroke="#222" stroke-width="0.7" />
<text x="592" y="296" font-size="3.2" text-anchor="start" fill="#444" font-family='"Liberation Mono", monospace' >I</text>
<line x1="602.4" y1="306.2" x2="602.4" y2="311.8" stroke="#222" stroke-width="0.7" />
<text x="603.8" y="307.6" font-size="3.2" text-anchor="start" fill="#444" font-family='"Liberation Mono", monospace' >I</text>
<line x1="596.6" y1="318.2" x2="596.6" y2="323.8" stroke="#222" stroke-width="0.7" />
<text x="598" y="319.6" font-size="3.2" text-anchor="start" fill="#444" font-family='"Liberation Mono", monospace' >I</text>
<line x1="602" y1="330.2" x2="602" y2="335.8" stroke="#222" stroke-width="0.7" />
<text x="603.4" y="331.6" font-size="3.2" text-anchor="start" fill="#444" font-family='"Liberation Mono", monospace' >I</text>
<line x1="604" y1="341.8" x2="604" y2="347.4" stroke="#222" stroke-width="0.7" />
<text x="605.4" y="343.2" font-size="3.2" text-anchor="start" fill="#444" font-family='"Liberation Mono", monospace' >I</text>
<line x1="607.4" y1="353.6" x2="607.4" y2="359.2" stroke="#222" stroke-width="0.7" />
<text x="608.8" y="355" font-size="3.2" text-anchor="start" fill="#444" font-family='"Liberation Mono", monospace' >I</text>
<line x1="601.6" y1="365.4" x2="601.6" y2="371" stroke="#222" stroke-width="0.7" />
<text x="603" y="366.8" font-size="3.2" text-anchor="start" fill="#444" font-family='"Liberation Mono", monospace' >I</text>
<line x1="608" y1="377.2" x2="608" y2="382.8" stroke="#222" stroke-width="0.7" />
<text x="609.4" y="378.6" font-size="3.2" text-anchor="start" fill="#444" font-family='"Liberation Mono", monospace' >I</text>
<line x1="593" y1="388.8" x2="593" y2="394.4" stroke="#222" stroke-width="0.7" />
<text x="594.4" y="390.2" font-size="3.2" text-anchor="start" fill="#444" font-family='"Liberation Mono", monospace' >I</text>
<line x1="608" y1="400.8" x2="608" y2="406.4" stroke="#222" stroke-width="0.7" />
<text x="609.4" y="402.2" font-size="3.2" text-anchor="start" fill="#444" font-family='"Liberation Mono", monospace' >I</text>
<line x1="610" y1="412.6" x2="610" y2="418.2" stroke="#222" stroke-width="0.7" />
<text x="611.4" y="414" font-size="3.2" text-anchor="start" fill="#444" font-family='"Liberation Mono", monospace' >I</text>
<line x1="602.4" y1="424.2" x2="602.4" y2="429.8" stroke="#222" stroke-width="0.7" />
<text x="603.8" y="425.6" font-size="3.2" text-anchor="start" fill="#444" font-family='"Liberation Mono", monospace' >I</text>
<line x1="613" y1="145.6" x2="613" y2="151.2" stroke="#222" stroke-width="0.7" />
<text x="614.4" y="147" font-size="3.2" text-anchor="start" fill="#444" font-family='"Liberation Mono", monospace' >J</text>
<line x1="601.4" y1="157.2" x2="601.4" y2="162.8" stroke="#222" stroke-width="0.7" />
<text x="602.8" y="158.6" font-size="3.2" text-anchor="start" fill="#444" font-family='"Liberation Mono", monospace' >J</text>
<line x1="620.8" y1="169.2" x2="620.8" y2="174.8" stroke="#222" stroke-width="0.7" />
<text x="622.2" y="170.6" font-size="3.2" text-anchor="start" fill="#444" font-family='"Liberation Mono", monospace' >J</text>
<line x1="606.7" y1="180.8" x2="606.7" y2="186.4" stroke="#222" stroke-width="0.7" />
<text x="608.1" y="182.2" font-size="3.2" text-anchor="start" fill="#444" font-family='"Liberation Mono", monospace' >J</text>
<line x1="594.5" y1="192.6" x2="594.5" y2="198.2" stroke="#222" stroke-width="0.7" />
<text x="595.9" y="194" font-size="3.2" text-anchor="start" fill="#444" font-family='"Liberation Mono", monospace' >J</text>
<line x1="608.5" y1="204.4" x2="608.5" y2="210" stroke="#222" stroke-width="0.7" />
<text x="609.9" y="205.8" font-size="3.2" text-anchor="start" fill="#444" font-family='"Liberation Mono", monospace' >J</text>
<line x1="601.3" y1="216" x2="601.3" y2="221.6" stroke="#222" stroke-width="0.7" />
<text x="602.7" y="217.4" font-size="3.2" text-anchor="start" fill="#444" font-family='"Liberation Mono", monospace' >J</text>
<line x1="634" y1="227.8" x2="634" y2="233.4" stroke="#222" stroke-width="0.7" />
<text x="635.4" y="229.2" font-size="3.2" text-anchor="start" fill="#444" font-family='"Liberation Mono", monospace' >J</text>
<line x1="608" y1="239.6" x2="608" y2="245.2" stroke="#222" stroke-width="0.7" />
<text x="609.4" y="241" font-size="3.2" text-anchor="start" fill="#444" font-family='"Liberation Mono", monospace' >J</text>
<line x1="588" y1="251.6" x2="588" y2="257.2" stroke="#222" stroke-width="0.7" />
<text x="589.4" y="253" font-size="3.2" text-anchor="start" fill="#444" font-family='"Liberation Mono", monospace' >J</text>
<line x1="582" y1="263.2" x2="582" y2="268.8" stroke="#222" stroke-width="0.7" />
<text x="583.4" y="264.6" font-size="3.2" text-anchor="start" fill="#444" font-family='"Liberation Mono", monospace' >J</text>
<line x1="627.4" y1="275.2" x2="627.4" y2="280.8" stroke="#222" stroke-width="0.7" />
<text x="628.8" y="276.6" font-size="3.2" text-anchor="start" fill="#444" font-family='"Liberation Mono", monospace' >J</text>
<line x1="624" y1="294.6" x2="624" y2="300.2" stroke="#222" stroke-width="0.7" />
<text x="625.4" y="296" font-size="3.2" text-anchor="start" fill="#444" font-family='"Liberation Mono", monospace' >J</text>
<line x1="635.4" y1="306.2" x2="635.4" y2="311.8" stroke="#222" stroke-width="0.7" />
<text x="636.8" y="307.6" font-size="3.2" text-anchor="start" fill="#444" font-family='"Liberation Mono", monospace' >J</text>
<line x1="629.6" y1="318.2" x2="629.6" y2="323.8" stroke="#222" stroke-width="0.7" />
<text x="631" y="319.6" font-size="3.2" text-anchor="start" fill="#444" font-family='"Liberation Mono", monospace' >J</text>
<line x1="635" y1="330.2" x2="635" y2="335.8" stroke="#222" stroke-width="0.7" />
<text x="636.4" y="331.6" font-size="3.2" text-anchor="start" fill="#444" font-family='"Liberation Mono", monospace' >J</text>
<line x1="637" y1="341.8" x2="637" y2="347.4" stroke="#222" stroke-width="0.7" />
<text x="638.4" y="343.2" font-size="3.2" text-anchor="start" fill="#444" font-family='"Liberation Mono", monospace' >J</text>
<line x1="640.6" y1="353.6" x2="640.6" y2="359.2" stroke="#222" stroke-width="0.7" />
<text x="642" y="355" font-size="3.2" text-anchor="start" fill="#444" font-family='"Liberation Mono", monospace' >J</text>
<line x1="635" y1="365.4" x2="635" y2="371" stroke="#222" stroke-width="0.7" />
<text x="636.4" y="366.8" font-size="3.2" text-anchor="start" fill="#444" font-family='"Liberation Mono", monospace' >J</text>
<line x1="641" y1="377.2" x2="641" y2="382.8" stroke="#222" stroke-width="0.7" />
<text x="642.4" y="378.6" font-size="3.2" text-anchor="start" fill="#444" font-family='"Liberation Mono", monospace' >J</text>
<line x1="626" y1="388.8" x2="626" y2="394.4" stroke="#222" stroke-width="0.7" />
<text x="627.4" y="390.2" font-size="3.2" text-anchor="start" fill="#444" font-family='"Liberation Mono", monospace' >J</text>
<line x1="641" y1="400.8" x2="641" y2="406.4" stroke="#222" stroke-width="0.7" />
<text x="642.4" y="402.2" font-size="3.2" text-anchor="start" fill="#444" font-family='"Liberation Mono", monospace' >J</text>
<line x1="643" y1="412.6" x2="643" y2="418.2" stroke="#222" stroke-width="0.7" />
<text x="644.4" y="414" font-size="3.2" text-anchor="start" fill="#444" font-family='"Liberation Mono", monospace' >J</text>
<line x1="635.4" y1="424.2" x2="635.4" y2="429.8" stroke="#222" stroke-width="0.7" />
<text x="636.8" y="425.6" font-size="3.2" text-anchor="start" fill="#444" font-family='"Liberation Mono", monospace' >J</text>
<line x1="651.2" y1="146" x2="651.2" y2="150.8" stroke="#333" stroke-width="0.6" />
<text x="652.4" y="152.6" font-size="2.8" text-anchor="start" fill="#555" font-family='"Liberation Mono", monospace' >K</text>
<line x1="613.7" y1="157.6" x2="613.7" y2="162.4" stroke="#333" stroke-width="0.6" />
<text x="614.9" y="164.2" font-size="2.8" text-anchor="start" fill="#555" font-family='"Liberation Mono", monospace' >K</text>
<line x1="657" y1="169.6" x2="657" y2="174.4" stroke="#333" stroke-width="0.6" />
<text x="658.2" y="176.2" font-size="2.8" text-anchor="start" fill="#555" font-family='"Liberation Mono", monospace' >K</text>
<line x1="645" y1="181.2" x2="645" y2="186" stroke="#333" stroke-width="0.6" />
<text x="646.2" y="187.8" font-size="2.8" text-anchor="start" fill="#555" font-family='"Liberation Mono", monospace' >K</text>
<line x1="630" y1="193" x2="630" y2="197.8" stroke="#333" stroke-width="0.6" />
<text x="631.2" y="199.6" font-size="2.8" text-anchor="start" fill="#555" font-family='"Liberation Mono", monospace' >K</text>
<line x1="649" y1="204.8" x2="649" y2="209.6" stroke="#333" stroke-width="0.6" />
<text x="650.2" y="211.4" font-size="2.8" text-anchor="start" fill="#555" font-family='"Liberation Mono", monospace' >K</text>
<line x1="631.5" y1="216.4" x2="631.5" y2="221.2" stroke="#333" stroke-width="0.6" />
<text x="632.7" y="223" font-size="2.8" text-anchor="start" fill="#555" font-family='"Liberation Mono", monospace' >K</text>
<line x1="837" y1="228.2" x2="837" y2="233" stroke="#333" stroke-width="0.6" />
<text x="838.2" y="234.8" font-size="2.8" text-anchor="start" fill="#555" font-family='"Liberation Mono", monospace' >K</text>
<line x1="657.6" y1="240" x2="657.6" y2="244.8" stroke="#333" stroke-width="0.6" />
<text x="658.8" y="246.6" font-size="2.8" text-anchor="start" fill="#555" font-family='"Liberation Mono", monospace' >K</text>
<line x1="623" y1="252" x2="623" y2="256.8" stroke="#333" stroke-width="0.6" />
<text x="624.2" y="258.6" font-size="2.8" text-anchor="start" fill="#555" font-family='"Liberation Mono", monospace' >K</text>
<line x1="582" y1="263.6" x2="582" y2="268.4" stroke="#333" stroke-width="0.6" />
<text x="583.2" y="270.2" font-size="2.8" text-anchor="start" fill="#555" font-family='"Liberation Mono", monospace' >K</text>
<line x1="664" y1="275.6" x2="664" y2="280.4" stroke="#333" stroke-width="0.6" />
<text x="665.2" y="282.2" font-size="2.8" text-anchor="start" fill="#555" font-family='"Liberation Mono", monospace' >K</text>
<line x1="310.4" y1="145" x2="310.4" y2="151.8" stroke="#333" stroke-width="0.75" />
<text x="312.4" y="146.4" font-size="2.8" text-anchor="start" fill="#555" font-family='"Liberation Mono", monospace' >P</text>
<line x1="162" y1="156.6" x2="162" y2="163.4" stroke="#333" stroke-width="0.75" />
<text x="164" y="158" font-size="2.8" text-anchor="start" fill="#555" font-family='"Liberation Mono", monospace' >P</text>
<line x1="167.4" y1="168.6" x2="167.4" y2="175.4" stroke="#333" stroke-width="0.75" />
<text x="169.4" y="170" font-size="2.8" text-anchor="start" fill="#555" font-family='"Liberation Mono", monospace' >P</text>
<line x1="153.2" y1="180.2" x2="153.2" y2="187" stroke="#333" stroke-width="0.75" />
<text x="155.2" y="181.6" font-size="2.8" text-anchor="start" fill="#555" font-family='"Liberation Mono", monospace' >P</text>
<line x1="-9" y1="192" x2="-9" y2="198.8" stroke="#333" stroke-width="0.75" />
<text x="-7" y="193.4" font-size="2.8" text-anchor="start" fill="#555" font-family='"Liberation Mono", monospace' >P</text>
<line x1="17.5" y1="203.8" x2="17.5" y2="210.6" stroke="#333" stroke-width="0.75" />
<text x="19.5" y="205.2" font-size="2.8" text-anchor="start" fill="#555" font-family='"Liberation Mono", monospace' >P</text>
<line x1="-50" y1="215.4" x2="-50" y2="222.2" stroke="#333" stroke-width="0.75" />
<text x="-48" y="216.8" font-size="2.8" text-anchor="start" fill="#555" font-family='"Liberation Mono", monospace' >P</text>
<line x1="119.4" y1="227.2" x2="119.4" y2="234" stroke="#333" stroke-width="0.75" />
<text x="121.4" y="228.6" font-size="2.8" text-anchor="start" fill="#555" font-family='"Liberation Mono", monospace' >P</text>
<line x1="-62" y1="239" x2="-62" y2="245.8" stroke="#333" stroke-width="0.75" />
<text x="-60" y="240.4" font-size="2.8" text-anchor="start" fill="#555" font-family='"Liberation Mono", monospace' >P</text>
<line x1="-420" y1="251" x2="-420" y2="257.8" stroke="#333" stroke-width="0.75" />
<text x="-418" y="252.4" font-size="2.8" text-anchor="start" fill="#555" font-family='"Liberation Mono", monospace' >P</text>
<line x1="-520" y1="262.6" x2="-520" y2="269.4" stroke="#333" stroke-width="0.75" />
<text x="-518" y="264" font-size="2.8" text-anchor="start" fill="#555" font-family='"Liberation Mono", monospace' >P</text>
<line x1="-640" y1="274.6" x2="-640" y2="281.4" stroke="#333" stroke-width="0.75" />
<text x="-638" y="276" font-size="2.8" text-anchor="start" fill="#555" font-family='"Liberation Mono", monospace' >P</text>
<line x1="1110" y1="294" x2="1110" y2="300.8" stroke="#333" stroke-width="0.75" />
<text x="1112" y="295.4" font-size="2.8" text-anchor="start" fill="#555" font-family='"Liberation Mono", monospace' >P</text>
<line x1="874" y1="305.6" x2="874" y2="312.4" stroke="#333" stroke-width="0.75" />
<text x="876" y="307" font-size="2.8" text-anchor="start" fill="#555" font-family='"Liberation Mono", monospace' >P</text>
<line x1="1008" y1="317.6" x2="1008" y2="324.4" stroke="#333" stroke-width="0.75" />
<text x="1010" y="319" font-size="2.8" text-anchor="start" fill="#555" font-family='"Liberation Mono", monospace' >P</text>
<line x1="717.4" y1="329.6" x2="717.4" y2="336.4" stroke="#333" stroke-width="0.75" />
<text x="719.4" y="331" font-size="2.8" text-anchor="start" fill="#555" font-family='"Liberation Mono", monospace' >P</text>
<line x1="842.7" y1="341.2" x2="842.7" y2="348" stroke="#333" stroke-width="0.75" />
<text x="844.7" y="342.6" font-size="2.8" text-anchor="start" fill="#555" font-family='"Liberation Mono", monospace' >P</text>
<line x1="881" y1="353" x2="881" y2="359.8" stroke="#333" stroke-width="0.75" />
<text x="883" y="354.4" font-size="2.8" text-anchor="start" fill="#555" font-family='"Liberation Mono", monospace' >P</text>
<line x1="885.5" y1="364.8" x2="885.5" y2="371.6" stroke="#333" stroke-width="0.75" />
<text x="887.5" y="366.2" font-size="2.8" text-anchor="start" fill="#555" font-family='"Liberation Mono", monospace' >P</text>
<line x1="758.8" y1="376.6" x2="758.8" y2="383.4" stroke="#333" stroke-width="0.75" />
<text x="760.8" y="378" font-size="2.8" text-anchor="start" fill="#555" font-family='"Liberation Mono", monospace' >P</text>
<line x1="823.6" y1="388.2" x2="823.6" y2="395" stroke="#333" stroke-width="0.75" />
<text x="825.6" y="389.6" font-size="2.8" text-anchor="start" fill="#555" font-family='"Liberation Mono", monospace' >P</text>
<line x1="851.7" y1="400.2" x2="851.7" y2="407" stroke="#333" stroke-width="0.75" />
<text x="853.7" y="401.6" font-size="2.8" text-anchor="start" fill="#555" font-family='"Liberation Mono", monospace' >P</text>
<line x1="825.4" y1="412" x2="825.4" y2="418.8" stroke="#333" stroke-width="0.75" />
<text x="827.4" y="413.4" font-size="2.8" text-anchor="start" fill="#555" font-family='"Liberation Mono", monospace' >P</text>
<line x1="748" y1="423.6" x2="748" y2="430.4" stroke="#333" stroke-width="0.75" />
<text x="750" y="425" font-size="2.8" text-anchor="start" fill="#555" font-family='"Liberation Mono", monospace' >P</text>
<line x1="75" y1="294" x2="75" y2="300.8" stroke="#333" stroke-width="0.75" />
<text x="76.6" y="295.4" font-size="2.8" text-anchor="start" fill="#555" font-family='"Liberation Mono", monospace' >A</text>
<line x1="235" y1="305.6" x2="235" y2="312.4" stroke="#333" stroke-width="0.75" />
<text x="236.6" y="307" font-size="2.8" text-anchor="start" fill="#555" font-family='"Liberation Mono", monospace' >A</text>
<line x1="375" y1="317.6" x2="375" y2="324.4" stroke="#333" stroke-width="0.75" />
<text x="376.6" y="319" font-size="2.8" text-anchor="start" fill="#555" font-family='"Liberation Mono", monospace' >A</text>
<line x1="99" y1="329.6" x2="99" y2="336.4" stroke="#333" stroke-width="0.75" />
<text x="100.6" y="331" font-size="2.8" text-anchor="start" fill="#555" font-family='"Liberation Mono", monospace' >A</text>
<line x1="240" y1="341.2" x2="240" y2="348" stroke="#333" stroke-width="0.75" />
<text x="241.6" y="342.6" font-size="2.8" text-anchor="start" fill="#555" font-family='"Liberation Mono", monospace' >A</text>
<line x1="352" y1="353" x2="352" y2="359.8" stroke="#333" stroke-width="0.75" />
<text x="353.6" y="354.4" font-size="2.8" text-anchor="start" fill="#555" font-family='"Liberation Mono", monospace' >A</text>
<line x1="398" y1="364.8" x2="398" y2="371.6" stroke="#333" stroke-width="0.75" />
<text x="399.6" y="366.2" font-size="2.8" text-anchor="start" fill="#555" font-family='"Liberation Mono", monospace' >A</text>
<line x1="291" y1="376.6" x2="291" y2="383.4" stroke="#333" stroke-width="0.75" />
<text x="292.6" y="378" font-size="2.8" text-anchor="start" fill="#555" font-family='"Liberation Mono", monospace' >A</text>
<line x1="367" y1="388.2" x2="367" y2="395" stroke="#333" stroke-width="0.75" />
<text x="368.6" y="389.6" font-size="2.8" text-anchor="start" fill="#555" font-family='"Liberation Mono", monospace' >A</text>
<line x1="415.6" y1="400.2" x2="415.6" y2="407" stroke="#333" stroke-width="0.75" />
<text x="417.2" y="401.6" font-size="2.8" text-anchor="start" fill="#555" font-family='"Liberation Mono", monospace' >A</text>
<line x1="435.6" y1="412" x2="435.6" y2="418.8" stroke="#333" stroke-width="0.75" />
<text x="437.2" y="413.4" font-size="2.8" text-anchor="start" fill="#555" font-family='"Liberation Mono", monospace' >A</text>
<line x1="390" y1="423.6" x2="390" y2="430.4" stroke="#333" stroke-width="0.75" />
<text x="391.6" y="425" font-size="2.8" text-anchor="start" fill="#555" font-family='"Liberation Mono", monospace' >A</text>
<text x="183.4" y="157.3" font-size="7.9" text-anchor="start" fill="#4a4a4a" font-family='"Liberation Mono", monospace' >Cheniston</text>
<text x="686.8" y="155.6" font-size="5.5" text-anchor="start" fill="#4a4a4a" font-family='"Liberation Mono", monospace' >AJ:7.22</text>
<text x="654.7" y="149.6" font-size="3.4" text-anchor="start" fill="#666" font-family='"Liberation Mono", monospace' >S6:10.09</text>
<text x="368.3" y="151.8" font-size="2.6" text-anchor="start" fill="#666" font-family='"Liberation Mono", monospace' >S6</text>
<text x="368.3" y="159" font-size="2.6" text-anchor="start" fill="#666" font-family='"Liberation Mono", monospace' >A</text>
<text x="183.4" y="168.9" font-size="7.9" text-anchor="start" fill="#4a4a4a" font-family='"Liberation Mono", monospace' >Acajulta</text>
<text x="686.8" y="167.2" font-size="5.5" text-anchor="start" fill="#4a4a4a" font-family='"Liberation Mono", monospace' >AJ:6.59</text>
<text x="617.2" y="161.2" font-size="3.4" text-anchor="start" fill="#666" font-family='"Liberation Mono", monospace' >S3:13.25</text>
<text x="368.3" y="163.4" font-size="2.6" text-anchor="start" fill="#666" font-family='"Liberation Mono", monospace' >S3</text>
<text x="368.3" y="170.6" font-size="2.6" text-anchor="start" fill="#666" font-family='"Liberation Mono", monospace' >A</text>
<text x="183.4" y="180.9" font-size="7.9" text-anchor="start" fill="#4a4a4a" font-family='"Liberation Mono", monospace' >Albertolite</text>
<text x="686.8" y="179.2" font-size="5.5" text-anchor="start" fill="#4a4a4a" font-family='"Liberation Mono", monospace' >AJ:7.35</text>
<text x="660.5" y="173.2" font-size="3.4" text-anchor="start" fill="#666" font-family='"Liberation Mono", monospace' >S11:14.35</text>
<text x="368.3" y="175.4" font-size="2.6" text-anchor="start" fill="#666" font-family='"Liberation Mono", monospace' >S11</text>
<text x="368.3" y="182.6" font-size="2.6" text-anchor="start" fill="#666" font-family='"Liberation Mono", monospace' >A</text>
<text x="183.4" y="192.5" font-size="7.9" text-anchor="start" fill="#4a4a4a" font-family='"Liberation Mono", monospace' >Agwilake</text>
<text x="686.8" y="190.8" font-size="5.5" text-anchor="start" fill="#4a4a4a" font-family='"Liberation Mono", monospace' >AJ:7.09</text>
<text x="648.5" y="184.8" font-size="3.4" text-anchor="start" fill="#666" font-family='"Liberation Mono", monospace' >S12:14.38</text>
<text x="368.3" y="187" font-size="2.6" text-anchor="start" fill="#666" font-family='"Liberation Mono", monospace' >S12</text>
<text x="368.3" y="194.2" font-size="2.6" text-anchor="start" fill="#666" font-family='"Liberation Mono", monospace' >A</text>
<text x="183.4" y="204.3" font-size="7.9" text-anchor="start" fill="#4a4a4a" font-family='"Liberation Mono", monospace' >Lake Miraflores</text>
<text x="686.8" y="202.6" font-size="5.5" text-anchor="start" fill="#4a4a4a" font-family='"Liberation Mono", monospace' >AJ:6.48</text>
<text x="633.5" y="196.6" font-size="3.4" text-anchor="start" fill="#666" font-family='"Liberation Mono", monospace' >S8:19.00</text>
<text x="368.3" y="198.8" font-size="2.6" text-anchor="start" fill="#666" font-family='"Liberation Mono", monospace' >S8</text>
<text x="368.3" y="206" font-size="2.6" text-anchor="start" fill="#666" font-family='"Liberation Mono", monospace' >A</text>
<text x="183.4" y="216.1" font-size="7.9" text-anchor="start" fill="#4a4a4a" font-family='"Liberation Mono", monospace' >Floridian</text>
<text x="686.8" y="214.4" font-size="5.5" text-anchor="start" fill="#4a4a4a" font-family='"Liberation Mono", monospace' >AJ:7.13</text>
<text x="652.5" y="208.4" font-size="3.4" text-anchor="start" fill="#666" font-family='"Liberation Mono", monospace' >S10:19.53</text>
<text x="368.3" y="210.6" font-size="2.6" text-anchor="start" fill="#666" font-family='"Liberation Mono", monospace' >S10</text>
<text x="368.3" y="217.8" font-size="2.6" text-anchor="start" fill="#666" font-family='"Liberation Mono", monospace' >A</text>
<text x="183.4" y="227.7" font-size="7.9" text-anchor="start" fill="#4a4a4a" font-family='"Liberation Mono", monospace' >Canadolite</text>
<text x="686.8" y="226" font-size="5.5" text-anchor="start" fill="#4a4a4a" font-family='"Liberation Mono", monospace' >AJ:6.59</text>
<text x="635" y="220" font-size="3.4" text-anchor="start" fill="#666" font-family='"Liberation Mono", monospace' >S4:20.18</text>
<text x="368.3" y="222.2" font-size="2.6" text-anchor="start" fill="#666" font-family='"Liberation Mono", monospace' >S4</text>
<text x="368.3" y="229.4" font-size="2.6" text-anchor="start" fill="#666" font-family='"Liberation Mono", monospace' >A</text>
<text x="183.4" y="239.5" font-size="7.9" text-anchor="start" fill="#4a4a4a" font-family='"Liberation Mono", monospace' >Reginolite</text>
<text x="686.8" y="237.8" font-size="5.5" text-anchor="start" fill="#4a4a4a" font-family='"Liberation Mono", monospace' >AJ:7.59</text>
<text x="840.5" y="231.8" font-size="3.4" text-anchor="start" fill="#666" font-family='"Liberation Mono", monospace' >S9:21.20</text>
<text x="368.3" y="234" font-size="2.6" text-anchor="start" fill="#666" font-family='"Liberation Mono", monospace' >S9</text>
<text x="368.3" y="241.2" font-size="2.6" text-anchor="start" fill="#666" font-family='"Liberation Mono", monospace' >A</text>
<text x="183.4" y="251.3" font-size="7.9" text-anchor="start" fill="#4a4a4a" font-family='"Liberation Mono", monospace' >Francis E.I</text>
<text x="686.8" y="249.6" font-size="5.5" text-anchor="start" fill="#4a4a4a" font-family='"Liberation Mono", monospace' >AJ:7.11</text>
<text x="661.1" y="243.6" font-size="3.4" text-anchor="start" fill="#666" font-family='"Liberation Mono", monospace' >S2:21.45</text>
<text x="368.3" y="245.8" font-size="2.6" text-anchor="start" fill="#666" font-family='"Liberation Mono", monospace' >S2</text>
<text x="368.3" y="253" font-size="2.6" text-anchor="start" fill="#666" font-family='"Liberation Mono", monospace' >A</text>
<text x="183.4" y="263.3" font-size="7.9" text-anchor="start" fill="#4a4a4a" font-family='"Liberation Mono", monospace' >Mamari</text>
<text x="686.8" y="261.6" font-size="5.5" text-anchor="start" fill="#4a4a4a" font-family='"Liberation Mono", monospace' >AJ:6.34</text>
<text x="626.5" y="255.6" font-size="3.4" text-anchor="start" fill="#666" font-family='"Liberation Mono", monospace' >S1:21.55</text>
<text x="368.3" y="257.8" font-size="2.6" text-anchor="start" fill="#666" font-family='"Liberation Mono", monospace' >S1</text>
<text x="368.3" y="265" font-size="2.6" text-anchor="start" fill="#666" font-family='"Liberation Mono", monospace' >A</text>
<text x="183.4" y="274.9" font-size="7.9" text-anchor="start" fill="#4a4a4a" font-family='"Liberation Mono", monospace' >Bowden</text>
<text x="686.8" y="273.2" font-size="5.5" text-anchor="start" fill="#4a4a4a" font-family='"Liberation Mono", monospace' >AJ:6.15</text>
<text x="585.5" y="267.2" font-size="3.4" text-anchor="start" fill="#666" font-family='"Liberation Mono", monospace' >S5:27.05</text>
<text x="368.3" y="269.4" font-size="2.6" text-anchor="start" fill="#666" font-family='"Liberation Mono", monospace' >S5</text>
<text x="368.3" y="276.6" font-size="2.6" text-anchor="start" fill="#666" font-family='"Liberation Mono", monospace' >A</text>
<text x="183.4" y="286.9" font-size="7.9" text-anchor="start" fill="#4a4a4a" font-family='"Liberation Mono", monospace' >Negada</text>
<text x="686.8" y="285.2" font-size="5.5" text-anchor="start" fill="#4a4a4a" font-family='"Liberation Mono", monospace' >AJ:7.46</text>
<text x="667.5" y="279.2" font-size="3.4" text-anchor="start" fill="#666" font-family='"Liberation Mono", monospace' >S7:30.35</text>
<text x="368.3" y="281.4" font-size="2.6" text-anchor="start" fill="#666" font-family='"Liberation Mono", monospace' >S7</text>
<text x="368.3" y="288.6" font-size="2.6" text-anchor="start" fill="#666" font-family='"Liberation Mono", monospace' >A</text>
<text x="765" y="306" font-size="7.9" text-anchor="start" fill="#4a4a4a" font-family='"Liberation Mono", monospace' >Amazonas</text>
<text x="723.5" y="305" font-size="5.4" text-anchor="start" fill="#4a4a4a" font-family='"Liberation Mono", monospace' >BK:8.04</text>
<text x="700.5" y="302.4" font-size="3.2" text-anchor="start" fill="#666" font-family='"Liberation Mono", monospace' >KP18.14</text>
<text x="671.5" y="302" font-size="2.8" text-anchor="start" fill="#555" font-family='"Liberation Mono", monospace' >N5</text>
<text x="671.5" y="307.8" font-size="2.8" text-anchor="start" fill="#555" font-family='"Liberation Mono", monospace' >K</text>
<text x="765" y="317.6" font-size="7.9" text-anchor="start" fill="#4a4a4a" font-family='"Liberation Mono", monospace' >Panaman</text>
<text x="723.5" y="316.6" font-size="5.4" text-anchor="start" fill="#4a4a4a" font-family='"Liberation Mono", monospace' >BK:7.25</text>
<text x="700.5" y="314" font-size="3.2" text-anchor="start" fill="#666" font-family='"Liberation Mono", monospace' >KP7.05</text>
<text x="671.5" y="313.6" font-size="2.8" text-anchor="start" fill="#555" font-family='"Liberation Mono", monospace' >N9</text>
<text x="671.5" y="319.4" font-size="2.8" text-anchor="start" fill="#555" font-family='"Liberation Mono", monospace' >K</text>
<text x="765" y="329.6" font-size="7.9" text-anchor="start" fill="#4a4a4a" font-family='"Liberation Mono", monospace' >Utacarbon</text>
<text x="723.5" y="328.6" font-size="5.4" text-anchor="start" fill="#4a4a4a" font-family='"Liberation Mono", monospace' >BK:8.46</text>
<text x="700.5" y="326" font-size="3.2" text-anchor="start" fill="#666" font-family='"Liberation Mono", monospace' >KP10.14</text>
<text x="671.5" y="325.6" font-size="2.8" text-anchor="start" fill="#555" font-family='"Liberation Mono", monospace' >N8</text>
<text x="671.5" y="331.4" font-size="2.8" text-anchor="start" fill="#555" font-family='"Liberation Mono", monospace' >K</text>
<text x="765" y="341.6" font-size="7.9" text-anchor="start" fill="#4a4a4a" font-family='"Liberation Mono", monospace' >Santa Tecla</text>
<text x="723.5" y="340.6" font-size="5.4" text-anchor="start" fill="#4a4a4a" font-family='"Liberation Mono", monospace' >BK:8.03</text>
<text x="700.5" y="338" font-size="3.2" text-anchor="start" fill="#666" font-family='"Liberation Mono", monospace' >KP1.23</text>
<text x="671.5" y="337.6" font-size="2.8" text-anchor="start" fill="#555" font-family='"Liberation Mono", monospace' >N11</text>
<text x="671.5" y="343.4" font-size="2.8" text-anchor="start" fill="#555" font-family='"Liberation Mono", monospace' >K</text>
<text x="765" y="353.2" font-size="7.9" text-anchor="start" fill="#4a4a4a" font-family='"Liberation Mono", monospace' >Montevideo</text>
<text x="723.5" y="352.2" font-size="5.4" text-anchor="start" fill="#4a4a4a" font-family='"Liberation Mono", monospace' >BK:7.36</text>
<text x="700.5" y="349.6" font-size="3.2" text-anchor="start" fill="#666" font-family='"Liberation Mono", monospace' >KP5.10</text>
<text x="671.5" y="349.2" font-size="2.8" text-anchor="start" fill="#555" font-family='"Liberation Mono", monospace' >N12</text>
<text x="671.5" y="355" font-size="2.8" text-anchor="start" fill="#555" font-family='"Liberation Mono", monospace' >K</text>
<text x="765" y="365" font-size="7.9" text-anchor="start" fill="#4a4a4a" font-family='"Liberation Mono", monospace' >Bogota</text>
<text x="723.5" y="364" font-size="5.4" text-anchor="start" fill="#4a4a4a" font-family='"Liberation Mono", monospace' >BK:7.25</text>
<text x="700.5" y="361.4" font-size="3.2" text-anchor="start" fill="#666" font-family='"Liberation Mono", monospace' >KP4.20</text>
<text x="671.5" y="361" font-size="2.8" text-anchor="start" fill="#555" font-family='"Liberation Mono", monospace' >N1</text>
<text x="671.5" y="366.8" font-size="2.8" text-anchor="start" fill="#555" font-family='"Liberation Mono", monospace' >K</text>
<text x="765" y="376.8" font-size="7.9" text-anchor="start" fill="#4a4a4a" font-family='"Liberation Mono", monospace' >Robert E. Hopkins</text>
<text x="723.5" y="375.8" font-size="5.4" text-anchor="start" fill="#4a4a4a" font-family='"Liberation Mono", monospace' >BK:8.04</text>
<text x="700.5" y="373.2" font-size="3.2" text-anchor="start" fill="#666" font-family='"Liberation Mono", monospace' >KP4.24</text>
<text x="671.5" y="372.8" font-size="2.8" text-anchor="start" fill="#555" font-family='"Liberation Mono", monospace' >N6</text>
<text x="671.5" y="378.6" font-size="2.8" text-anchor="start" fill="#555" font-family='"Liberation Mono", monospace' >K</text>
<text x="765" y="388.6" font-size="7.9" text-anchor="start" fill="#4a4a4a" font-family='"Liberation Mono", monospace' >Essequibo</text>
<text x="723.5" y="387.6" font-size="5.4" text-anchor="start" fill="#4a4a4a" font-family='"Liberation Mono", monospace' >BK:7.48</text>
<text x="700.5" y="385" font-size="3.2" text-anchor="start" fill="#666" font-family='"Liberation Mono", monospace' >KP2.39</text>
<text x="671.5" y="384.6" font-size="2.8" text-anchor="start" fill="#555" font-family='"Liberation Mono", monospace' >N7</text>
<text x="671.5" y="390.4" font-size="2.8" text-anchor="start" fill="#555" font-family='"Liberation Mono", monospace' >K</text>
<text x="765" y="400.2" font-size="7.9" text-anchor="start" fill="#4a4a4a" font-family='"Liberation Mono", monospace' >J.Amoffett Jr.</text>
<text x="723.5" y="399.2" font-size="5.4" text-anchor="start" fill="#4a4a4a" font-family='"Liberation Mono", monospace' >BK:9.00</text>
<text x="700.5" y="396.6" font-size="3.2" text-anchor="start" fill="#666" font-family='"Liberation Mono", monospace' >KP4.31</text>
<text x="671.5" y="396.2" font-size="2.8" text-anchor="start" fill="#555" font-family='"Liberation Mono", monospace' >N2</text>
<text x="671.5" y="402" font-size="2.8" text-anchor="start" fill="#555" font-family='"Liberation Mono", monospace' >K</text>
<text x="765" y="412.2" font-size="7.9" text-anchor="start" fill="#4a4a4a" font-family='"Liberation Mono", monospace' >Bullaren</text>
<text x="723.5" y="411.2" font-size="5.4" text-anchor="start" fill="#4a4a4a" font-family='"Liberation Mono", monospace' >BK:7.33</text>
<text x="700.5" y="408.6" font-size="3.2" text-anchor="start" fill="#666" font-family='"Liberation Mono", monospace' >KP5.27</text>
<text x="671.5" y="408.2" font-size="2.8" text-anchor="start" fill="#555" font-family='"Liberation Mono", monospace' >N3</text>
<text x="671.5" y="414" font-size="2.8" text-anchor="start" fill="#555" font-family='"Liberation Mono", monospace' >K</text>
<text x="765" y="424" font-size="7.9" text-anchor="start" fill="#4a4a4a" font-family='"Liberation Mono", monospace' >Havana Maru</text>
<text x="723.5" y="423" font-size="5.4" text-anchor="start" fill="#4a4a4a" font-family='"Liberation Mono", monospace' >BK:7.24</text>
<text x="700.5" y="420.4" font-size="3.2" text-anchor="start" fill="#666" font-family='"Liberation Mono", monospace' >KP4.39</text>
<text x="671.5" y="420" font-size="2.8" text-anchor="start" fill="#555" font-family='"Liberation Mono", monospace' >N4</text>
<text x="671.5" y="425.8" font-size="2.8" text-anchor="start" fill="#555" font-family='"Liberation Mono", monospace' >K</text>
<text x="765" y="435.6" font-size="7.9" text-anchor="start" fill="#4a4a4a" font-family='"Liberation Mono", monospace' >Ferncliff</text>
<text x="723.5" y="434.6" font-size="5.4" text-anchor="start" fill="#4a4a4a" font-family='"Liberation Mono", monospace' >BK:6.56</text>
<text x="700.5" y="432" font-size="3.2" text-anchor="start" fill="#666" font-family='"Liberation Mono", monospace' >KP2.23</text>
<text x="671.5" y="431.6" font-size="2.8" text-anchor="start" fill="#555" font-family='"Liberation Mono", monospace' >N10</text>
<text x="671.5" y="437.4" font-size="2.8" text-anchor="start" fill="#555" font-family='"Liberation Mono", monospace' >K</text>
<text x="95" y="309" font-size="8.1" text-anchor="end" fill="#4a4a4a" font-family='"Liberation Mono", monospace' >N5:36.00</text>
<text x="231.5" y="311.6" font-size="8.1" text-anchor="end" fill="#4a4a4a" font-family='"Liberation Mono", monospace' >N9:20.00</text>
<text x="371.5" y="323.6" font-size="8.1" text-anchor="end" fill="#4a4a4a" font-family='"Liberation Mono", monospace' >N8:19.00</text>
<text x="95.5" y="335.6" font-size="8.1" text-anchor="end" fill="#4a4a4a" font-family='"Liberation Mono", monospace' >N11:18.24</text>
<text x="236.5" y="347.2" font-size="8.1" text-anchor="end" fill="#4a4a4a" font-family='"Liberation Mono", monospace' >N12:17.56</text>
<text x="348.5" y="359" font-size="8.1" text-anchor="end" fill="#4a4a4a" font-family='"Liberation Mono", monospace' >N1:15.45</text>
<text x="394.5" y="370.8" font-size="8.1" text-anchor="end" fill="#4a4a4a" font-family='"Liberation Mono", monospace' >N6:14.30</text>
<text x="287.5" y="382.6" font-size="8.1" text-anchor="end" fill="#4a4a4a" font-family='"Liberation Mono", monospace' >N7:13.44</text>
<text x="363.5" y="394.2" font-size="8.1" text-anchor="end" fill="#4a4a4a" font-family='"Liberation Mono", monospace' >N2:13.35</text>
<text x="412.1" y="406.2" font-size="8.1" text-anchor="end" fill="#4a4a4a" font-family='"Liberation Mono", monospace' >N3:13.00</text>
<text x="432.1" y="418" font-size="8.1" text-anchor="end" fill="#4a4a4a" font-family='"Liberation Mono", monospace' >N4:11.35</text>
<text x="386.5" y="429.6" font-size="8.1" text-anchor="end" fill="#4a4a4a" font-family='"Liberation Mono", monospace' >N10:10.40</text>
<text x="424.6" y="153.6" font-size="4.1" text-anchor="middle" fill="#3c3c3c" font-family='"Liberation Mono", monospace' >BC=1.30</text>
<text x="596.7" y="153.6" font-size="4.1" text-anchor="middle" fill="#3c3c3c" font-family='"Liberation Mono", monospace' >IJ=1.00</text>
<text x="560.2" y="153.6" font-size="4.1" text-anchor="middle" fill="#3c3c3c" font-family='"Liberation Mono", monospace' >GH=0.30</text>
<text x="470.3" y="153.6" font-size="4.1" text-anchor="middle" fill="#3c3c3c" font-family='"Liberation Mono", monospace' >CD=1.05</text>
<text x="538.4" y="153.6" font-size="4.1" text-anchor="middle" fill="#3c3c3c" font-family='"Liberation Mono", monospace' >FG=0.57</text>
<text x="632" y="153.6" font-size="4.1" text-anchor="middle" fill="#3c3c3c" font-family='"Liberation Mono", monospace' >JK=1.11</text>
<text x="382" y="153.6" font-size="4.1" text-anchor="middle" fill="#3c3c3c" font-family='"Liberation Mono", monospace' >AB=0.48</text>
<text x="336" y="153.6" font-size="5.0" text-anchor="middle" fill="#888" font-family='"Liberation Mono", monospace' >PA=11.38</text>
<text x="501.8" y="153.6" font-size="4.1" text-anchor="middle" fill="#3c3c3c" font-family='"Liberation Mono", monospace' >DE=0.30</text>
<text x="414.2" y="165.2" font-size="4.1" text-anchor="middle" fill="#3c3c3c" font-family='"Liberation Mono", monospace' >BC=1.30</text>
<text x="584.7" y="165.2" font-size="4.1" text-anchor="middle" fill="#3c3c3c" font-family='"Liberation Mono", monospace' >IJ=1.00</text>
<text x="548.2" y="165.2" font-size="4.1" text-anchor="middle" fill="#3c3c3c" font-family='"Liberation Mono", monospace' >GH=0.30</text>
<text x="456.9" y="165.2" font-size="4.1" text-anchor="middle" fill="#3c3c3c" font-family='"Liberation Mono", monospace' >CD=0.56</text>
<text x="523" y="165.2" font-size="4.1" text-anchor="middle" fill="#3c3c3c" font-family='"Liberation Mono", monospace' >FG=1.06</text>
<text x="620.4" y="165.2" font-size="4.1" text-anchor="middle" fill="#3c3c3c" font-family='"Liberation Mono", monospace' >JK=1.00</text>
<text x="382" y="165.2" font-size="4.1" text-anchor="middle" fill="#3c3c3c" font-family='"Liberation Mono", monospace' >AB=0.53</text>
<text x="336" y="165.2" font-size="5.0" text-anchor="middle" fill="#888" font-family='"Liberation Mono", monospace' >PA=3.15</text>
<text x="485.4" y="165.2" font-size="4.1" text-anchor="middle" fill="#3c3c3c" font-family='"Liberation Mono", monospace' >DE=0.25</text>
<text x="428.2" y="177.2" font-size="4.1" text-anchor="middle" fill="#3c3c3c" font-family='"Liberation Mono", monospace' >BC=1.30</text>
<text x="604.1" y="177.2" font-size="4.1" text-anchor="middle" fill="#3c3c3c" font-family='"Liberation Mono", monospace' >IJ=1.00</text>
<text x="564.4" y="177.2" font-size="4.1" text-anchor="middle" fill="#3c3c3c" font-family='"Liberation Mono", monospace' >GH=0.30</text>
<text x="465.3" y="177.2" font-size="4.1" text-anchor="middle" fill="#3c3c3c" font-family='"Liberation Mono", monospace' >CD=1.09</text>
<text x="537.5" y="177.2" font-size="4.1" text-anchor="middle" fill="#3c3c3c" font-family='"Liberation Mono", monospace' >FG=1.13</text>
<text x="639.8" y="177.2" font-size="4.1" text-anchor="middle" fill="#3c3c3c" font-family='"Liberation Mono", monospace' >JK=1.02</text>
<text x="382" y="177.2" font-size="4.1" text-anchor="middle" fill="#3c3c3c" font-family='"Liberation Mono", monospace' >AB=0.50</text>
<text x="336" y="177.2" font-size="5.0" text-anchor="middle" fill="#888" font-family='"Liberation Mono", monospace' >PA=13.17</text>
<text x="488.2" y="177.2" font-size="4.1" text-anchor="middle" fill="#3c3c3c" font-family='"Liberation Mono", monospace' >DE=0.41</text>
<text x="425.2" y="188.8" font-size="4.1" text-anchor="middle" fill="#3c3c3c" font-family='"Liberation Mono", monospace' >BC=1.30</text>
<text x="590" y="188.8" font-size="4.1" text-anchor="middle" fill="#3c3c3c" font-family='"Liberation Mono", monospace' >IJ=1.00</text>
<text x="553.4" y="188.8" font-size="4.1" text-anchor="middle" fill="#3c3c3c" font-family='"Liberation Mono", monospace' >GH=0.30</text>
<text x="467.4" y="188.8" font-size="4.1" text-anchor="middle" fill="#3c3c3c" font-family='"Liberation Mono", monospace' >CD=1.14</text>
<text x="531.6" y="188.8" font-size="4.1" text-anchor="middle" fill="#3c3c3c" font-family='"Liberation Mono", monospace' >FG=1.03</text>
<text x="625.7" y="188.8" font-size="4.1" text-anchor="middle" fill="#3c3c3c" font-family='"Liberation Mono", monospace' >JK=1.17</text>
<text x="382" y="188.8" font-size="4.1" text-anchor="middle" fill="#3c3c3c" font-family='"Liberation Mono", monospace' >AB=0.48</text>
<text x="336" y="188.8" font-size="5.0" text-anchor="middle" fill="#888" font-family='"Liberation Mono", monospace' >PA=17.27</text>
<text x="495.4" y="188.8" font-size="4.1" text-anchor="middle" fill="#3c3c3c" font-family='"Liberation Mono", monospace' >DE=0.29</text>
<text x="422.6" y="200.6" font-size="4.1" text-anchor="middle" fill="#3c3c3c" font-family='"Liberation Mono", monospace' >BC=1.30</text>
<text x="578.2" y="200.6" font-size="4.1" text-anchor="middle" fill="#3c3c3c" font-family='"Liberation Mono", monospace' >IJ=1.00</text>
<text x="542.2" y="200.6" font-size="4.1" text-anchor="middle" fill="#3c3c3c" font-family='"Liberation Mono", monospace' >GH=0.30</text>
<text x="460.4" y="200.6" font-size="4.1" text-anchor="middle" fill="#3c3c3c" font-family='"Liberation Mono", monospace' >CD=0.59</text>
<text x="519.8" y="200.6" font-size="4.1" text-anchor="middle" fill="#3c3c3c" font-family='"Liberation Mono", monospace' >FG=0.56</text>
<text x="613.5" y="200.6" font-size="4.1" text-anchor="middle" fill="#3c3c3c" font-family='"Liberation Mono", monospace' >JK=1.05</text>
<text x="382" y="200.6" font-size="4.1" text-anchor="middle" fill="#3c3c3c" font-family='"Liberation Mono", monospace' >AB=0.57</text>
<text x="336" y="200.6" font-size="5.0" text-anchor="middle" fill="#888" font-family='"Liberation Mono", monospace' >PA=5.15</text>
<text x="484" y="200.6" font-size="4.1" text-anchor="middle" fill="#3c3c3c" font-family='"Liberation Mono", monospace' >DE=0.34</text>
<text x="419.2" y="212.4" font-size="4.1" text-anchor="middle" fill="#3c3c3c" font-family='"Liberation Mono", monospace' >BC=1.30</text>
<text x="592.4" y="212.4" font-size="4.1" text-anchor="middle" fill="#3c3c3c" font-family='"Liberation Mono", monospace' >IJ=1.00</text>
<text x="556.6" y="212.4" font-size="4.1" text-anchor="middle" fill="#3c3c3c" font-family='"Liberation Mono", monospace' >GH=0.30</text>
<text x="465.3" y="212.4" font-size="4.1" text-anchor="middle" fill="#3c3c3c" font-family='"Liberation Mono", monospace' >CD=1.17</text>
<text x="534.1" y="212.4" font-size="4.1" text-anchor="middle" fill="#3c3c3c" font-family='"Liberation Mono", monospace' >FG=1.02</text>
<text x="627.5" y="212.4" font-size="4.1" text-anchor="middle" fill="#3c3c3c" font-family='"Liberation Mono", monospace' >JK=1.09</text>
<text x="382" y="212.4" font-size="4.1" text-anchor="middle" fill="#3c3c3c" font-family='"Liberation Mono", monospace' >AB=0.48</text>
<text x="336" y="212.4" font-size="5.0" text-anchor="middle" fill="#888" font-family='"Liberation Mono", monospace' >PA=3.04</text>
<text x="497.2" y="212.4" font-size="4.1" text-anchor="middle" fill="#3c3c3c" font-family='"Liberation Mono", monospace' >DE=0.27</text>
<text x="417.2" y="224" font-size="4.1" text-anchor="middle" fill="#3c3c3c" font-family='"Liberation Mono", monospace' >BC=1.30</text>
<text x="587.6" y="224" font-size="4.1" text-anchor="middle" fill="#3c3c3c" font-family='"Liberation Mono", monospace' >IJ=1.00</text>
<text x="549.2" y="224" font-size="4.1" text-anchor="middle" fill="#3c3c3c" font-family='"Liberation Mono", monospace' >GH=0.30</text>
<text x="457.7" y="224" font-size="4.1" text-anchor="middle" fill="#3c3c3c" font-family='"Liberation Mono", monospace' >CD=1.18</text>
<text x="525.5" y="224" font-size="4.1" text-anchor="middle" fill="#3c3c3c" font-family='"Liberation Mono", monospace' >FG=1.04</text>
<text x="620.3" y="224" font-size="4.1" text-anchor="middle" fill="#3c3c3c" font-family='"Liberation Mono", monospace' >JK=1.05</text>
<text x="382" y="224" font-size="4.1" text-anchor="middle" fill="#3c3c3c" font-family='"Liberation Mono", monospace' >AB=0.55</text>
<text x="336" y="224" font-size="5.0" text-anchor="middle" fill="#888" font-family='"Liberation Mono", monospace' >PA=10.09</text>
<text x="484" y="224" font-size="4.1" text-anchor="middle" fill="#3c3c3c" font-family='"Liberation Mono", monospace' >DE=0.29</text>
<text x="420.2" y="235.8" font-size="4.1" text-anchor="middle" fill="#3c3c3c" font-family='"Liberation Mono", monospace' >BC=1.30</text>
<text x="617" y="235.8" font-size="4.1" text-anchor="middle" fill="#3c3c3c" font-family='"Liberation Mono", monospace' >IJ=1.00</text>
<text x="579.5" y="235.8" font-size="4.1" text-anchor="middle" fill="#3c3c3c" font-family='"Liberation Mono", monospace' >GH=0.30</text>
<text x="473.4" y="235.8" font-size="4.1" text-anchor="middle" fill="#3c3c3c" font-family='"Liberation Mono", monospace' >CD=1.22</text>
<text x="555.2" y="235.8" font-size="4.1" text-anchor="middle" fill="#3c3c3c" font-family='"Liberation Mono", monospace' >FG=1.10</text>
<text x="653" y="235.8" font-size="4.1" text-anchor="middle" fill="#3c3c3c" font-family='"Liberation Mono", monospace' >JK=1.04</text>
<text x="382" y="235.8" font-size="4.1" text-anchor="middle" fill="#3c3c3c" font-family='"Liberation Mono", monospace' >AB=0.54</text>
<text x="336" y="235.8" font-size="5.0" text-anchor="middle" fill="#888" font-family='"Liberation Mono", monospace' >PA=11.27</text>
<text x="512.4" y="235.8" font-size="4.1" text-anchor="middle" fill="#3c3c3c" font-family='"Liberation Mono", monospace' >DE=0.39</text>
<text x="418.2" y="247.6" font-size="4.1" text-anchor="middle" fill="#3c3c3c" font-family='"Liberation Mono", monospace' >BC=1.30</text>
<text x="594" y="247.6" font-size="4.1" text-anchor="middle" fill="#3c3c3c" font-family='"Liberation Mono", monospace' >IJ=1.00</text>
<text x="558.5" y="247.6" font-size="4.1" text-anchor="middle" fill="#3c3c3c" font-family='"Liberation Mono", monospace' >GH=0.30</text>
<text x="465.1" y="247.6" font-size="4.1" text-anchor="middle" fill="#3c3c3c" font-family='"Liberation Mono", monospace' >CD=1.20</text>
<text x="535.8" y="247.6" font-size="4.1" text-anchor="middle" fill="#3c3c3c" font-family='"Liberation Mono", monospace' >FG=1.00</text>
<text x="627" y="247.6" font-size="4.1" text-anchor="middle" fill="#3c3c3c" font-family='"Liberation Mono", monospace' >JK=1.17</text>
<text x="382" y="247.6" font-size="4.1" text-anchor="middle" fill="#3c3c3c" font-family='"Liberation Mono", monospace' >AB=0.49</text>
<text x="336" y="247.6" font-size="5.0" text-anchor="middle" fill="#888" font-family='"Liberation Mono", monospace' >PA=9.31</text>
<text x="497.8" y="247.6" font-size="4.1" text-anchor="middle" fill="#3c3c3c" font-family='"Liberation Mono", monospace' >DE=0.37</text>
<text x="419.2" y="259.6" font-size="4.1" text-anchor="middle" fill="#3c3c3c" font-family='"Liberation Mono", monospace' >BC=1.30</text>
<text x="569.5" y="259.6" font-size="4.1" text-anchor="middle" fill="#3c3c3c" font-family='"Liberation Mono", monospace' >IJ=1.00</text>
<text x="529.5" y="259.6" font-size="4.1" text-anchor="middle" fill="#3c3c3c" font-family='"Liberation Mono", monospace' >GH=0.30</text>
<text x="455.2" y="259.6" font-size="4.1" text-anchor="middle" fill="#3c3c3c" font-family='"Liberation Mono", monospace' >CD=0.59</text>
<text x="509" y="259.6" font-size="4.1" text-anchor="middle" fill="#3c3c3c" font-family='"Liberation Mono", monospace' >FG=1.05</text>
<text x="607" y="259.6" font-size="4.1" text-anchor="middle" fill="#3c3c3c" font-family='"Liberation Mono", monospace' >JK=1.00</text>
<text x="382" y="259.6" font-size="4.1" text-anchor="middle" fill="#3c3c3c" font-family='"Liberation Mono", monospace' >AB=0.56</text>
<text x="336" y="259.6" font-size="5.0" text-anchor="middle" fill="#888" font-family='"Liberation Mono", monospace' >PA=15.45</text>
<text x="477" y="259.6" font-size="4.1" text-anchor="middle" fill="#3c3c3c" font-family='"Liberation Mono", monospace' >DE=0.34</text>
<text x="425.2" y="271.2" font-size="4.1" text-anchor="middle" fill="#3c3c3c" font-family='"Liberation Mono", monospace' >BC=1.30</text>
<text x="565.5" y="271.2" font-size="4.1" text-anchor="middle" fill="#3c3c3c" font-family='"Liberation Mono", monospace' >IJ=1.00</text>
<text x="529.5" y="271.2" font-size="4.1" text-anchor="middle" fill="#3c3c3c" font-family='"Liberation Mono", monospace' >GH=0.30</text>
<text x="455.2" y="271.2" font-size="4.1" text-anchor="middle" fill="#3c3c3c" font-family='"Liberation Mono", monospace' >CD=1.25</text>
<text x="507.5" y="271.2" font-size="4.1" text-anchor="middle" fill="#3c3c3c" font-family='"Liberation Mono", monospace' >FG=1.01</text>
<text x="601" y="271.2" font-size="4.1" text-anchor="middle" fill="#3c3c3c" font-family='"Liberation Mono", monospace' >JK=1.12</text>
<text x="382" y="271.2" font-size="4.1" text-anchor="middle" fill="#3c3c3c" font-family='"Liberation Mono", monospace' >AB=0.55</text>
<text x="336" y="271.2" font-size="5.0" text-anchor="middle" fill="#888" font-family='"Liberation Mono", monospace' >PA=12.26</text>
<text x="471" y="271.2" font-size="4.1" text-anchor="middle" fill="#3c3c3c" font-family='"Liberation Mono", monospace' >DE=0.32</text>
<text x="424.2" y="283.2" font-size="4.1" text-anchor="middle" fill="#3c3c3c" font-family='"Liberation Mono", monospace' >BC=1.30</text>
<text x="610.7" y="283.2" font-size="4.1" text-anchor="middle" fill="#3c3c3c" font-family='"Liberation Mono", monospace' >IJ=1.00</text>
<text x="571.2" y="283.2" font-size="4.1" text-anchor="middle" fill="#3c3c3c" font-family='"Liberation Mono", monospace' >GH=0.30</text>
<text x="473.7" y="283.2" font-size="4.1" text-anchor="middle" fill="#3c3c3c" font-family='"Liberation Mono", monospace' >CD=1.24</text>
<text x="547" y="283.2" font-size="4.1" text-anchor="middle" fill="#3c3c3c" font-family='"Liberation Mono", monospace' >FG=1.16</text>
<text x="646.4" y="283.2" font-size="4.1" text-anchor="middle" fill="#3c3c3c" font-family='"Liberation Mono", monospace' >JK=1.08</text>
<text x="382" y="283.2" font-size="4.1" text-anchor="middle" fill="#3c3c3c" font-family='"Liberation Mono", monospace' >AB=0.55</text>
<text x="336" y="283.2" font-size="5.0" text-anchor="middle" fill="#888" font-family='"Liberation Mono", monospace' >PA=3.05</text>
<text x="509" y="283.2" font-size="4.1" text-anchor="middle" fill="#3c3c3c" font-family='"Liberation Mono", monospace' >DE=0.36</text>
<text x="422.8" y="302.6" font-size="4.1" text-anchor="middle" fill="#3c3c3c" font-family='"Liberation Mono", monospace' >BC=1.30</text>
<text x="607.3" y="302.6" font-size="4.1" text-anchor="middle" fill="#3c3c3c" font-family='"Liberation Mono", monospace' >IJ=1.00</text>
<text x="571.2" y="302.6" font-size="4.1" text-anchor="middle" fill="#3c3c3c" font-family='"Liberation Mono", monospace' >GH=0.30</text>
<text x="469.6" y="302.6" font-size="4.1" text-anchor="middle" fill="#3c3c3c" font-family='"Liberation Mono", monospace' >CD=1.17</text>
<text x="544.4" y="302.6" font-size="4.1" text-anchor="middle" fill="#3c3c3c" font-family='"Liberation Mono", monospace' >FG=1.17</text>
<text x="643" y="302.6" font-size="4.1" text-anchor="middle" fill="#3c3c3c" font-family='"Liberation Mono", monospace' >JK=1.14</text>
<text x="350" y="302.6" font-size="4.1" text-anchor="middle" fill="#3c3c3c" font-family='"Liberation Mono", monospace' >AB=2.37</text>
<text x="503.2" y="302.6" font-size="4.1" text-anchor="middle" fill="#3c3c3c" font-family='"Liberation Mono", monospace' >DE=0.30</text>
<text x="444.8" y="314.2" font-size="4.1" text-anchor="middle" fill="#3c3c3c" font-family='"Liberation Mono", monospace' >BC=1.30</text>
<text x="618.9" y="314.2" font-size="4.1" text-anchor="middle" fill="#3c3c3c" font-family='"Liberation Mono", monospace' >IJ=1.00</text>
<text x="581.8" y="314.2" font-size="4.1" text-anchor="middle" fill="#3c3c3c" font-family='"Liberation Mono", monospace' >GH=0.30</text>
<text x="487.4" y="314.2" font-size="4.1" text-anchor="middle" fill="#3c3c3c" font-family='"Liberation Mono", monospace' >CD=1.18</text>
<text x="556.2" y="314.2" font-size="4.1" text-anchor="middle" fill="#3c3c3c" font-family='"Liberation Mono", monospace' >FG=0.54</text>
<text x="654.4" y="314.2" font-size="4.1" text-anchor="middle" fill="#3c3c3c" font-family='"Liberation Mono", monospace' >JK=1.08</text>
<text x="350" y="314.2" font-size="4.1" text-anchor="middle" fill="#3c3c3c" font-family='"Liberation Mono", monospace' >AB=1.35</text>
<text x="516.8" y="314.2" font-size="4.1" text-anchor="middle" fill="#3c3c3c" font-family='"Liberation Mono", monospace' >DE=0.26</text>
<text x="400.2" y="326.2" font-size="4.1" text-anchor="middle" fill="#3c3c3c" font-family='"Liberation Mono", monospace' >BC=1.30</text>
<text x="613.1" y="326.2" font-size="4.1" text-anchor="middle" fill="#3c3c3c" font-family='"Liberation Mono", monospace' >IJ=1.00</text>
<text x="576.2" y="326.2" font-size="4.1" text-anchor="middle" fill="#3c3c3c" font-family='"Liberation Mono", monospace' >GH=0.30</text>
<text x="448.4" y="326.2" font-size="4.1" text-anchor="middle" fill="#3c3c3c" font-family='"Liberation Mono", monospace' >CD=0.56</text>
<text x="537.8" y="326.2" font-size="4.1" text-anchor="middle" fill="#3c3c3c" font-family='"Liberation Mono", monospace' >FG=1.12</text>
<text x="648.6" y="326.2" font-size="4.1" text-anchor="middle" fill="#3c3c3c" font-family='"Liberation Mono", monospace' >JK=1.02</text>
<text x="350" y="326.2" font-size="4.1" text-anchor="middle" fill="#3c3c3c" font-family='"Liberation Mono", monospace' >AB=2.18</text>
<text x="483.5" y="326.2" font-size="4.1" text-anchor="middle" fill="#3c3c3c" font-family='"Liberation Mono", monospace' >DE=0.31</text>
<text x="423.8" y="338.2" font-size="4.1" text-anchor="middle" fill="#3c3c3c" font-family='"Liberation Mono", monospace' >BC=1.30</text>
<text x="618.5" y="338.2" font-size="4.1" text-anchor="middle" fill="#3c3c3c" font-family='"Liberation Mono", monospace' >IJ=1.00</text>
<text x="581.2" y="338.2" font-size="4.1" text-anchor="middle" fill="#3c3c3c" font-family='"Liberation Mono", monospace' >GH=0.30</text>
<text x="470.9" y="338.2" font-size="4.1" text-anchor="middle" fill="#3c3c3c" font-family='"Liberation Mono", monospace' >CD=1.25</text>
<text x="549.5" y="338.2" font-size="4.1" text-anchor="middle" fill="#3c3c3c" font-family='"Liberation Mono", monospace' >FG=0.55</text>
<text x="654" y="338.2" font-size="4.1" text-anchor="middle" fill="#3c3c3c" font-family='"Liberation Mono", monospace' >JK=1.08</text>
<text x="350" y="338.2" font-size="4.1" text-anchor="middle" fill="#3c3c3c" font-family='"Liberation Mono", monospace' >AB=4.59</text>
<text x="504.8" y="338.2" font-size="4.1" text-anchor="middle" fill="#3c3c3c" font-family='"Liberation Mono", monospace' >DE=0.39</text>
<text x="438.8" y="349.8" font-size="4.1" text-anchor="middle" fill="#3c3c3c" font-family='"Liberation Mono", monospace' >BC=1.30</text>
<text x="620.5" y="349.8" font-size="4.1" text-anchor="middle" fill="#3c3c3c" font-family='"Liberation Mono", monospace' >IJ=1.00</text>
<text x="583.2" y="349.8" font-size="4.1" text-anchor="middle" fill="#3c3c3c" font-family='"Liberation Mono", monospace' >GH=0.30</text>
<text x="481.6" y="349.8" font-size="4.1" text-anchor="middle" fill="#3c3c3c" font-family='"Liberation Mono", monospace' >CD=1.23</text>
<text x="554.1" y="349.8" font-size="4.1" text-anchor="middle" fill="#3c3c3c" font-family='"Liberation Mono", monospace' >FG=1.14</text>
<text x="656" y="349.8" font-size="4.1" text-anchor="middle" fill="#3c3c3c" font-family='"Liberation Mono", monospace' >JK=1.05</text>
<text x="350" y="349.8" font-size="4.1" text-anchor="middle" fill="#3c3c3c" font-family='"Liberation Mono", monospace' >AB=3.47</text>
<text x="511.2" y="349.8" font-size="4.1" text-anchor="middle" fill="#3c3c3c" font-family='"Liberation Mono", monospace' >DE=0.30</text>
<text x="444.8" y="361.6" font-size="4.1" text-anchor="middle" fill="#3c3c3c" font-family='"Liberation Mono", monospace' >BC=1.30</text>
<text x="624" y="361.6" font-size="4.1" text-anchor="middle" fill="#3c3c3c" font-family='"Liberation Mono", monospace' >IJ=1.00</text>
<text x="587.7" y="361.6" font-size="4.1" text-anchor="middle" fill="#3c3c3c" font-family='"Liberation Mono", monospace' >GH=0.30</text>
<text x="490.2" y="361.6" font-size="4.1" text-anchor="middle" fill="#3c3c3c" font-family='"Liberation Mono", monospace' >CD=1.25</text>
<text x="561.5" y="361.6" font-size="4.1" text-anchor="middle" fill="#3c3c3c" font-family='"Liberation Mono", monospace' >FG=1.16</text>
<text x="659.6" y="361.6" font-size="4.1" text-anchor="middle" fill="#3c3c3c" font-family='"Liberation Mono", monospace' >JK=1.02</text>
<text x="350" y="361.6" font-size="4.1" text-anchor="middle" fill="#3c3c3c" font-family='"Liberation Mono", monospace' >AB=1.40</text>
<text x="522.4" y="361.6" font-size="4.1" text-anchor="middle" fill="#3c3c3c" font-family='"Liberation Mono", monospace' >DE=0.28</text>
<text x="423.2" y="373.4" font-size="4.1" text-anchor="middle" fill="#3c3c3c" font-family='"Liberation Mono", monospace' >BC=1.30</text>
<text x="618.3" y="373.4" font-size="4.1" text-anchor="middle" fill="#3c3c3c" font-family='"Liberation Mono", monospace' >IJ=1.00</text>
<text x="579.5" y="373.4" font-size="4.1" text-anchor="middle" fill="#3c3c3c" font-family='"Liberation Mono", monospace' >GH=0.30</text>
<text x="471.4" y="373.4" font-size="4.1" text-anchor="middle" fill="#3c3c3c" font-family='"Liberation Mono", monospace' >CD=1.02</text>
<text x="550.1" y="373.4" font-size="4.1" text-anchor="middle" fill="#3c3c3c" font-family='"Liberation Mono", monospace' >FG=1.05</text>
<text x="654" y="373.4" font-size="4.1" text-anchor="middle" fill="#3c3c3c" font-family='"Liberation Mono", monospace' >JK=1.10</text>
<text x="350" y="373.4" font-size="4.1" text-anchor="middle" fill="#3c3c3c" font-family='"Liberation Mono", monospace' >AB=2.26</text>
<text x="506.4" y="373.4" font-size="4.1" text-anchor="middle" fill="#3c3c3c" font-family='"Liberation Mono", monospace' >DE=0.24</text>
<text x="431.6" y="385.2" font-size="4.1" text-anchor="middle" fill="#3c3c3c" font-family='"Liberation Mono", monospace' >BC=1.30</text>
<text x="624.5" y="385.2" font-size="4.1" text-anchor="middle" fill="#3c3c3c" font-family='"Liberation Mono", monospace' >IJ=1.00</text>
<text x="587.3" y="385.2" font-size="4.1" text-anchor="middle" fill="#3c3c3c" font-family='"Liberation Mono", monospace' >GH=0.30</text>
<text x="473.2" y="385.2" font-size="4.1" text-anchor="middle" fill="#3c3c3c" font-family='"Liberation Mono", monospace' >CD=1.09</text>
<text x="550.9" y="385.2" font-size="4.1" text-anchor="middle" fill="#3c3c3c" font-family='"Liberation Mono", monospace' >FG=1.02</text>
<text x="660" y="385.2" font-size="4.1" text-anchor="middle" fill="#3c3c3c" font-family='"Liberation Mono", monospace' >JK=1.10</text>
<text x="350" y="385.2" font-size="4.1" text-anchor="middle" fill="#3c3c3c" font-family='"Liberation Mono", monospace' >AB=8.34</text>
<text x="501.6" y="385.2" font-size="4.1" text-anchor="middle" fill="#3c3c3c" font-family='"Liberation Mono", monospace' >DE=0.36</text>
<text x="392.2" y="396.8" font-size="4.1" text-anchor="middle" fill="#3c3c3c" font-family='"Liberation Mono", monospace' >BC=1.30</text>
<text x="609.5" y="396.8" font-size="4.1" text-anchor="middle" fill="#3c3c3c" font-family='"Liberation Mono", monospace' >IJ=1.00</text>
<text x="572" y="396.8" font-size="4.1" text-anchor="middle" fill="#3c3c3c" font-family='"Liberation Mono", monospace' >GH=0.30</text>
<text x="445.9" y="396.8" font-size="4.1" text-anchor="middle" fill="#3c3c3c" font-family='"Liberation Mono", monospace' >CD=1.12</text>
<text x="537.6" y="396.8" font-size="4.1" text-anchor="middle" fill="#3c3c3c" font-family='"Liberation Mono", monospace' >FG=1.08</text>
<text x="645" y="396.8" font-size="4.1" text-anchor="middle" fill="#3c3c3c" font-family='"Liberation Mono", monospace' >JK=1.12</text>
<text x="350" y="396.8" font-size="4.1" text-anchor="middle" fill="#3c3c3c" font-family='"Liberation Mono", monospace' >AB=0.34</text>
<text x="486.4" y="396.8" font-size="4.1" text-anchor="middle" fill="#3c3c3c" font-family='"Liberation Mono", monospace' >DE=0.40</text>
<text x="440.8" y="408.8" font-size="4.1" text-anchor="middle" fill="#3c3c3c" font-family='"Liberation Mono", monospace' >BC=1.30</text>
<text x="624.5" y="408.8" font-size="4.1" text-anchor="middle" fill="#3c3c3c" font-family='"Liberation Mono", monospace' >IJ=1.00</text>
<text x="583.2" y="408.8" font-size="4.1" text-anchor="middle" fill="#3c3c3c" font-family='"Liberation Mono", monospace' >GH=0.30</text>
<text x="484.2" y="408.8" font-size="4.1" text-anchor="middle" fill="#3c3c3c" font-family='"Liberation Mono", monospace' >CD=1.22</text>
<text x="556.1" y="408.8" font-size="4.1" text-anchor="middle" fill="#3c3c3c" font-family='"Liberation Mono", monospace' >FG=1.14</text>
<text x="660" y="408.8" font-size="4.1" text-anchor="middle" fill="#3c3c3c" font-family='"Liberation Mono", monospace' >JK=1.14</text>
<text x="350" y="408.8" font-size="4.1" text-anchor="middle" fill="#3c3c3c" font-family='"Liberation Mono", monospace' >AB=3.35</text>
<text x="514.4" y="408.8" font-size="4.1" text-anchor="middle" fill="#3c3c3c" font-family='"Liberation Mono", monospace' >DE=0.31</text>
<text x="460.8" y="420.6" font-size="4.1" text-anchor="middle" fill="#3c3c3c" font-family='"Liberation Mono", monospace' >BC=1.30</text>
<text x="626.5" y="420.6" font-size="4.1" text-anchor="middle" fill="#3c3c3c" font-family='"Liberation Mono", monospace' >IJ=1.00</text>
<text x="590.2" y="420.6" font-size="4.1" text-anchor="middle" fill="#3c3c3c" font-family='"Liberation Mono", monospace' >GH=0.30</text>
<text x="503.6" y="420.6" font-size="4.1" text-anchor="middle" fill="#3c3c3c" font-family='"Liberation Mono", monospace' >CD=0.57</text>
<text x="568" y="420.6" font-size="4.1" text-anchor="middle" fill="#3c3c3c" font-family='"Liberation Mono", monospace' >FG=1.09</text>
<text x="662" y="420.6" font-size="4.1" text-anchor="middle" fill="#3c3c3c" font-family='"Liberation Mono", monospace' >JK=1.01</text>
<text x="350" y="420.6" font-size="4.1" text-anchor="middle" fill="#3c3c3c" font-family='"Liberation Mono", monospace' >AB=0.41</text>
<text x="533.3" y="420.6" font-size="4.1" text-anchor="middle" fill="#3c3c3c" font-family='"Liberation Mono", monospace' >DE=0.27</text>
<text x="444.8" y="432.2" font-size="4.1" text-anchor="middle" fill="#3c3c3c" font-family='"Liberation Mono", monospace' >BC=1.30</text>
<text x="618.9" y="432.2" font-size="4.1" text-anchor="middle" fill="#3c3c3c" font-family='"Liberation Mono", monospace' >IJ=1.00</text>
<text x="582.2" y="432.2" font-size="4.1" text-anchor="middle" fill="#3c3c3c" font-family='"Liberation Mono", monospace' >GH=0.30</text>
<text x="490.6" y="432.2" font-size="4.1" text-anchor="middle" fill="#3c3c3c" font-family='"Liberation Mono", monospace' >CD=0.59</text>
<text x="559.6" y="432.2" font-size="4.1" text-anchor="middle" fill="#3c3c3c" font-family='"Liberation Mono", monospace' >FG=1.02</text>
<text x="654.4" y="432.2" font-size="4.1" text-anchor="middle" fill="#3c3c3c" font-family='"Liberation Mono", monospace' >JK=1.00</text>
<text x="350" y="432.2" font-size="4.1" text-anchor="middle" fill="#3c3c3c" font-family='"Liberation Mono", monospace' >AB=0.06</text>
<text x="523.2" y="432.2" font-size="4.1" text-anchor="middle" fill="#3c3c3c" font-family='"Liberation Mono", monospace' >DE=0.26</text>
<text x="333" y="283.6" font-size="3.2" text-anchor="start" fill="#666" font-family='"Liberation Mono", monospace' >21.55</text>
<text x="256" y="297" font-size="3.2" text-anchor="start" fill="#666" font-family='"Liberation Mono", monospace' >AB=9.45</text>
<text x="676" y="141.6" font-size="5.9" text-anchor="start" fill="#4a4a4a" font-family='"Liberation Mono", monospace' >Canal Waters Time without Waiting : 9 hours</text>
<text x="346" y="129.4" font-size="5.8" text-anchor="start" fill="#555" font-family='"Liberation Mono", monospace' >Entered Canal</text>
<text x="331" y="136" font-size="5.5" text-anchor="start" fill="#666" font-family='"Liberation Mono", monospace' >P-A</text>
<text x="326" y="141" font-size="4.4" text-anchor="start" fill="#666" font-family='"Liberation Mono", monospace' >Limon Bay</text>
<text x="369" y="136" font-size="5.5" text-anchor="start" fill="#666" font-family='"Liberation Mono", monospace' >A-B</text>
<text x="369" y="141" font-size="4.4" text-anchor="start" fill="#666" font-family='"Liberation Mono", monospace' >Atlantic Entrance</text>
<text x="422.6" y="136" font-size="5.5" text-anchor="start" fill="#666" font-family='"Liberation Mono", monospace' >B-C</text>
<text x="418.4" y="141" font-size="4.4" text-anchor="start" fill="#666" font-family='"Liberation Mono", monospace' >Gatun Lock</text>
<text x="466.4" y="136" font-size="5.5" text-anchor="start" fill="#666" font-family='"Liberation Mono", monospace' >C-D</text>
<text x="464.4" y="141" font-size="4.4" text-anchor="start" fill="#666" font-family='"Liberation Mono", monospace' >Point 1</text>
<text x="500" y="136" font-size="5.5" text-anchor="start" fill="#666" font-family='"Liberation Mono", monospace' >D-E</text>
<text x="493" y="141" font-size="4.4" text-anchor="start" fill="#666" font-family='"Liberation Mono", monospace' >Point 2</text>
<text x="514" y="136" font-size="5.5" text-anchor="start" fill="#666" font-family='"Liberation Mono", monospace' >E-F</text>
<text x="512" y="141" font-size="4.4" text-anchor="start" fill="#666" font-family='"Liberation Mono", monospace' >Pont3</text>
<text x="530" y="136" font-size="5.5" text-anchor="start" fill="#666" font-family='"Liberation Mono", monospace' >F-G</text>
<text x="526.4" y="141" font-size="4.4" text-anchor="start" fill="#666" font-family='"Liberation Mono", monospace' >Culebra Cut</text>
<text x="551.4" y="136" font-size="5.5" text-anchor="start" fill="#666" font-family='"Liberation Mono", monospace' >G-H</text>
<text x="569.4" y="136" font-size="5.5" text-anchor="start" fill="#666" font-family='"Liberation Mono", monospace' >H-I</text>
<text x="569" y="141" font-size="4.4" text-anchor="start" fill="#666" font-family='"Liberation Mono", monospace' >Lake</text>
<text x="589.6" y="136" font-size="5.5" text-anchor="start" fill="#666" font-family='"Liberation Mono", monospace' >I-J</text>
<text x="582" y="141" font-size="4.4" text-anchor="start" fill="#666" font-family='"Liberation Mono", monospace' >Miraflores Lock</text>
<text x="627.6" y="136" font-size="5.5" text-anchor="start" fill="#666" font-family='"Liberation Mono", monospace' >J-K</text>
<text x="624" y="141" font-size="4.4" text-anchor="start" fill="#666" font-family='"Liberation Mono", monospace' >Panama Bay</text>
<text x="546" y="130.6" font-size="4.4" text-anchor="start" fill="#666" font-family='"Liberation Mono", monospace' >Miguel Lock</text>
<text x="377" y="444" font-size="4.2" text-anchor="start" fill="#666" font-family='"Liberation Mono", monospace' >A-B</text>
<text x="376.6" y="450" font-size="4.4" text-anchor="start" fill="#666" font-family='"Liberation Mono", monospace' >Atlantic Entrance</text>
<text x="430" y="444" font-size="4.2" text-anchor="start" fill="#666" font-family='"Liberation Mono", monospace' >B-C</text>
<text x="429" y="450" font-size="4.4" text-anchor="start" fill="#666" font-family='"Liberation Mono", monospace' >Gatun Lock</text>
<text x="477" y="444" font-size="4.2" text-anchor="start" fill="#666" font-family='"Liberation Mono", monospace' >C-D</text>
<text x="477" y="450" font-size="4.4" text-anchor="start" fill="#666" font-family='"Liberation Mono", monospace' >Point 1</text>
<text x="510" y="444" font-size="4.2" text-anchor="start" fill="#666" font-family='"Liberation Mono", monospace' >D-E</text>
<text x="510" y="450" font-size="4.4" text-anchor="start" fill="#666" font-family='"Liberation Mono", monospace' >Point 2</text>
<text x="531.6" y="444" font-size="4.2" text-anchor="start" fill="#666" font-family='"Liberation Mono", monospace' >E-F</text>
<text x="531.6" y="450" font-size="4.4" text-anchor="start" fill="#666" font-family='"Liberation Mono", monospace' >Pont3</text>
<text x="547" y="444" font-size="4.2" text-anchor="start" fill="#666" font-family='"Liberation Mono", monospace' >F-G</text>
<text x="547" y="450" font-size="4.4" text-anchor="start" fill="#666" font-family='"Liberation Mono", monospace' >Culebra Cut</text>
<text x="579" y="444" font-size="4.2" text-anchor="start" fill="#666" font-family='"Liberation Mono", monospace' >G-H</text>
<text x="579" y="450" font-size="4.4" text-anchor="start" fill="#666" font-family='"Liberation Mono", monospace' >Miguel</text>
<text x="597" y="444" font-size="4.2" text-anchor="start" fill="#666" font-family='"Liberation Mono", monospace' >H-I</text>
<text x="597" y="450" font-size="4.4" text-anchor="start" fill="#666" font-family='"Liberation Mono", monospace' >Lake</text>
<text x="609.6" y="444" font-size="4.2" text-anchor="start" fill="#666" font-family='"Liberation Mono", monospace' >I-J</text>
<text x="609.6" y="450" font-size="4.4" text-anchor="start" fill="#666" font-family='"Liberation Mono", monospace' >Miraflores</text>
<text x="646" y="444" font-size="4.2" text-anchor="start" fill="#666" font-family='"Liberation Mono", monospace' >J-K</text>
<text x="647" y="450" font-size="4.4" text-anchor="start" fill="#666" font-family='"Liberation Mono", monospace' >Panama Bay</text>
<text x="579" y="453.8" font-size="4.4" text-anchor="start" fill="#666" font-family='"Liberation Mono", monospace' >Lock</text>
<text x="609.6" y="453.8" font-size="4.4" text-anchor="start" fill="#666" font-family='"Liberation Mono", monospace' >Lock</text>
<text x="667" y="443.6" font-size="3.85" text-anchor="start" fill="#555" font-family='"Liberation Mono", monospace' >Entered Canal</text>
<polygon points="668.1,440.6 670.9,440.6 669.5,435.6" fill="#222" stroke="none" stroke-width="0.8" />
<polyline points="366.5,57 366.5,144.2" fill="none" stroke="#666" stroke-width="0.75" />
<polyline points="399.5,57 399.5,144.2" fill="none" stroke="#666" stroke-width="0.75" />
<polyline points="450.5,57 450.5,144.2" fill="none" stroke="#666" stroke-width="0.75" />
<polyline points="506.5,57 506.5,125 494.8,133.4 494.8,148.4" fill="none" stroke="#666" stroke-width="0.75" />
<polyline points="528.5,57 528.5,125 511.8,137 511.8,148.4" fill="none" stroke="#666" stroke-width="0.75" />
<polyline points="539.5,57 539.5,125 522.8,137 522.8,148.4" fill="none" stroke="#666" stroke-width="0.75" />
<polyline points="573.5,57 573.5,125 552,140.5 552,148.4" fill="none" stroke="#666" stroke-width="0.75" />
<polyline points="590.5,57 590.5,125 568.4,140.9 568.4,148.4" fill="none" stroke="#666" stroke-width="0.75" />
<polyline points="601.5,57 601.5,125 580.4,140.2 580.4,148.4" fill="none" stroke="#666" stroke-width="0.75" />
<polyline points="635.5,57 635.5,125 613,141.2 613,148.4" fill="none" stroke="#666" stroke-width="0.75" />
<polyline points="669.5,57 669.5,125 651.2,138.2 651.2,148.4" fill="none" stroke="#666" stroke-width="0.75" />
<polyline points="332.5,57 332.5,120 310,132.5" fill="none" stroke="#666" stroke-width="0.75" />
<circle cx="383" cy="75.7" r="16.5" fill="none" stroke="#555" stroke-width="0.7"/>
<circle cx="425" cy="75.7" r="25.5" fill="#dde58a" stroke="#555" stroke-width="0.7"/>
<circle cx="478.5" cy="75.7" r="28" fill="none" stroke="#555" stroke-width="0.7"/>
<circle cx="517.5" cy="75.7" r="11" fill="none" stroke="#555" stroke-width="0.7"/>
<circle cx="534" cy="75.7" r="5.5" fill="none" stroke="#555" stroke-width="0.7"/>
<circle cx="556.5" cy="75.7" r="17" fill="none" stroke="#555" stroke-width="0.7"/>
<circle cx="582" cy="75.7" r="8.5" fill="#dde58a" stroke="#555" stroke-width="0.7"/>
<circle cx="596" cy="75.7" r="5.5" fill="none" stroke="#555" stroke-width="0.7"/>
<circle cx="618.5" cy="75.7" r="17" fill="#dde58a" stroke="#555" stroke-width="0.7"/>
<circle cx="652.5" cy="75.7" r="17" fill="none" stroke="#555" stroke-width="0.7"/>
<line x1="372.1" y1="75.7" x2="372.1" y2="80.5" stroke="#8a8a8a" stroke-width="0.55" />
<line x1="377.7" y1="75.7" x2="377.7" y2="80.5" stroke="#8a8a8a" stroke-width="0.55" />
<line x1="383.3" y1="75.7" x2="383.3" y2="80.5" stroke="#8a8a8a" stroke-width="0.55" />
<line x1="388.9" y1="75.7" x2="388.9" y2="80.5" stroke="#8a8a8a" stroke-width="0.55" />
<line x1="394.4" y1="75.7" x2="394.4" y2="80.5" stroke="#8a8a8a" stroke-width="0.55" />
<line x1="400" y1="75.7" x2="400" y2="80.5" stroke="#8a8a8a" stroke-width="0.55" />
<line x1="405.6" y1="75.7" x2="405.6" y2="80.5" stroke="#8a8a8a" stroke-width="0.55" />
<line x1="411.2" y1="75.7" x2="411.2" y2="80.5" stroke="#8a8a8a" stroke-width="0.55" />
<line x1="416.8" y1="75.7" x2="416.8" y2="80.5" stroke="#8a8a8a" stroke-width="0.55" />
<line x1="422.4" y1="75.7" x2="422.4" y2="80.5" stroke="#8a8a8a" stroke-width="0.55" />
<line x1="428" y1="75.7" x2="428" y2="80.5" stroke="#8a8a8a" stroke-width="0.55" />
<line x1="433.6" y1="75.7" x2="433.6" y2="80.5" stroke="#8a8a8a" stroke-width="0.55" />
<line x1="439.2" y1="75.7" x2="439.2" y2="80.5" stroke="#8a8a8a" stroke-width="0.55" />
<line x1="444.8" y1="75.7" x2="444.8" y2="80.5" stroke="#8a8a8a" stroke-width="0.55" />
<line x1="450.3" y1="75.7" x2="450.3" y2="80.5" stroke="#8a8a8a" stroke-width="0.55" />
<line x1="455.9" y1="75.7" x2="455.9" y2="80.5" stroke="#8a8a8a" stroke-width="0.55" />
<line x1="461.5" y1="75.7" x2="461.5" y2="80.5" stroke="#8a8a8a" stroke-width="0.55" />
<line x1="467.1" y1="75.7" x2="467.1" y2="80.5" stroke="#8a8a8a" stroke-width="0.55" />
<line x1="472.7" y1="75.7" x2="472.7" y2="80.5" stroke="#8a8a8a" stroke-width="0.55" />
<line x1="478.3" y1="75.7" x2="478.3" y2="80.5" stroke="#8a8a8a" stroke-width="0.55" />
<line x1="483.9" y1="75.7" x2="483.9" y2="80.5" stroke="#8a8a8a" stroke-width="0.55" />
<line x1="489.5" y1="75.7" x2="489.5" y2="80.5" stroke="#8a8a8a" stroke-width="0.55" />
<line x1="495.1" y1="75.7" x2="495.1" y2="80.5" stroke="#8a8a8a" stroke-width="0.55" />
<line x1="500.7" y1="75.7" x2="500.7" y2="80.5" stroke="#8a8a8a" stroke-width="0.55" />
<line x1="506.2" y1="75.7" x2="506.2" y2="80.5" stroke="#8a8a8a" stroke-width="0.55" />
<line x1="511.8" y1="75.7" x2="511.8" y2="80.5" stroke="#8a8a8a" stroke-width="0.55" />
<line x1="517.4" y1="75.7" x2="517.4" y2="80.5" stroke="#8a8a8a" stroke-width="0.55" />
<line x1="523" y1="75.7" x2="523" y2="80.5" stroke="#8a8a8a" stroke-width="0.55" />
<line x1="528.6" y1="75.7" x2="528.6" y2="80.5" stroke="#8a8a8a" stroke-width="0.55" />
<line x1="534.2" y1="75.7" x2="534.2" y2="80.5" stroke="#8a8a8a" stroke-width="0.55" />
<line x1="539.8" y1="75.7" x2="539.8" y2="80.5" stroke="#8a8a8a" stroke-width="0.55" />
<line x1="545.4" y1="75.7" x2="545.4" y2="80.5" stroke="#8a8a8a" stroke-width="0.55" />
<line x1="551" y1="75.7" x2="551" y2="80.5" stroke="#8a8a8a" stroke-width="0.55" />
<line x1="556.6" y1="75.7" x2="556.6" y2="80.5" stroke="#8a8a8a" stroke-width="0.55" />
<line x1="562.1" y1="75.7" x2="562.1" y2="80.5" stroke="#8a8a8a" stroke-width="0.55" />
<line x1="567.7" y1="75.7" x2="567.7" y2="80.5" stroke="#8a8a8a" stroke-width="0.55" />
<line x1="573.3" y1="75.7" x2="573.3" y2="80.5" stroke="#8a8a8a" stroke-width="0.55" />
<line x1="578.9" y1="75.7" x2="578.9" y2="80.5" stroke="#8a8a8a" stroke-width="0.55" />
<line x1="584.5" y1="75.7" x2="584.5" y2="80.5" stroke="#8a8a8a" stroke-width="0.55" />
<line x1="590.1" y1="75.7" x2="590.1" y2="80.5" stroke="#8a8a8a" stroke-width="0.55" />
<line x1="595.7" y1="75.7" x2="595.7" y2="80.5" stroke="#8a8a8a" stroke-width="0.55" />
<line x1="601.3" y1="75.7" x2="601.3" y2="80.5" stroke="#8a8a8a" stroke-width="0.55" />
<line x1="606.9" y1="75.7" x2="606.9" y2="80.5" stroke="#8a8a8a" stroke-width="0.55" />
<line x1="612.5" y1="75.7" x2="612.5" y2="80.5" stroke="#8a8a8a" stroke-width="0.55" />
<line x1="618" y1="75.7" x2="618" y2="80.5" stroke="#8a8a8a" stroke-width="0.55" />
<line x1="623.6" y1="75.7" x2="623.6" y2="80.5" stroke="#8a8a8a" stroke-width="0.55" />
<line x1="629.2" y1="75.7" x2="629.2" y2="80.5" stroke="#8a8a8a" stroke-width="0.55" />
<line x1="634.8" y1="75.7" x2="634.8" y2="80.5" stroke="#8a8a8a" stroke-width="0.55" />
<line x1="640.4" y1="75.7" x2="640.4" y2="80.5" stroke="#8a8a8a" stroke-width="0.55" />
<line x1="646" y1="75.7" x2="646" y2="80.5" stroke="#8a8a8a" stroke-width="0.55" />
<line x1="651.6" y1="75.7" x2="651.6" y2="80.5" stroke="#8a8a8a" stroke-width="0.55" />
<line x1="657.2" y1="75.7" x2="657.2" y2="80.5" stroke="#8a8a8a" stroke-width="0.55" />
<line x1="662.8" y1="75.7" x2="662.8" y2="80.5" stroke="#8a8a8a" stroke-width="0.55" />
<line x1="668.4" y1="75.7" x2="668.4" y2="80.5" stroke="#8a8a8a" stroke-width="0.55" />
<line x1="366.5" y1="75.7" x2="669.5" y2="75.7" stroke="#777" stroke-width="1.6" />
<line x1="332.5" y1="75.7" x2="366.5" y2="75.7" stroke="#444" stroke-width="0.7" />
<circle cx="332.5" cy="75.7" r="1.5" fill="#111" stroke="none" stroke-width="0.8"/>
<circle cx="366.5" cy="75.7" r="1.5" fill="#111" stroke="none" stroke-width="0.8"/>
<circle cx="399.5" cy="75.7" r="1.5" fill="#111" stroke="none" stroke-width="0.8"/>
<circle cx="450.5" cy="75.7" r="1.5" fill="#111" stroke="none" stroke-width="0.8"/>
<circle cx="506.5" cy="75.7" r="1.5" fill="#111" stroke="none" stroke-width="0.8"/>
<circle cx="528.5" cy="75.7" r="1.5" fill="#111" stroke="none" stroke-width="0.8"/>
<circle cx="539.5" cy="75.7" r="1.5" fill="#111" stroke="none" stroke-width="0.8"/>
<circle cx="573.5" cy="75.7" r="1.5" fill="#111" stroke="none" stroke-width="0.8"/>
<circle cx="590.5" cy="75.7" r="1.5" fill="#111" stroke="none" stroke-width="0.8"/>
<circle cx="601.5" cy="75.7" r="1.5" fill="#111" stroke="none" stroke-width="0.8"/>
<circle cx="635.5" cy="75.7" r="1.5" fill="#111" stroke="none" stroke-width="0.8"/>
<circle cx="669.5" cy="75.7" r="1.5" fill="#111" stroke="none" stroke-width="0.8"/>
<text x="383" y="70.7" font-size="5.7" text-anchor="middle" fill="#5a5a5a" font-family='"Liberation Mono", monospace' >1.00</text>
<text x="425" y="70.7" font-size="5.7" text-anchor="middle" fill="#5a5a5a" font-family='"Liberation Mono", monospace' >1.30</text>
<text x="478.5" y="70.7" font-size="5.7" text-anchor="middle" fill="#5a5a5a" font-family='"Liberation Mono", monospace' >1.40</text>
<text x="517.5" y="70.7" font-size="5.7" text-anchor="middle" fill="#5a5a5a" font-family='"Liberation Mono", monospace' >40</text>
<text x="534" y="72.2" font-size="5.7" text-anchor="middle" fill="#5a5a5a" font-family='"Liberation Mono", monospace' >20</text>
<text x="556.5" y="70.7" font-size="5.7" text-anchor="middle" fill="#5a5a5a" font-family='"Liberation Mono", monospace' >1.0</text>
<text x="582" y="72.2" font-size="5.7" text-anchor="middle" fill="#5a5a5a" font-family='"Liberation Mono", monospace' >30</text>
<text x="596" y="72.2" font-size="5.7" text-anchor="middle" fill="#5a5a5a" font-family='"Liberation Mono", monospace' >20</text>
<text x="618.5" y="70.7" font-size="5.7" text-anchor="middle" fill="#5a5a5a" font-family='"Liberation Mono", monospace' >1.0</text>
<text x="652.5" y="70.7" font-size="5.7" text-anchor="middle" fill="#5a5a5a" font-family='"Liberation Mono", monospace' >1.0</text>
<text x="332.5" y="53" font-size="8.9" text-anchor="middle" fill="#4a4a4a" font-family='"Liberation Mono", monospace' >P</text>
<text x="366.5" y="53" font-size="8.9" text-anchor="middle" fill="#4a4a4a" font-family='"Liberation Mono", monospace' >A</text>
<text x="399.5" y="53" font-size="8.9" text-anchor="middle" fill="#4a4a4a" font-family='"Liberation Mono", monospace' >B</text>
<text x="450.5" y="53" font-size="8.9" text-anchor="middle" fill="#4a4a4a" font-family='"Liberation Mono", monospace' >C</text>
<text x="506.5" y="53" font-size="8.9" text-anchor="middle" fill="#4a4a4a" font-family='"Liberation Mono", monospace' >D</text>
<text x="528.5" y="53" font-size="8.9" text-anchor="middle" fill="#4a4a4a" font-family='"Liberation Mono", monospace' >E</text>
<text x="539.5" y="53" font-size="8.9" text-anchor="middle" fill="#4a4a4a" font-family='"Liberation Mono", monospace' >F</text>
<text x="573.5" y="53" font-size="8.9" text-anchor="middle" fill="#4a4a4a" font-family='"Liberation Mono", monospace' >G</text>
<text x="590.5" y="53" font-size="8.9" text-anchor="middle" fill="#4a4a4a" font-family='"Liberation Mono", monospace' >H</text>
<text x="601.5" y="53" font-size="8.9" text-anchor="middle" fill="#4a4a4a" font-family='"Liberation Mono", monospace' >I</text>
<text x="635.5" y="53" font-size="8.9" text-anchor="middle" fill="#4a4a4a" font-family='"Liberation Mono", monospace' >J</text>
<text x="669.5" y="53" font-size="8.9" text-anchor="middle" fill="#4a4a4a" font-family='"Liberation Mono", monospace' >K</text>
<text x="318" y="45.2" font-size="8.9" text-anchor="start" fill="#4a4a4a" font-family='"Liberation Mono", monospace' >Atlantic To Pacific :Southbound</text>
<text x="466" y="22.6" font-size="9.4" text-anchor="start" fill="#4a4a4a" font-family='"Liberation Mono", monospace' >PK: Canal Waters Time</text>
<text x="468.5" y="31.2" font-size="9.4" text-anchor="start" fill="#4a4a4a" font-family='"Liberation Mono", monospace' >AJ: In Transit Time</text>
<polyline points="332.5,46 332.5,23.8 669.5,23.8 669.5,41" fill="none" stroke="#666" stroke-width="0.75" />
<polyline points="366.5,41 366.5,32.4 635.5,32.4 635.5,41" fill="none" stroke="#666" stroke-width="0.75" />
<text x="160" y="70" font-size="9.3" text-anchor="start" fill="#222" font-family='"Liberation Sans", sans-serif' textLength="159" lengthAdjust="spacingAndGlyphs">Canal Waters Time_exisitng condition</text>
<text x="160" y="79.6" font-size="6.6" text-anchor="start" fill="#222" font-family='"Liberation Sans", sans-serif' textLength="145.5" lengthAdjust="spacingAndGlyphs">Temporal Tolerance of Canal Wates Time</text>
<polygon points="478.4,570 478.4,574.4 353,586 345,598 329,609.6 228,621.4 225,633.2 242,644.8 272,656.6 95.6,668.4 47.4,680.4 -95,692 -141,704 301,723.4 397,735 514,747 319.4,759 419,770.6 477,782.4 505.6,794.2 443,806 475,817.6 493,829.6 519,841.4 488,853 488,860 573.6,860 573.6,853 628.5,841.4 603.5,829.6 613.3,817.6 548.8,806 676,794.2 683,782.4 626,770.6 517,759 774,747 643.6,735 902,723.4 489,704 460,692 429,680.4 471,668.4 452,656.6 468,644.8 498,633.2 480,621.4 498,609.6 495.6,598 498,586 514.4,574.4 514.4,570" fill="#f9f9da" stroke="none" stroke-width="0.8" />
<line x1="30" y1="570" x2="30" y2="875" stroke="#c4c4c4" stroke-width="0.8" />
<line x1="63.5" y1="570" x2="63.5" y2="875" stroke="#c4c4c4" stroke-width="0.8" />
<line x1="97.1" y1="570" x2="97.1" y2="875" stroke="#c4c4c4" stroke-width="0.8" />
<line x1="130.6" y1="570" x2="130.6" y2="875" stroke="#c4c4c4" stroke-width="0.8" />
<line x1="164.2" y1="570" x2="164.2" y2="875" stroke="#c4c4c4" stroke-width="0.8" />
<line x1="197.8" y1="570" x2="197.8" y2="875" stroke="#c4c4c4" stroke-width="0.8" />
<line x1="231.3" y1="570" x2="231.3" y2="875" stroke="#c4c4c4" stroke-width="0.8" />
<line x1="264.8" y1="570" x2="264.8" y2="875" stroke="#c4c4c4" stroke-width="0.8" />
<line x1="702.6" y1="570" x2="702.6" y2="875" stroke="#c4c4c4" stroke-width="0.8" />
<line x1="736.2" y1="570" x2="736.2" y2="875" stroke="#c4c4c4" stroke-width="0.8" />
<line x1="769.8" y1="570" x2="769.8" y2="875" stroke="#c4c4c4" stroke-width="0.8" />
<line x1="803.4" y1="570" x2="803.4" y2="875" stroke="#c4c4c4" stroke-width="0.8" />
<line x1="837" y1="570" x2="837" y2="875" stroke="#c4c4c4" stroke-width="0.8" />
<line x1="870.6" y1="570" x2="870.6" y2="875" stroke="#c4c4c4" stroke-width="0.8" />
<line x1="904.2" y1="570" x2="904.2" y2="875" stroke="#c4c4c4" stroke-width="0.8" />
<line x1="937.8" y1="570" x2="937.8" y2="875" stroke="#c4c4c4" stroke-width="0.8" />
<line x1="971.4" y1="570" x2="971.4" y2="875" stroke="#c4c4c4" stroke-width="0.8" />
<line x1="311" y1="578.7" x2="668" y2="578.7" stroke="#d0d0c4" stroke-width="0.9" stroke-dasharray="5.4 4.4"/>
<line x1="311" y1="582" x2="668" y2="582" stroke="#d0d0c4" stroke-width="0.9" stroke-dasharray="5.4 4.4"/>
<line x1="311" y1="590.3" x2="668" y2="590.3" stroke="#d0d0c4" stroke-width="0.9" stroke-dasharray="5.4 4.4"/>
<line x1="311" y1="593.6" x2="668" y2="593.6" stroke="#d0d0c4" stroke-width="0.9" stroke-dasharray="5.4 4.4"/>
<line x1="311" y1="602.3" x2="668" y2="602.3" stroke="#d0d0c4" stroke-width="0.9" stroke-dasharray="5.4 4.4"/>
<line x1="311" y1="605.6" x2="668" y2="605.6" stroke="#d0d0c4" stroke-width="0.9" stroke-dasharray="5.4 4.4"/>
<line x1="311" y1="613.9" x2="668" y2="613.9" stroke="#d0d0c4" stroke-width="0.9" stroke-dasharray="5.4 4.4"/>
<line x1="311" y1="617.2" x2="668" y2="617.2" stroke="#d0d0c4" stroke-width="0.9" stroke-dasharray="5.4 4.4"/>
<line x1="311" y1="625.7" x2="668" y2="625.7" stroke="#d0d0c4" stroke-width="0.9" stroke-dasharray="5.4 4.4"/>
<line x1="311" y1="629" x2="668" y2="629" stroke="#d0d0c4" stroke-width="0.9" stroke-dasharray="5.4 4.4"/>
<line x1="311" y1="637.5" x2="668" y2="637.5" stroke="#d0d0c4" stroke-width="0.9" stroke-dasharray="5.4 4.4"/>
<line x1="311" y1="640.8" x2="668" y2="640.8" stroke="#d0d0c4" stroke-width="0.9" stroke-dasharray="5.4 4.4"/>
<line x1="311" y1="649.1" x2="668" y2="649.1" stroke="#d0d0c4" stroke-width="0.9" stroke-dasharray="5.4 4.4"/>
<line x1="311" y1="652.4" x2="668" y2="652.4" stroke="#d0d0c4" stroke-width="0.9" stroke-dasharray="5.4 4.4"/>
<line x1="311" y1="660.9" x2="668" y2="660.9" stroke="#d0d0c4" stroke-width="0.9" stroke-dasharray="5.4 4.4"/>
<line x1="311" y1="664.2" x2="668" y2="664.2" stroke="#d0d0c4" stroke-width="0.9" stroke-dasharray="5.4 4.4"/>
<line x1="311" y1="672.7" x2="668" y2="672.7" stroke="#d0d0c4" stroke-width="0.9" stroke-dasharray="5.4 4.4"/>
<line x1="311" y1="676" x2="668" y2="676" stroke="#d0d0c4" stroke-width="0.9" stroke-dasharray="5.4 4.4"/>
<line x1="311" y1="684.7" x2="668" y2="684.7" stroke="#d0d0c4" stroke-width="0.9" stroke-dasharray="5.4 4.4"/>
<line x1="311" y1="688" x2="668" y2="688" stroke="#d0d0c4" stroke-width="0.9" stroke-dasharray="5.4 4.4"/>
<line x1="311" y1="696.3" x2="668" y2="696.3" stroke="#d0d0c4" stroke-width="0.9" stroke-dasharray="5.4 4.4"/>
<line x1="311" y1="699.6" x2="668" y2="699.6" stroke="#d0d0c4" stroke-width="0.9" stroke-dasharray="5.4 4.4"/>
<line x1="311" y1="708.3" x2="668" y2="708.3" stroke="#d0d0c4" stroke-width="0.9" stroke-dasharray="5.4 4.4"/>
<line x1="311" y1="711.6" x2="668" y2="711.6" stroke="#d0d0c4" stroke-width="0.9" stroke-dasharray="5.4 4.4"/>
<line x1="311" y1="727.7" x2="668" y2="727.7" stroke="#d0d0c4" stroke-width="0.9" stroke-dasharray="5.4 4.4"/>
<line x1="311" y1="731" x2="668" y2="731" stroke="#d0d0c4" stroke-width="0.9" stroke-dasharray="5.4 4.4"/>
<line x1="311" y1="739.3" x2="668" y2="739.3" stroke="#d0d0c4" stroke-width="0.9" stroke-dasharray="5.4 4.4"/>
<line x1="311" y1="742.6" x2="668" y2="742.6" stroke="#d0d0c4" stroke-width="0.9" stroke-dasharray="5.4 4.4"/>
<line x1="311" y1="751.3" x2="668" y2="751.3" stroke="#d0d0c4" stroke-width="0.9" stroke-dasharray="5.4 4.4"/>
<line x1="311" y1="754.6" x2="668" y2="754.6" stroke="#d0d0c4" stroke-width="0.9" stroke-dasharray="5.4 4.4"/>
<line x1="311" y1="763.3" x2="668" y2="763.3" stroke="#d0d0c4" stroke-width="0.9" stroke-dasharray="5.4 4.4"/>
<line x1="311" y1="766.6" x2="668" y2="766.6" stroke="#d0d0c4" stroke-width="0.9" stroke-dasharray="5.4 4.4"/>
<line x1="311" y1="774.9" x2="668" y2="774.9" stroke="#d0d0c4" stroke-width="0.9" stroke-dasharray="5.4 4.4"/>
<line x1="311" y1="778.2" x2="668" y2="778.2" stroke="#d0d0c4" stroke-width="0.9" stroke-dasharray="5.4 4.4"/>
<line x1="311" y1="786.7" x2="668" y2="786.7" stroke="#d0d0c4" stroke-width="0.9" stroke-dasharray="5.4 4.4"/>
<line x1="311" y1="790" x2="668" y2="790" stroke="#d0d0c4" stroke-width="0.9" stroke-dasharray="5.4 4.4"/>
<line x1="311" y1="798.5" x2="668" y2="798.5" stroke="#d0d0c4" stroke-width="0.9" stroke-dasharray="5.4 4.4"/>
<line x1="311" y1="801.8" x2="668" y2="801.8" stroke="#d0d0c4" stroke-width="0.9" stroke-dasharray="5.4 4.4"/>
<line x1="311" y1="810.3" x2="668" y2="810.3" stroke="#d0d0c4" stroke-width="0.9" stroke-dasharray="5.4 4.4"/>
<line x1="311" y1="813.6" x2="668" y2="813.6" stroke="#d0d0c4" stroke-width="0.9" stroke-dasharray="5.4 4.4"/>
<line x1="311" y1="821.9" x2="668" y2="821.9" stroke="#d0d0c4" stroke-width="0.9" stroke-dasharray="5.4 4.4"/>
<line x1="311" y1="825.2" x2="668" y2="825.2" stroke="#d0d0c4" stroke-width="0.9" stroke-dasharray="5.4 4.4"/>
<line x1="311" y1="833.9" x2="668" y2="833.9" stroke="#d0d0c4" stroke-width="0.9" stroke-dasharray="5.4 4.4"/>
<line x1="311" y1="837.2" x2="668" y2="837.2" stroke="#d0d0c4" stroke-width="0.9" stroke-dasharray="5.4 4.4"/>
<line x1="311" y1="845.7" x2="668" y2="845.7" stroke="#d0d0c4" stroke-width="0.9" stroke-dasharray="5.4 4.4"/>
<line x1="311" y1="849" x2="668" y2="849" stroke="#d0d0c4" stroke-width="0.9" stroke-dasharray="5.4 4.4"/>
<line x1="311" y1="857.3" x2="668" y2="857.3" stroke="#d0d0c4" stroke-width="0.9" stroke-dasharray="5.4 4.4"/>
<line x1="311" y1="860.6" x2="668" y2="860.6" stroke="#d0d0c4" stroke-width="0.9" stroke-dasharray="5.4 4.4"/>
<line x1="311" y1="570" x2="668" y2="570" stroke="#d0d0c4" stroke-width="0.9" stroke-dasharray="5.4 4.4"/>
<line x1="311" y1="864" x2="668" y2="864" stroke="#d0d0c4" stroke-width="0.9" stroke-dasharray="5.4 4.4"/>
<line x1="670" y1="857.3" x2="770" y2="857.3" stroke="#d0d0c4" stroke-width="0.9" stroke-dasharray="5.4 4.4"/>
<line x1="670" y1="860.6" x2="770" y2="860.6" stroke="#d0d0c4" stroke-width="0.9" stroke-dasharray="5.4 4.4"/>
<polygon points="377.4,570 377.4,574.4 229,586 234,598 220.6,609.6 58,621.4 85,633.2 17,644.8 187,656.6 -4,668.4 -400,680.4 -460,692 -233,704 176,723.4 282,735 395,747 190,759 300,770.6 392,782.4 407.4,794.2 329.6,806 380,817.6 421,829.6 439,841.4 409,853 409,860 459.2,860 459.2,853 489.2,841.4 471.2,829.6 430.2,817.6 379.8,806 457.6,794.2 442.2,782.4 350.2,770.6 240.2,759 445.2,747 332.2,735 226.2,723.4 -182.8,704 -409.8,692 -349.8,680.4 46.2,668.4 237.2,656.6 67.2,644.8 135.2,633.2 108.2,621.4 270.8,609.6 284.2,598 279.2,586 427.6,574.4 427.6,570" fill="#dde58a" stroke="none" stroke-width="0.8" />
<polygon points="554.4,570 554.4,574.4 538,586 537,598 530,609.6 515,621.4 537,633.2 509,644.8 493,656.6 510,668.4 469,680.4 500,692 529,704 944,723.4 685.5,735 816,747 559.4,759 667,770.6 725.6,782.4 717.4,794.2 590.4,806 654.4,817.6 660.8,829.6 669.6,841.4 615.2,853 615.2,860 631.8,860 631.8,853 686.2,841.4 677.4,829.6 671,817.6 607,806 734,794.2 742.2,782.4 683.6,770.6 576,759 832.6,747 702.1,735 960.6,723.4 545.6,704 516.6,692 485.6,680.4 526.6,668.4 509.6,656.6 525.6,644.8 553.6,633.2 531.6,621.4 546.6,609.6 553.6,598 554.6,586 571,574.4 571,570" fill="#dde58a" stroke="none" stroke-width="0.8" />
<polygon points="588,570 588,574.4 569.6,586 596,598 588.6,609.6 573,621.4 586,633.2 573.6,644.8 602,656.6 589,668.4 564,680.4 552,692 594.4,704 1060,723.4 791,735 905,747 644.4,759 758,770.6 797,782.4 805.6,794.2 681,806 742,817.6 735,829.6 751,841.4 675,853 675,860 708,860 708,853 784,841.4 768,829.6 775.4,817.6 714.4,806 839,794.2 830.4,782.4 791.6,770.6 678,759 938.5,747 824.5,735 1093.5,723.4 625,704 582.4,692 594.4,680.4 620,668.4 633,656.6 604,644.8 616.6,633.2 603.6,621.4 619.4,609.6 626.4,598 600,586 619.4,574.4 619.4,570" fill="#dde58a" stroke="none" stroke-width="0.8" />
<clipPath id="palec"><polygon points="478.4,570 478.4,574.4 353,586 345,598 329,609.6 228,621.4 225,633.2 242,644.8 272,656.6 95.6,668.4 47.4,680.4 -95,692 -141,704 301,723.4 397,735 514,747 319.4,759 419,770.6 477,782.4 505.6,794.2 443,806 475,817.6 493,829.6 519,841.4 488,853 488,860 573.6,860 573.6,853 628.5,841.4 603.5,829.6 613.3,817.6 548.8,806 676,794.2 683,782.4 626,770.6 517,759 774,747 643.6,735 902,723.4 489,704 460,692 429,680.4 471,668.4 452,656.6 468,644.8 498,633.2 480,621.4 498,609.6 495.6,598 498,586 514.4,574.4 514.4,570"/></clipPath>
<g clip-path="url(#palec)">
<line x1="0" y1="712.8" x2="1000" y2="712.8" stroke="#c9c9b6" stroke-width="0.8" />
<line x1="2.4" y1="715" x2="2.4" y2="717.6" stroke="#b4b4a4" stroke-width="0.6" />
<line x1="8" y1="715" x2="8" y2="717.6" stroke="#b4b4a4" stroke-width="0.6" />
<line x1="13.6" y1="715" x2="13.6" y2="717.6" stroke="#b4b4a4" stroke-width="0.6" />
<line x1="19.2" y1="715" x2="19.2" y2="717.6" stroke="#b4b4a4" stroke-width="0.6" />
<line x1="24.8" y1="715" x2="24.8" y2="717.6" stroke="#b4b4a4" stroke-width="0.6" />
<line x1="30.4" y1="715" x2="30.4" y2="717.6" stroke="#b4b4a4" stroke-width="0.6" />
<line x1="35.9" y1="715" x2="35.9" y2="717.6" stroke="#b4b4a4" stroke-width="0.6" />
<line x1="41.5" y1="715" x2="41.5" y2="717.6" stroke="#b4b4a4" stroke-width="0.6" />
<line x1="47.1" y1="715" x2="47.1" y2="717.6" stroke="#b4b4a4" stroke-width="0.6" />
<line x1="52.7" y1="715" x2="52.7" y2="717.6" stroke="#b4b4a4" stroke-width="0.6" />
<line x1="58.3" y1="715" x2="58.3" y2="717.6" stroke="#b4b4a4" stroke-width="0.6" />
<line x1="63.9" y1="715" x2="63.9" y2="717.6" stroke="#b4b4a4" stroke-width="0.6" />
<line x1="69.5" y1="715" x2="69.5" y2="717.6" stroke="#b4b4a4" stroke-width="0.6" />
<line x1="75.1" y1="715" x2="75.1" y2="717.6" stroke="#b4b4a4" stroke-width="0.6" />
<line x1="80.7" y1="715" x2="80.7" y2="717.6" stroke="#b4b4a4" stroke-width="0.6" />
<line x1="86.3" y1="715" x2="86.3" y2="717.6" stroke="#b4b4a4" stroke-width="0.6" />
<line x1="91.8" y1="715" x2="91.8" y2="717.6" stroke="#b4b4a4" stroke-width="0.6" />
<line x1="97.4" y1="715" x2="97.4" y2="717.6" stroke="#b4b4a4" stroke-width="0.6" />
<line x1="103" y1="715" x2="103" y2="717.6" stroke="#b4b4a4" stroke-width="0.6" />
<line x1="108.6" y1="715" x2="108.6" y2="717.6" stroke="#b4b4a4" stroke-width="0.6" />
<line x1="114.2" y1="715" x2="114.2" y2="717.6" stroke="#b4b4a4" stroke-width="0.6" />
<line x1="119.8" y1="715" x2="119.8" y2="717.6" stroke="#b4b4a4" stroke-width="0.6" />
<line x1="125.4" y1="715" x2="125.4" y2="717.6" stroke="#b4b4a4" stroke-width="0.6" />
<line x1="131" y1="715" x2="131" y2="717.6" stroke="#b4b4a4" stroke-width="0.6" />
<line x1="136.6" y1="715" x2="136.6" y2="717.6" stroke="#b4b4a4" stroke-width="0.6" />
<line x1="142.2" y1="715" x2="142.2" y2="717.6" stroke="#b4b4a4" stroke-width="0.6" />
<line x1="147.7" y1="715" x2="147.7" y2="717.6" stroke="#b4b4a4" stroke-width="0.6" />
<line x1="153.3" y1="715" x2="153.3" y2="717.6" stroke="#b4b4a4" stroke-width="0.6" />
<line x1="158.9" y1="715" x2="158.9" y2="717.6" stroke="#b4b4a4" stroke-width="0.6" />
<line x1="164.5" y1="715" x2="164.5" y2="717.6" stroke="#b4b4a4" stroke-width="0.6" />
<line x1="170.1" y1="715" x2="170.1" y2="717.6" stroke="#b4b4a4" stroke-width="0.6" />
<line x1="175.7" y1="715" x2="175.7" y2="717.6" stroke="#b4b4a4" stroke-width="0.6" />
<line x1="181.3" y1="715" x2="181.3" y2="717.6" stroke="#b4b4a4" stroke-width="0.6" />
<line x1="186.9" y1="715" x2="186.9" y2="717.6" stroke="#b4b4a4" stroke-width="0.6" />
<line x1="192.5" y1="715" x2="192.5" y2="717.6" stroke="#b4b4a4" stroke-width="0.6" />
<line x1="198.1" y1="715" x2="198.1" y2="717.6" stroke="#b4b4a4" stroke-width="0.6" />
<line x1="203.6" y1="715" x2="203.6" y2="717.6" stroke="#b4b4a4" stroke-width="0.6" />
<line x1="209.2" y1="715" x2="209.2" y2="717.6" stroke="#b4b4a4" stroke-width="0.6" />
<line x1="214.8" y1="715" x2="214.8" y2="717.6" stroke="#b4b4a4" stroke-width="0.6" />
<line x1="220.4" y1="715" x2="220.4" y2="717.6" stroke="#b4b4a4" stroke-width="0.6" />
<line x1="226" y1="715" x2="226" y2="717.6" stroke="#b4b4a4" stroke-width="0.6" />
<line x1="231.6" y1="715" x2="231.6" y2="717.6" stroke="#b4b4a4" stroke-width="0.6" />
<line x1="237.2" y1="715" x2="237.2" y2="717.6" stroke="#b4b4a4" stroke-width="0.6" />
<line x1="242.8" y1="715" x2="242.8" y2="717.6" stroke="#b4b4a4" stroke-width="0.6" />
<line x1="248.4" y1="715" x2="248.4" y2="717.6" stroke="#b4b4a4" stroke-width="0.6" />
<line x1="254" y1="715" x2="254" y2="717.6" stroke="#b4b4a4" stroke-width="0.6" />
<line x1="259.5" y1="715" x2="259.5" y2="717.6" stroke="#b4b4a4" stroke-width="0.6" />
<line x1="265.1" y1="715" x2="265.1" y2="717.6" stroke="#b4b4a4" stroke-width="0.6" />
<line x1="270.7" y1="715" x2="270.7" y2="717.6" stroke="#b4b4a4" stroke-width="0.6" />
<line x1="276.3" y1="715" x2="276.3" y2="717.6" stroke="#b4b4a4" stroke-width="0.6" />
<line x1="281.9" y1="715" x2="281.9" y2="717.6" stroke="#b4b4a4" stroke-width="0.6" />
<line x1="287.5" y1="715" x2="287.5" y2="717.6" stroke="#b4b4a4" stroke-width="0.6" />
<line x1="293.1" y1="715" x2="293.1" y2="717.6" stroke="#b4b4a4" stroke-width="0.6" />
<line x1="298.7" y1="715" x2="298.7" y2="717.6" stroke="#b4b4a4" stroke-width="0.6" />
<line x1="304.3" y1="715" x2="304.3" y2="717.6" stroke="#b4b4a4" stroke-width="0.6" />
<line x1="309.8" y1="715" x2="309.8" y2="717.6" stroke="#b4b4a4" stroke-width="0.6" />
<line x1="315.4" y1="715" x2="315.4" y2="717.6" stroke="#b4b4a4" stroke-width="0.6" />
<line x1="321" y1="715" x2="321" y2="717.6" stroke="#b4b4a4" stroke-width="0.6" />
<line x1="326.6" y1="715" x2="326.6" y2="717.6" stroke="#b4b4a4" stroke-width="0.6" />
<line x1="332.2" y1="715" x2="332.2" y2="717.6" stroke="#b4b4a4" stroke-width="0.6" />
<line x1="337.8" y1="715" x2="337.8" y2="717.6" stroke="#b4b4a4" stroke-width="0.6" />
<line x1="343.4" y1="715" x2="343.4" y2="717.6" stroke="#b4b4a4" stroke-width="0.6" />
<line x1="349" y1="715" x2="349" y2="717.6" stroke="#b4b4a4" stroke-width="0.6" />
<line x1="354.6" y1="715" x2="354.6" y2="717.6" stroke="#b4b4a4" stroke-width="0.6" />
<line x1="360.2" y1="715" x2="360.2" y2="717.6" stroke="#b4b4a4" stroke-width="0.6" />
<line x1="365.7" y1="715" x2="365.7" y2="717.6" stroke="#b4b4a4" stroke-width="0.6" />
<line x1="371.3" y1="715" x2="371.3" y2="717.6" stroke="#b4b4a4" stroke-width="0.6" />
<line x1="376.9" y1="715" x2="376.9" y2="717.6" stroke="#b4b4a4" stroke-width="0.6" />
<line x1="382.5" y1="715" x2="382.5" y2="717.6" stroke="#b4b4a4" stroke-width="0.6" />
<line x1="388.1" y1="715" x2="388.1" y2="717.6" stroke="#b4b4a4" stroke-width="0.6" />
<line x1="393.7" y1="715" x2="393.7" y2="717.6" stroke="#b4b4a4" stroke-width="0.6" />
<line x1="399.3" y1="715" x2="399.3" y2="717.6" stroke="#b4b4a4" stroke-width="0.6" />
<line x1="404.9" y1="715" x2="404.9" y2="717.6" stroke="#b4b4a4" stroke-width="0.6" />
<line x1="410.5" y1="715" x2="410.5" y2="717.6" stroke="#b4b4a4" stroke-width="0.6" />
<line x1="416.1" y1="715" x2="416.1" y2="717.6" stroke="#b4b4a4" stroke-width="0.6" />
<line x1="421.6" y1="715" x2="421.6" y2="717.6" stroke="#b4b4a4" stroke-width="0.6" />
<line x1="427.2" y1="715" x2="427.2" y2="717.6" stroke="#b4b4a4" stroke-width="0.6" />
<line x1="432.8" y1="715" x2="432.8" y2="717.6" stroke="#b4b4a4" stroke-width="0.6" />
<line x1="438.4" y1="715" x2="438.4" y2="717.6" stroke="#b4b4a4" stroke-width="0.6" />
<line x1="444" y1="715" x2="444" y2="717.6" stroke="#b4b4a4" stroke-width="0.6" />
<line x1="449.6" y1="715" x2="449.6" y2="717.6" stroke="#b4b4a4" stroke-width="0.6" />
<line x1="455.2" y1="715" x2="455.2" y2="717.6" stroke="#b4b4a4" stroke-width="0.6" />
<line x1="460.8" y1="715" x2="460.8" y2="717.6" stroke="#b4b4a4" stroke-width="0.6" />
<line x1="466.4" y1="715" x2="466.4" y2="717.6" stroke="#b4b4a4" stroke-width="0.6" />
<line x1="472" y1="715" x2="472" y2="717.6" stroke="#b4b4a4" stroke-width="0.6" />
<line x1="477.5" y1="715" x2="477.5" y2="717.6" stroke="#b4b4a4" stroke-width="0.6" />
<line x1="483.1" y1="715" x2="483.1" y2="717.6" stroke="#b4b4a4" stroke-width="0.6" />
<line x1="488.7" y1="715" x2="488.7" y2="717.6" stroke="#b4b4a4" stroke-width="0.6" />
<line x1="494.3" y1="715" x2="494.3" y2="717.6" stroke="#b4b4a4" stroke-width="0.6" />
<line x1="499.9" y1="715" x2="499.9" y2="717.6" stroke="#b4b4a4" stroke-width="0.6" />
<line x1="505.5" y1="715" x2="505.5" y2="717.6" stroke="#b4b4a4" stroke-width="0.6" />
<line x1="511.1" y1="715" x2="511.1" y2="717.6" stroke="#b4b4a4" stroke-width="0.6" />
<line x1="516.7" y1="715" x2="516.7" y2="717.6" stroke="#b4b4a4" stroke-width="0.6" />
<line x1="522.3" y1="715" x2="522.3" y2="717.6" stroke="#b4b4a4" stroke-width="0.6" />
<line x1="527.9" y1="715" x2="527.9" y2="717.6" stroke="#b4b4a4" stroke-width="0.6" />
<line x1="533.4" y1="715" x2="533.4" y2="717.6" stroke="#b4b4a4" stroke-width="0.6" />
<line x1="539" y1="715" x2="539" y2="717.6" stroke="#b4b4a4" stroke-width="0.6" />
<line x1="544.6" y1="715" x2="544.6" y2="717.6" stroke="#b4b4a4" stroke-width="0.6" />
<line x1="550.2" y1="715" x2="550.2" y2="717.6" stroke="#b4b4a4" stroke-width="0.6" />
<line x1="555.8" y1="715" x2="555.8" y2="717.6" stroke="#b4b4a4" stroke-width="0.6" />
<line x1="561.4" y1="715" x2="561.4" y2="717.6" stroke="#b4b4a4" stroke-width="0.6" />
<line x1="567" y1="715" x2="567" y2="717.6" stroke="#b4b4a4" stroke-width="0.6" />
<line x1="572.6" y1="715" x2="572.6" y2="717.6" stroke="#b4b4a4" stroke-width="0.6" />
<line x1="578.2" y1="715" x2="578.2" y2="717.6" stroke="#b4b4a4" stroke-width="0.6" />
<line x1="583.8" y1="715" x2="583.8" y2="717.6" stroke="#b4b4a4" stroke-width="0.6" />
<line x1="589.3" y1="715" x2="589.3" y2="717.6" stroke="#b4b4a4" stroke-width="0.6" />
<line x1="594.9" y1="715" x2="594.9" y2="717.6" stroke="#b4b4a4" stroke-width="0.6" />
<line x1="600.5" y1="715" x2="600.5" y2="717.6" stroke="#b4b4a4" stroke-width="0.6" />
<line x1="606.1" y1="715" x2="606.1" y2="717.6" stroke="#b4b4a4" stroke-width="0.6" />
<line x1="611.7" y1="715" x2="611.7" y2="717.6" stroke="#b4b4a4" stroke-width="0.6" />
<line x1="617.3" y1="715" x2="617.3" y2="717.6" stroke="#b4b4a4" stroke-width="0.6" />
<line x1="622.9" y1="715" x2="622.9" y2="717.6" stroke="#b4b4a4" stroke-width="0.6" />
<line x1="628.5" y1="715" x2="628.5" y2="717.6" stroke="#b4b4a4" stroke-width="0.6" />
<line x1="634.1" y1="715" x2="634.1" y2="717.6" stroke="#b4b4a4" stroke-width="0.6" />
<line x1="639.7" y1="715" x2="639.7" y2="717.6" stroke="#b4b4a4" stroke-width="0.6" />
<line x1="645.2" y1="715" x2="645.2" y2="717.6" stroke="#b4b4a4" stroke-width="0.6" />
<line x1="650.8" y1="715" x2="650.8" y2="717.6" stroke="#b4b4a4" stroke-width="0.6" />
<line x1="656.4" y1="715" x2="656.4" y2="717.6" stroke="#b4b4a4" stroke-width="0.6" />
<line x1="662" y1="715" x2="662" y2="717.6" stroke="#b4b4a4" stroke-width="0.6" />
<line x1="667.6" y1="715" x2="667.6" y2="717.6" stroke="#b4b4a4" stroke-width="0.6" />
<line x1="673.2" y1="715" x2="673.2" y2="717.6" stroke="#b4b4a4" stroke-width="0.6" />
<line x1="678.8" y1="715" x2="678.8" y2="717.6" stroke="#b4b4a4" stroke-width="0.6" />
<line x1="684.4" y1="715" x2="684.4" y2="717.6" stroke="#b4b4a4" stroke-width="0.6" />
<line x1="690" y1="715" x2="690" y2="717.6" stroke="#b4b4a4" stroke-width="0.6" />
<line x1="695.6" y1="715" x2="695.6" y2="717.6" stroke="#b4b4a4" stroke-width="0.6" />
<line x1="701.2" y1="715" x2="701.2" y2="717.6" stroke="#b4b4a4" stroke-width="0.6" />
<line x1="706.7" y1="715" x2="706.7" y2="717.6" stroke="#b4b4a4" stroke-width="0.6" />
<line x1="712.3" y1="715" x2="712.3" y2="717.6" stroke="#b4b4a4" stroke-width="0.6" />
<line x1="717.9" y1="715" x2="717.9" y2="717.6" stroke="#b4b4a4" stroke-width="0.6" />
<line x1="723.5" y1="715" x2="723.5" y2="717.6" stroke="#b4b4a4" stroke-width="0.6" />
<line x1="729.1" y1="715" x2="729.1" y2="717.6" stroke="#b4b4a4" stroke-width="0.6" />
<line x1="734.7" y1="715" x2="734.7" y2="717.6" stroke="#b4b4a4" stroke-width="0.6" />
<line x1="740.3" y1="715" x2="740.3" y2="717.6" stroke="#b4b4a4" stroke-width="0.6" />
<line x1="745.9" y1="715" x2="745.9" y2="717.6" stroke="#b4b4a4" stroke-width="0.6" />
<line x1="751.5" y1="715" x2="751.5" y2="717.6" stroke="#b4b4a4" stroke-width="0.6" />
<line x1="757.1" y1="715" x2="757.1" y2="717.6" stroke="#b4b4a4" stroke-width="0.6" />
<line x1="762.6" y1="715" x2="762.6" y2="717.6" stroke="#b4b4a4" stroke-width="0.6" />
<line x1="768.2" y1="715" x2="768.2" y2="717.6" stroke="#b4b4a4" stroke-width="0.6" />
<line x1="773.8" y1="715" x2="773.8" y2="717.6" stroke="#b4b4a4" stroke-width="0.6" />
<line x1="779.4" y1="715" x2="779.4" y2="717.6" stroke="#b4b4a4" stroke-width="0.6" />
<line x1="785" y1="715" x2="785" y2="717.6" stroke="#b4b4a4" stroke-width="0.6" />
<line x1="790.6" y1="715" x2="790.6" y2="717.6" stroke="#b4b4a4" stroke-width="0.6" />
<line x1="796.2" y1="715" x2="796.2" y2="717.6" stroke="#b4b4a4" stroke-width="0.6" />
<line x1="801.8" y1="715" x2="801.8" y2="717.6" stroke="#b4b4a4" stroke-width="0.6" />
<line x1="807.4" y1="715" x2="807.4" y2="717.6" stroke="#b4b4a4" stroke-width="0.6" />
<line x1="813" y1="715" x2="813" y2="717.6" stroke="#b4b4a4" stroke-width="0.6" />
<line x1="818.5" y1="715" x2="818.5" y2="717.6" stroke="#b4b4a4" stroke-width="0.6" />
<line x1="824.1" y1="715" x2="824.1" y2="717.6" stroke="#b4b4a4" stroke-width="0.6" />
<line x1="829.7" y1="715" x2="829.7" y2="717.6" stroke="#b4b4a4" stroke-width="0.6" />
<line x1="835.3" y1="715" x2="835.3" y2="717.6" stroke="#b4b4a4" stroke-width="0.6" />
<line x1="840.9" y1="715" x2="840.9" y2="717.6" stroke="#b4b4a4" stroke-width="0.6" />
<line x1="846.5" y1="715" x2="846.5" y2="717.6" stroke="#b4b4a4" stroke-width="0.6" />
<line x1="852.1" y1="715" x2="852.1" y2="717.6" stroke="#b4b4a4" stroke-width="0.6" />
<line x1="857.7" y1="715" x2="857.7" y2="717.6" stroke="#b4b4a4" stroke-width="0.6" />
<line x1="863.3" y1="715" x2="863.3" y2="717.6" stroke="#b4b4a4" stroke-width="0.6" />
<line x1="868.9" y1="715" x2="868.9" y2="717.6" stroke="#b4b4a4" stroke-width="0.6" />
<line x1="874.4" y1="715" x2="874.4" y2="717.6" stroke="#b4b4a4" stroke-width="0.6" />
<line x1="880" y1="715" x2="880" y2="717.6" stroke="#b4b4a4" stroke-width="0.6" />
<line x1="885.6" y1="715" x2="885.6" y2="717.6" stroke="#b4b4a4" stroke-width="0.6" />
<line x1="891.2" y1="715" x2="891.2" y2="717.6" stroke="#b4b4a4" stroke-width="0.6" />
<line x1="896.8" y1="715" x2="896.8" y2="717.6" stroke="#b4b4a4" stroke-width="0.6" />
<line x1="902.4" y1="715" x2="902.4" y2="717.6" stroke="#b4b4a4" stroke-width="0.6" />
<line x1="908" y1="715" x2="908" y2="717.6" stroke="#b4b4a4" stroke-width="0.6" />
<line x1="913.6" y1="715" x2="913.6" y2="717.6" stroke="#b4b4a4" stroke-width="0.6" />
<line x1="919.2" y1="715" x2="919.2" y2="717.6" stroke="#b4b4a4" stroke-width="0.6" />
<line x1="924.8" y1="715" x2="924.8" y2="717.6" stroke="#b4b4a4" stroke-width="0.6" />
<line x1="930.3" y1="715" x2="930.3" y2="717.6" stroke="#b4b4a4" stroke-width="0.6" />
<line x1="935.9" y1="715" x2="935.9" y2="717.6" stroke="#b4b4a4" stroke-width="0.6" />
<line x1="941.5" y1="715" x2="941.5" y2="717.6" stroke="#b4b4a4" stroke-width="0.6" />
<line x1="947.1" y1="715" x2="947.1" y2="717.6" stroke="#b4b4a4" stroke-width="0.6" />
<line x1="952.7" y1="715" x2="952.7" y2="717.6" stroke="#b4b4a4" stroke-width="0.6" />
<line x1="958.3" y1="715" x2="958.3" y2="717.6" stroke="#b4b4a4" stroke-width="0.6" />
<line x1="963.9" y1="715" x2="963.9" y2="717.6" stroke="#b4b4a4" stroke-width="0.6" />
<line x1="969.5" y1="715" x2="969.5" y2="717.6" stroke="#b4b4a4" stroke-width="0.6" />
<line x1="975.1" y1="715" x2="975.1" y2="717.6" stroke="#b4b4a4" stroke-width="0.6" />
<line x1="980.7" y1="715" x2="980.7" y2="717.6" stroke="#b4b4a4" stroke-width="0.6" />
<line x1="986.2" y1="715" x2="986.2" y2="717.6" stroke="#b4b4a4" stroke-width="0.6" />
<line x1="991.8" y1="715" x2="991.8" y2="717.6" stroke="#b4b4a4" stroke-width="0.6" />
<line x1="997.4" y1="715" x2="997.4" y2="717.6" stroke="#b4b4a4" stroke-width="0.6" />
</g>
<line x1="310.2" y1="574.4" x2="651.2" y2="574.4" stroke="#8a8a8a" stroke-width="1.0" />
<line x1="161.8" y1="586" x2="613.7" y2="586" stroke="#8a8a8a" stroke-width="1.0" />
<line x1="166.8" y1="598" x2="657" y2="598" stroke="#8a8a8a" stroke-width="1.0" />
<line x1="153.4" y1="609.6" x2="645" y2="609.6" stroke="#8a8a8a" stroke-width="1.0" />
<line x1="-5" y1="621.4" x2="630" y2="621.4" stroke="#8a8a8a" stroke-width="1.0" />
<line x1="17.8" y1="633.2" x2="649" y2="633.2" stroke="#8a8a8a" stroke-width="1.0" />
<line x1="-5" y1="644.8" x2="631.5" y2="644.8" stroke="#8a8a8a" stroke-width="1.0" />
<line x1="119.8" y1="656.6" x2="837" y2="656.6" stroke="#8a8a8a" stroke-width="1.0" />
<line x1="-5" y1="668.4" x2="657.6" y2="668.4" stroke="#8a8a8a" stroke-width="1.0" />
<line x1="-5" y1="680.4" x2="623" y2="680.4" stroke="#8a8a8a" stroke-width="1.0" />
<line x1="-5" y1="692" x2="582" y2="692" stroke="#8a8a8a" stroke-width="1.0" />
<line x1="-5" y1="704" x2="664" y2="704" stroke="#8a8a8a" stroke-width="1.0" />
<line x1="75" y1="723.4" x2="1005" y2="723.4" stroke="#8a8a8a" stroke-width="1.0" />
<line x1="235" y1="735" x2="874" y2="735" stroke="#8a8a8a" stroke-width="1.0" />
<line x1="375" y1="747" x2="1005" y2="747" stroke="#8a8a8a" stroke-width="1.0" />
<line x1="99" y1="759" x2="717.4" y2="759" stroke="#8a8a8a" stroke-width="1.0" />
<line x1="240" y1="770.6" x2="842.7" y2="770.6" stroke="#8a8a8a" stroke-width="1.0" />
<line x1="352" y1="782.4" x2="881" y2="782.4" stroke="#8a8a8a" stroke-width="1.0" />
<line x1="398" y1="794.2" x2="885.5" y2="794.2" stroke="#8a8a8a" stroke-width="1.0" />
<line x1="291" y1="806" x2="758.8" y2="806" stroke="#8a8a8a" stroke-width="1.0" />
<line x1="367" y1="817.6" x2="823.6" y2="817.6" stroke="#8a8a8a" stroke-width="1.0" />
<line x1="415.6" y1="829.6" x2="851.7" y2="829.6" stroke="#8a8a8a" stroke-width="1.0" />
<line x1="435.6" y1="841.4" x2="825.4" y2="841.4" stroke="#8a8a8a" stroke-width="1.0" />
<line x1="390" y1="853" x2="748" y2="853" stroke="#8a8a8a" stroke-width="1.0" />
<line x1="310" y1="628" x2="310" y2="864" stroke="#bbb" stroke-width="0.7" stroke-dasharray="2.5 2"/>
<polyline points="310.2,574.4 161.8,586 166.8,598 153.4,609.6 -9.2,621.4 17.8,633.2 -50.2,644.8 119.8,656.6 -71.2,668.4 -467.2,680.4 -527.2,692 -300.2,704" fill="none" stroke="#2a2a2a" stroke-width="0.7" />
<polyline points="343.8,574.4 195.4,586 200.4,598 187,609.6 24.4,621.4 51.4,633.2 -16.6,644.8 153.4,656.6 -37.6,668.4 -433.6,680.4 -493.6,692 -266.6,704" fill="none" stroke="#2a2a2a" stroke-width="0.7" />
<polyline points="377.4,570 377.4,574.4 229,586 234,598 220.6,609.6 58,621.4 85,633.2 17,644.8 187,656.6 -4,668.4 -400,680.4 -460,692 -233,704 176,723.4 282,735 395,747 190,759 300,770.6 392,782.4 407.4,794.2 329.6,806 380,817.6 421,829.6 439,841.4 409,853 409,860" fill="none" stroke="#2a2a2a" stroke-width="0.7" />
<polyline points="427.6,570 427.6,574.4 279.2,586 284.2,598 270.8,609.6 108.2,621.4 135.2,633.2 67.2,644.8 237.2,656.6 46.2,668.4 -349.8,680.4 -409.8,692 -182.8,704 226.2,723.4 332.2,735 445.2,747 240.2,759 350.2,770.6 442.2,782.4 457.6,794.2 379.8,806 430.2,817.6 471.2,829.6 489.2,841.4 459.2,853 459.2,860" fill="none" stroke="#2a2a2a" stroke-width="0.7" />
<polyline points="526,570 526,574.4 509,586 508,598 509,609.6 491,621.4 508,633.2 480,644.8 472,656.6 481,668.4 440,680.4 472,692 500,704 913.6,723.4 655.1,735 785.6,747 529,759 636.6,770.6 695.2,782.4 687,794.2 560,806 624,817.6 630.4,829.6 639.2,841.4 584.8,853 584.8,860" fill="none" stroke="#2a2a2a" stroke-width="0.7" />
<polyline points="554.4,570 554.4,574.4 538,586 537,598 530,609.6 515,621.4 537,633.2 509,644.8 493,656.6 510,668.4 469,680.4 500,692 529,704 944,723.4 685.5,735 816,747 559.4,759 667,770.6 725.6,782.4 717.4,794.2 590.4,806 654.4,817.6 660.8,829.6 669.6,841.4 615.2,853 615.2,860" fill="none" stroke="#2a2a2a" stroke-width="0.7" />
<polyline points="571,570 571,574.4 554.6,586 553.6,598 546.6,609.6 531.6,621.4 553.6,633.2 525.6,644.8 509.6,656.6 526.6,668.4 485.6,680.4 516.6,692 545.6,704 960.6,723.4 702.1,735 832.6,747 576,759 683.6,770.6 742.2,782.4 734,794.2 607,806 671,817.6 677.4,829.6 686.2,841.4 631.8,853 631.8,860" fill="none" stroke="#2a2a2a" stroke-width="0.7" />
<polyline points="588,570 588,574.4 569.6,586 596,598 588.6,609.6 573,621.4 586,633.2 573.6,644.8 602,656.6 589,668.4 564,680.4 552,692 594.4,704 1060,723.4 791,735 905,747 644.4,759 758,770.6 797,782.4 805.6,794.2 681,806 742,817.6 735,829.6 751,841.4 675,853 675,860" fill="none" stroke="#2a2a2a" stroke-width="0.7" />
<polyline points="619.4,570 619.4,574.4 600,586 626.4,598 619.4,609.6 603.6,621.4 616.6,633.2 604,644.8 633,656.6 620,668.4 594.4,680.4 582.4,692 625,704 1093.5,723.4 824.5,735 938.5,747 678,759 791.6,770.6 830.4,782.4 839,794.2 714.4,806 775.4,817.6 768,829.6 784,841.4 708,853 708,860" fill="none" stroke="#2a2a2a" stroke-width="0.7" />
<polyline points="478.4,570 478.4,574.4 353,586 345,598 329,609.6 228,621.4 225,633.2 242,644.8 272,656.6 95.6,668.4 47.4,680.4 -95,692 -141,704 301,723.4 397,735 514,747 319.4,759 419,770.6 477,782.4 505.6,794.2 443,806 475,817.6 493,829.6 519,841.4 488,853 488,860" fill="none" stroke="#444" stroke-width="0.9" stroke-dasharray="4 2.6"/>
<polyline points="514.4,570 514.4,574.4 498,586 495.6,598 498,609.6 480,621.4 498,633.2 468,644.8 452,656.6 471,668.4 429,680.4 460,692 489,704 902,723.4 643.6,735 774,747 517,759 626,770.6 683,782.4 676,794.2 548.8,806 613.3,817.6 603.5,829.6 628.5,841.4 573.6,853 573.6,860" fill="none" stroke="#444" stroke-width="0.9" stroke-dasharray="4 2.6"/>
<line x1="478.4" y1="570" x2="514.4" y2="570" stroke="#888" stroke-width="0.8" stroke-dasharray="4 2.6"/>
<polyline points="614.4,574.4 600,586 621.4,598 614.4,609.6 598.6,621.4 611.6,633.2 599,644.8 628,656.6 615,668.4 589.4,680.4 582.4,692" fill="none" stroke="#333" stroke-width="0.8" stroke-dasharray="3.5 2.4"/>
<polyline points="651.2,574.4 651.2,574.4 613.7,586 657,598 645,609.6 630,621.4 649,633.2 631.5,644.8 837,656.6 657.6,668.4 623,680.4 582,692 664,704 668,712 669.5,719 669.5,876" fill="none" stroke="#2a2a2a" stroke-width="0.75" />
<polyline points="366.5,574.4 366.5,703.6 75,723.4 235,735 375,747 99,759 240,770.6 352,782.4 398,794.2 291,806 367,817.6 415.6,829.6 435.6,841.4 390,853 390,864" fill="none" stroke="#2a2a2a" stroke-width="0.75" />
<polyline points="1110,723.4 874,735 1008,747 717.4,759 842.7,770.6 881,782.4 885.5,794.2 758.8,806 823.6,817.6 851.7,829.6 825.4,841.4 748,853 748,867" fill="none" stroke="#2a2a2a" stroke-width="0.75" />
<circle cx="366.5" cy="586" r="2" fill="#aaa" stroke="#666" stroke-width="0.5"/>
<circle cx="366.5" cy="598" r="2" fill="#aaa" stroke="#666" stroke-width="0.5"/>
<circle cx="366.5" cy="609.6" r="2" fill="#aaa" stroke="#666" stroke-width="0.5"/>
<circle cx="366.5" cy="621.4" r="2" fill="#aaa" stroke="#666" stroke-width="0.5"/>
<circle cx="366.5" cy="633.2" r="2" fill="#aaa" stroke="#666" stroke-width="0.5"/>
<circle cx="366.5" cy="644.8" r="2" fill="#aaa" stroke="#666" stroke-width="0.5"/>
<circle cx="366.5" cy="656.6" r="2" fill="#aaa" stroke="#666" stroke-width="0.5"/>
<circle cx="366.5" cy="668.4" r="2" fill="#aaa" stroke="#666" stroke-width="0.5"/>
<circle cx="366.5" cy="680.4" r="2" fill="#aaa" stroke="#666" stroke-width="0.5"/>
<circle cx="366.5" cy="692" r="2" fill="#aaa" stroke="#666" stroke-width="0.5"/>
<circle cx="366.5" cy="704" r="2" fill="#aaa" stroke="#666" stroke-width="0.5"/>
<circle cx="669.5" cy="747" r="2" fill="#aaa" stroke="#666" stroke-width="0.5"/>
<circle cx="669.5" cy="759" r="2" fill="#aaa" stroke="#666" stroke-width="0.5"/>
<circle cx="669.5" cy="770.6" r="2" fill="#aaa" stroke="#666" stroke-width="0.5"/>
<circle cx="669.5" cy="782.4" r="2" fill="#aaa" stroke="#666" stroke-width="0.5"/>
<circle cx="669.5" cy="794.2" r="2" fill="#aaa" stroke="#666" stroke-width="0.5"/>
<circle cx="669.5" cy="806" r="2" fill="#aaa" stroke="#666" stroke-width="0.5"/>
<circle cx="669.5" cy="817.6" r="2" fill="#aaa" stroke="#666" stroke-width="0.5"/>
<circle cx="669.5" cy="829.6" r="2" fill="#aaa" stroke="#666" stroke-width="0.5"/>
<circle cx="669.5" cy="841.4" r="2" fill="#aaa" stroke="#666" stroke-width="0.5"/>
<circle cx="669.5" cy="853" r="2" fill="#aaa" stroke="#666" stroke-width="0.5"/>
<circle cx="651.2" cy="574.4" r="0.9" fill="#111" stroke="none" stroke-width="0.8"/>
<circle cx="613.7" cy="586" r="0.9" fill="#111" stroke="none" stroke-width="0.8"/>
<circle cx="657" cy="598" r="0.9" fill="#111" stroke="none" stroke-width="0.8"/>
<circle cx="645" cy="609.6" r="0.9" fill="#111" stroke="none" stroke-width="0.8"/>
<circle cx="630" cy="621.4" r="0.9" fill="#111" stroke="none" stroke-width="0.8"/>
<circle cx="649" cy="633.2" r="0.9" fill="#111" stroke="none" stroke-width="0.8"/>
<circle cx="631.5" cy="644.8" r="0.9" fill="#111" stroke="none" stroke-width="0.8"/>
<circle cx="837" cy="656.6" r="0.9" fill="#111" stroke="none" stroke-width="0.8"/>
<circle cx="657.6" cy="668.4" r="0.9" fill="#111" stroke="none" stroke-width="0.8"/>
<circle cx="623" cy="680.4" r="0.9" fill="#111" stroke="none" stroke-width="0.8"/>
<circle cx="582" cy="692" r="0.9" fill="#111" stroke="none" stroke-width="0.8"/>
<circle cx="664" cy="704" r="0.9" fill="#111" stroke="none" stroke-width="0.8"/>
<circle cx="75" cy="723.4" r="0.9" fill="#111" stroke="none" stroke-width="0.8"/>
<circle cx="235" cy="735" r="0.9" fill="#111" stroke="none" stroke-width="0.8"/>
<circle cx="375" cy="747" r="0.9" fill="#111" stroke="none" stroke-width="0.8"/>
<circle cx="99" cy="759" r="0.9" fill="#111" stroke="none" stroke-width="0.8"/>
<circle cx="240" cy="770.6" r="0.9" fill="#111" stroke="none" stroke-width="0.8"/>
<circle cx="352" cy="782.4" r="0.9" fill="#111" stroke="none" stroke-width="0.8"/>
<circle cx="398" cy="794.2" r="0.9" fill="#111" stroke="none" stroke-width="0.8"/>
<circle cx="291" cy="806" r="0.9" fill="#111" stroke="none" stroke-width="0.8"/>
<circle cx="367" cy="817.6" r="0.9" fill="#111" stroke="none" stroke-width="0.8"/>
<circle cx="415.6" cy="829.6" r="0.9" fill="#111" stroke="none" stroke-width="0.8"/>
<circle cx="435.6" cy="841.4" r="0.9" fill="#111" stroke="none" stroke-width="0.8"/>
<circle cx="390" cy="853" r="0.9" fill="#111" stroke="none" stroke-width="0.8"/>
<circle cx="1110" cy="723.4" r="0.9" fill="#111" stroke="none" stroke-width="0.8"/>
<circle cx="874" cy="735" r="0.9" fill="#111" stroke="none" stroke-width="0.8"/>
<circle cx="1008" cy="747" r="0.9" fill="#111" stroke="none" stroke-width="0.8"/>
<circle cx="717.4" cy="759" r="0.9" fill="#111" stroke="none" stroke-width="0.8"/>
<circle cx="842.7" cy="770.6" r="0.9" fill="#111" stroke="none" stroke-width="0.8"/>
<circle cx="881" cy="782.4" r="0.9" fill="#111" stroke="none" stroke-width="0.8"/>
<circle cx="885.5" cy="794.2" r="0.9" fill="#111" stroke="none" stroke-width="0.8"/>
<circle cx="758.8" cy="806" r="0.9" fill="#111" stroke="none" stroke-width="0.8"/>
<circle cx="823.6" cy="817.6" r="0.9" fill="#111" stroke="none" stroke-width="0.8"/>
<circle cx="851.7" cy="829.6" r="0.9" fill="#111" stroke="none" stroke-width="0.8"/>
<circle cx="825.4" cy="841.4" r="0.9" fill="#111" stroke="none" stroke-width="0.8"/>
<circle cx="748" cy="853" r="0.9" fill="#111" stroke="none" stroke-width="0.8"/>
<circle cx="310.2" cy="574.4" r="0.9" fill="#111" stroke="none" stroke-width="0.8"/>
<circle cx="161.8" cy="586" r="0.9" fill="#111" stroke="none" stroke-width="0.8"/>
<circle cx="166.8" cy="598" r="0.9" fill="#111" stroke="none" stroke-width="0.8"/>
<circle cx="153.4" cy="609.6" r="0.9" fill="#111" stroke="none" stroke-width="0.8"/>
<circle cx="-9.2" cy="621.4" r="0.9" fill="#111" stroke="none" stroke-width="0.8"/>
<circle cx="17.8" cy="633.2" r="0.9" fill="#111" stroke="none" stroke-width="0.8"/>
<circle cx="-50.2" cy="644.8" r="0.9" fill="#111" stroke="none" stroke-width="0.8"/>
<circle cx="119.8" cy="656.6" r="0.9" fill="#111" stroke="none" stroke-width="0.8"/>
<circle cx="-71.2" cy="668.4" r="0.9" fill="#111" stroke="none" stroke-width="0.8"/>
<circle cx="-467.2" cy="680.4" r="0.9" fill="#111" stroke="none" stroke-width="0.8"/>
<circle cx="-527.2" cy="692" r="0.9" fill="#111" stroke="none" stroke-width="0.8"/>
<circle cx="-300.2" cy="704" r="0.9" fill="#111" stroke="none" stroke-width="0.8"/>
<line x1="377.4" y1="570.7" x2="377.4" y2="578.1" stroke="#ea4d4d" stroke-width="0.85" />
<text x="378.6" y="572.6" font-size="2.4" text-anchor="start" fill="#777" font-family='"Liberation Mono", monospace' >B</text>
<line x1="229" y1="582.3" x2="229" y2="589.7" stroke="#ea4d4d" stroke-width="0.85" />
<text x="230.2" y="584.2" font-size="2.4" text-anchor="start" fill="#777" font-family='"Liberation Mono", monospace' >B</text>
<line x1="234" y1="594.3" x2="234" y2="601.7" stroke="#ea4d4d" stroke-width="0.85" />
<text x="235.2" y="596.2" font-size="2.4" text-anchor="start" fill="#777" font-family='"Liberation Mono", monospace' >B</text>
<line x1="220.6" y1="605.9" x2="220.6" y2="613.3" stroke="#ea4d4d" stroke-width="0.85" />
<text x="221.8" y="607.8" font-size="2.4" text-anchor="start" fill="#777" font-family='"Liberation Mono", monospace' >B</text>
<line x1="58" y1="617.7" x2="58" y2="625.1" stroke="#ea4d4d" stroke-width="0.85" />
<text x="59.2" y="619.6" font-size="2.4" text-anchor="start" fill="#777" font-family='"Liberation Mono", monospace' >B</text>
<line x1="85" y1="629.5" x2="85" y2="636.9" stroke="#ea4d4d" stroke-width="0.85" />
<text x="86.2" y="631.4" font-size="2.4" text-anchor="start" fill="#777" font-family='"Liberation Mono", monospace' >B</text>
<line x1="17" y1="641.1" x2="17" y2="648.5" stroke="#ea4d4d" stroke-width="0.85" />
<text x="18.2" y="643" font-size="2.4" text-anchor="start" fill="#777" font-family='"Liberation Mono", monospace' >B</text>
<line x1="187" y1="652.9" x2="187" y2="660.3" stroke="#ea4d4d" stroke-width="0.85" />
<text x="188.2" y="654.8" font-size="2.4" text-anchor="start" fill="#777" font-family='"Liberation Mono", monospace' >B</text>
<line x1="-4" y1="664.7" x2="-4" y2="672.1" stroke="#ea4d4d" stroke-width="0.85" />
<text x="-2.8" y="666.6" font-size="2.4" text-anchor="start" fill="#777" font-family='"Liberation Mono", monospace' >B</text>
<text x="-398.8" y="678.6" font-size="2.4" text-anchor="start" fill="#777" font-family='"Liberation Mono", monospace' >B</text>
<text x="-458.8" y="690.2" font-size="2.4" text-anchor="start" fill="#777" font-family='"Liberation Mono", monospace' >B</text>
<text x="-231.8" y="702.2" font-size="2.4" text-anchor="start" fill="#777" font-family='"Liberation Mono", monospace' >B</text>
<line x1="176" y1="719.7" x2="176" y2="727.1" stroke="#ea4d4d" stroke-width="0.85" />
<text x="177.2" y="721.6" font-size="2.4" text-anchor="start" fill="#777" font-family='"Liberation Mono", monospace' >B</text>
<line x1="282" y1="731.3" x2="282" y2="738.7" stroke="#ea4d4d" stroke-width="0.85" />
<text x="283.2" y="733.2" font-size="2.4" text-anchor="start" fill="#777" font-family='"Liberation Mono", monospace' >B</text>
<line x1="395" y1="743.3" x2="395" y2="750.7" stroke="#ea4d4d" stroke-width="0.85" />
<text x="396.2" y="745.2" font-size="2.4" text-anchor="start" fill="#777" font-family='"Liberation Mono", monospace' >B</text>
<line x1="190" y1="755.3" x2="190" y2="762.7" stroke="#ea4d4d" stroke-width="0.85" />
<text x="191.2" y="757.2" font-size="2.4" text-anchor="start" fill="#777" font-family='"Liberation Mono", monospace' >B</text>
<line x1="300" y1="766.9" x2="300" y2="774.3" stroke="#ea4d4d" stroke-width="0.85" />
<text x="301.2" y="768.8" font-size="2.4" text-anchor="start" fill="#777" font-family='"Liberation Mono", monospace' >B</text>
<line x1="392" y1="778.7" x2="392" y2="786.1" stroke="#ea4d4d" stroke-width="0.85" />
<text x="393.2" y="780.6" font-size="2.4" text-anchor="start" fill="#777" font-family='"Liberation Mono", monospace' >B</text>
<line x1="407.4" y1="790.5" x2="407.4" y2="797.9" stroke="#ea4d4d" stroke-width="0.85" />
<text x="408.6" y="792.4" font-size="2.4" text-anchor="start" fill="#777" font-family='"Liberation Mono", monospace' >B</text>
<line x1="329.6" y1="802.3" x2="329.6" y2="809.7" stroke="#ea4d4d" stroke-width="0.85" />
<text x="330.8" y="804.2" font-size="2.4" text-anchor="start" fill="#777" font-family='"Liberation Mono", monospace' >B</text>
<line x1="380" y1="813.9" x2="380" y2="821.3" stroke="#ea4d4d" stroke-width="0.85" />
<text x="381.2" y="815.8" font-size="2.4" text-anchor="start" fill="#777" font-family='"Liberation Mono", monospace' >B</text>
<line x1="421" y1="825.9" x2="421" y2="833.3" stroke="#ea4d4d" stroke-width="0.85" />
<text x="422.2" y="827.8" font-size="2.4" text-anchor="start" fill="#777" font-family='"Liberation Mono", monospace' >B</text>
<line x1="439" y1="837.7" x2="439" y2="845.1" stroke="#ea4d4d" stroke-width="0.85" />
<text x="440.2" y="839.6" font-size="2.4" text-anchor="start" fill="#777" font-family='"Liberation Mono", monospace' >B</text>
<line x1="409" y1="849.3" x2="409" y2="856.7" stroke="#ea4d4d" stroke-width="0.85" />
<text x="410.2" y="851.2" font-size="2.4" text-anchor="start" fill="#777" font-family='"Liberation Mono", monospace' >B</text>
<line x1="427.6" y1="570.7" x2="427.6" y2="578.1" stroke="#ea4d4d" stroke-width="0.85" />
<text x="428.8" y="572.6" font-size="2.4" text-anchor="start" fill="#777" font-family='"Liberation Mono", monospace' >C</text>
<line x1="279.2" y1="582.3" x2="279.2" y2="589.7" stroke="#ea4d4d" stroke-width="0.85" />
<text x="280.4" y="584.2" font-size="2.4" text-anchor="start" fill="#777" font-family='"Liberation Mono", monospace' >C</text>
<line x1="284.2" y1="594.3" x2="284.2" y2="601.7" stroke="#ea4d4d" stroke-width="0.85" />
<text x="285.4" y="596.2" font-size="2.4" text-anchor="start" fill="#777" font-family='"Liberation Mono", monospace' >C</text>
<line x1="270.8" y1="605.9" x2="270.8" y2="613.3" stroke="#ea4d4d" stroke-width="0.85" />
<text x="272" y="607.8" font-size="2.4" text-anchor="start" fill="#777" font-family='"Liberation Mono", monospace' >C</text>
<line x1="108.2" y1="617.7" x2="108.2" y2="625.1" stroke="#ea4d4d" stroke-width="0.85" />
<text x="109.4" y="619.6" font-size="2.4" text-anchor="start" fill="#777" font-family='"Liberation Mono", monospace' >C</text>
<line x1="135.2" y1="629.5" x2="135.2" y2="636.9" stroke="#ea4d4d" stroke-width="0.85" />
<text x="136.4" y="631.4" font-size="2.4" text-anchor="start" fill="#777" font-family='"Liberation Mono", monospace' >C</text>
<line x1="67.2" y1="641.1" x2="67.2" y2="648.5" stroke="#ea4d4d" stroke-width="0.85" />
<text x="68.4" y="643" font-size="2.4" text-anchor="start" fill="#777" font-family='"Liberation Mono", monospace' >C</text>
<line x1="237.2" y1="652.9" x2="237.2" y2="660.3" stroke="#ea4d4d" stroke-width="0.85" />
<text x="238.4" y="654.8" font-size="2.4" text-anchor="start" fill="#777" font-family='"Liberation Mono", monospace' >C</text>
<line x1="46.2" y1="664.7" x2="46.2" y2="672.1" stroke="#ea4d4d" stroke-width="0.85" />
<text x="47.4" y="666.6" font-size="2.4" text-anchor="start" fill="#777" font-family='"Liberation Mono", monospace' >C</text>
<text x="-348.6" y="678.6" font-size="2.4" text-anchor="start" fill="#777" font-family='"Liberation Mono", monospace' >C</text>
<text x="-408.6" y="690.2" font-size="2.4" text-anchor="start" fill="#777" font-family='"Liberation Mono", monospace' >C</text>
<text x="-181.6" y="702.2" font-size="2.4" text-anchor="start" fill="#777" font-family='"Liberation Mono", monospace' >C</text>
<line x1="226.2" y1="719.7" x2="226.2" y2="727.1" stroke="#ea4d4d" stroke-width="0.85" />
<text x="227.4" y="721.6" font-size="2.4" text-anchor="start" fill="#777" font-family='"Liberation Mono", monospace' >C</text>
<line x1="332.2" y1="731.3" x2="332.2" y2="738.7" stroke="#ea4d4d" stroke-width="0.85" />
<text x="333.4" y="733.2" font-size="2.4" text-anchor="start" fill="#777" font-family='"Liberation Mono", monospace' >C</text>
<line x1="445.2" y1="743.3" x2="445.2" y2="750.7" stroke="#ea4d4d" stroke-width="0.85" />
<text x="446.4" y="745.2" font-size="2.4" text-anchor="start" fill="#777" font-family='"Liberation Mono", monospace' >C</text>
<line x1="240.2" y1="755.3" x2="240.2" y2="762.7" stroke="#ea4d4d" stroke-width="0.85" />
<text x="241.4" y="757.2" font-size="2.4" text-anchor="start" fill="#777" font-family='"Liberation Mono", monospace' >C</text>
<line x1="350.2" y1="766.9" x2="350.2" y2="774.3" stroke="#ea4d4d" stroke-width="0.85" />
<text x="351.4" y="768.8" font-size="2.4" text-anchor="start" fill="#777" font-family='"Liberation Mono", monospace' >C</text>
<line x1="442.2" y1="778.7" x2="442.2" y2="786.1" stroke="#ea4d4d" stroke-width="0.85" />
<text x="443.4" y="780.6" font-size="2.4" text-anchor="start" fill="#777" font-family='"Liberation Mono", monospace' >C</text>
<line x1="457.6" y1="790.5" x2="457.6" y2="797.9" stroke="#ea4d4d" stroke-width="0.85" />
<text x="458.8" y="792.4" font-size="2.4" text-anchor="start" fill="#777" font-family='"Liberation Mono", monospace' >C</text>
<line x1="379.8" y1="802.3" x2="379.8" y2="809.7" stroke="#ea4d4d" stroke-width="0.85" />
<text x="381" y="804.2" font-size="2.4" text-anchor="start" fill="#777" font-family='"Liberation Mono", monospace' >C</text>
<line x1="430.2" y1="813.9" x2="430.2" y2="821.3" stroke="#ea4d4d" stroke-width="0.85" />
<text x="431.4" y="815.8" font-size="2.4" text-anchor="start" fill="#777" font-family='"Liberation Mono", monospace' >C</text>
<line x1="471.2" y1="825.9" x2="471.2" y2="833.3" stroke="#ea4d4d" stroke-width="0.85" />
<text x="472.4" y="827.8" font-size="2.4" text-anchor="start" fill="#777" font-family='"Liberation Mono", monospace' >C</text>
<line x1="489.2" y1="837.7" x2="489.2" y2="845.1" stroke="#ea4d4d" stroke-width="0.85" />
<text x="490.4" y="839.6" font-size="2.4" text-anchor="start" fill="#777" font-family='"Liberation Mono", monospace' >C</text>
<line x1="459.2" y1="849.3" x2="459.2" y2="856.7" stroke="#ea4d4d" stroke-width="0.85" />
<text x="460.4" y="851.2" font-size="2.4" text-anchor="start" fill="#777" font-family='"Liberation Mono", monospace' >C</text>
<line x1="478.4" y1="570.7" x2="478.4" y2="578.1" stroke="#ea4d4d" stroke-width="0.85" />
<text x="479.6" y="572.6" font-size="2.4" text-anchor="start" fill="#777" font-family='"Liberation Mono", monospace' >D</text>
<line x1="353" y1="582.3" x2="353" y2="589.7" stroke="#ea4d4d" stroke-width="0.85" />
<text x="354.2" y="584.2" font-size="2.4" text-anchor="start" fill="#777" font-family='"Liberation Mono", monospace' >D</text>
<line x1="345" y1="594.3" x2="345" y2="601.7" stroke="#ea4d4d" stroke-width="0.85" />
<text x="346.2" y="596.2" font-size="2.4" text-anchor="start" fill="#777" font-family='"Liberation Mono", monospace' >D</text>
<line x1="329" y1="605.9" x2="329" y2="613.3" stroke="#ea4d4d" stroke-width="0.85" />
<text x="330.2" y="607.8" font-size="2.4" text-anchor="start" fill="#777" font-family='"Liberation Mono", monospace' >D</text>
<line x1="228" y1="617.7" x2="228" y2="625.1" stroke="#ea4d4d" stroke-width="0.85" />
<text x="229.2" y="619.6" font-size="2.4" text-anchor="start" fill="#777" font-family='"Liberation Mono", monospace' >D</text>
<line x1="225" y1="629.5" x2="225" y2="636.9" stroke="#ea4d4d" stroke-width="0.85" />
<text x="226.2" y="631.4" font-size="2.4" text-anchor="start" fill="#777" font-family='"Liberation Mono", monospace' >D</text>
<line x1="242" y1="641.1" x2="242" y2="648.5" stroke="#ea4d4d" stroke-width="0.85" />
<text x="243.2" y="643" font-size="2.4" text-anchor="start" fill="#777" font-family='"Liberation Mono", monospace' >D</text>
<line x1="272" y1="652.9" x2="272" y2="660.3" stroke="#ea4d4d" stroke-width="0.85" />
<text x="273.2" y="654.8" font-size="2.4" text-anchor="start" fill="#777" font-family='"Liberation Mono", monospace' >D</text>
<line x1="95.6" y1="664.7" x2="95.6" y2="672.1" stroke="#ea4d4d" stroke-width="0.85" />
<text x="96.8" y="666.6" font-size="2.4" text-anchor="start" fill="#777" font-family='"Liberation Mono", monospace' >D</text>
<line x1="47.4" y1="676.7" x2="47.4" y2="684.1" stroke="#ea4d4d" stroke-width="0.85" />
<text x="48.6" y="678.6" font-size="2.4" text-anchor="start" fill="#777" font-family='"Liberation Mono", monospace' >D</text>
<text x="-93.8" y="690.2" font-size="2.4" text-anchor="start" fill="#777" font-family='"Liberation Mono", monospace' >D</text>
<text x="-139.8" y="702.2" font-size="2.4" text-anchor="start" fill="#777" font-family='"Liberation Mono", monospace' >D</text>
<line x1="301" y1="719.7" x2="301" y2="727.1" stroke="#ea4d4d" stroke-width="0.85" />
<text x="302.2" y="721.6" font-size="2.4" text-anchor="start" fill="#777" font-family='"Liberation Mono", monospace' >D</text>
<line x1="397" y1="731.3" x2="397" y2="738.7" stroke="#ea4d4d" stroke-width="0.85" />
<text x="398.2" y="733.2" font-size="2.4" text-anchor="start" fill="#777" font-family='"Liberation Mono", monospace' >D</text>
<line x1="514" y1="743.3" x2="514" y2="750.7" stroke="#ea4d4d" stroke-width="0.85" />
<text x="515.2" y="745.2" font-size="2.4" text-anchor="start" fill="#777" font-family='"Liberation Mono", monospace' >D</text>
<line x1="319.4" y1="755.3" x2="319.4" y2="762.7" stroke="#ea4d4d" stroke-width="0.85" />
<text x="320.6" y="757.2" font-size="2.4" text-anchor="start" fill="#777" font-family='"Liberation Mono", monospace' >D</text>
<line x1="419" y1="766.9" x2="419" y2="774.3" stroke="#ea4d4d" stroke-width="0.85" />
<text x="420.2" y="768.8" font-size="2.4" text-anchor="start" fill="#777" font-family='"Liberation Mono", monospace' >D</text>
<line x1="477" y1="778.7" x2="477" y2="786.1" stroke="#ea4d4d" stroke-width="0.85" />
<text x="478.2" y="780.6" font-size="2.4" text-anchor="start" fill="#777" font-family='"Liberation Mono", monospace' >D</text>
<line x1="505.6" y1="790.5" x2="505.6" y2="797.9" stroke="#ea4d4d" stroke-width="0.85" />
<text x="506.8" y="792.4" font-size="2.4" text-anchor="start" fill="#777" font-family='"Liberation Mono", monospace' >D</text>
<line x1="443" y1="802.3" x2="443" y2="809.7" stroke="#ea4d4d" stroke-width="0.85" />
<text x="444.2" y="804.2" font-size="2.4" text-anchor="start" fill="#777" font-family='"Liberation Mono", monospace' >D</text>
<line x1="475" y1="813.9" x2="475" y2="821.3" stroke="#ea4d4d" stroke-width="0.85" />
<text x="476.2" y="815.8" font-size="2.4" text-anchor="start" fill="#777" font-family='"Liberation Mono", monospace' >D</text>
<line x1="493" y1="825.9" x2="493" y2="833.3" stroke="#ea4d4d" stroke-width="0.85" />
<text x="494.2" y="827.8" font-size="2.4" text-anchor="start" fill="#777" font-family='"Liberation Mono", monospace' >D</text>
<line x1="519" y1="837.7" x2="519" y2="845.1" stroke="#ea4d4d" stroke-width="0.85" />
<text x="520.2" y="839.6" font-size="2.4" text-anchor="start" fill="#777" font-family='"Liberation Mono", monospace' >D</text>
<line x1="488" y1="849.3" x2="488" y2="856.7" stroke="#ea4d4d" stroke-width="0.85" />
<text x="489.2" y="851.2" font-size="2.4" text-anchor="start" fill="#777" font-family='"Liberation Mono", monospace' >D</text>
<line x1="514.4" y1="570.7" x2="514.4" y2="578.1" stroke="#ea4d4d" stroke-width="0.85" />
<text x="515.6" y="572.6" font-size="2.4" text-anchor="start" fill="#777" font-family='"Liberation Mono", monospace' >E</text>
<line x1="498" y1="582.3" x2="498" y2="589.7" stroke="#ea4d4d" stroke-width="0.85" />
<text x="499.2" y="584.2" font-size="2.4" text-anchor="start" fill="#777" font-family='"Liberation Mono", monospace' >E</text>
<line x1="495.6" y1="594.3" x2="495.6" y2="601.7" stroke="#ea4d4d" stroke-width="0.85" />
<text x="496.8" y="596.2" font-size="2.4" text-anchor="start" fill="#777" font-family='"Liberation Mono", monospace' >E</text>
<line x1="498" y1="605.9" x2="498" y2="613.3" stroke="#ea4d4d" stroke-width="0.85" />
<text x="499.2" y="607.8" font-size="2.4" text-anchor="start" fill="#777" font-family='"Liberation Mono", monospace' >E</text>
<line x1="480" y1="617.7" x2="480" y2="625.1" stroke="#ea4d4d" stroke-width="0.85" />
<text x="481.2" y="619.6" font-size="2.4" text-anchor="start" fill="#777" font-family='"Liberation Mono", monospace' >E</text>
<line x1="498" y1="629.5" x2="498" y2="636.9" stroke="#ea4d4d" stroke-width="0.85" />
<text x="499.2" y="631.4" font-size="2.4" text-anchor="start" fill="#777" font-family='"Liberation Mono", monospace' >E</text>
<line x1="468" y1="641.1" x2="468" y2="648.5" stroke="#ea4d4d" stroke-width="0.85" />
<text x="469.2" y="643" font-size="2.4" text-anchor="start" fill="#777" font-family='"Liberation Mono", monospace' >E</text>
<line x1="452" y1="652.9" x2="452" y2="660.3" stroke="#ea4d4d" stroke-width="0.85" />
<text x="453.2" y="654.8" font-size="2.4" text-anchor="start" fill="#777" font-family='"Liberation Mono", monospace' >E</text>
<line x1="471" y1="664.7" x2="471" y2="672.1" stroke="#ea4d4d" stroke-width="0.85" />
<text x="472.2" y="666.6" font-size="2.4" text-anchor="start" fill="#777" font-family='"Liberation Mono", monospace' >E</text>
<line x1="429" y1="676.7" x2="429" y2="684.1" stroke="#ea4d4d" stroke-width="0.85" />
<text x="430.2" y="678.6" font-size="2.4" text-anchor="start" fill="#777" font-family='"Liberation Mono", monospace' >E</text>
<line x1="460" y1="688.3" x2="460" y2="695.7" stroke="#ea4d4d" stroke-width="0.85" />
<text x="461.2" y="690.2" font-size="2.4" text-anchor="start" fill="#777" font-family='"Liberation Mono", monospace' >E</text>
<line x1="489" y1="700.3" x2="489" y2="707.7" stroke="#ea4d4d" stroke-width="0.85" />
<text x="490.2" y="702.2" font-size="2.4" text-anchor="start" fill="#777" font-family='"Liberation Mono", monospace' >E</text>
<line x1="902" y1="719.7" x2="902" y2="727.1" stroke="#ea4d4d" stroke-width="0.85" />
<text x="903.2" y="721.6" font-size="2.4" text-anchor="start" fill="#777" font-family='"Liberation Mono", monospace' >E</text>
<line x1="643.6" y1="731.3" x2="643.6" y2="738.7" stroke="#ea4d4d" stroke-width="0.85" />
<text x="644.8" y="733.2" font-size="2.4" text-anchor="start" fill="#777" font-family='"Liberation Mono", monospace' >E</text>
<line x1="774" y1="743.3" x2="774" y2="750.7" stroke="#ea4d4d" stroke-width="0.85" />
<text x="775.2" y="745.2" font-size="2.4" text-anchor="start" fill="#777" font-family='"Liberation Mono", monospace' >E</text>
<line x1="517" y1="755.3" x2="517" y2="762.7" stroke="#ea4d4d" stroke-width="0.85" />
<text x="518.2" y="757.2" font-size="2.4" text-anchor="start" fill="#777" font-family='"Liberation Mono", monospace' >E</text>
<line x1="626" y1="766.9" x2="626" y2="774.3" stroke="#ea4d4d" stroke-width="0.85" />
<text x="627.2" y="768.8" font-size="2.4" text-anchor="start" fill="#777" font-family='"Liberation Mono", monospace' >E</text>
<line x1="683" y1="778.7" x2="683" y2="786.1" stroke="#ea4d4d" stroke-width="0.85" />
<text x="684.2" y="780.6" font-size="2.4" text-anchor="start" fill="#777" font-family='"Liberation Mono", monospace' >E</text>
<line x1="676" y1="790.5" x2="676" y2="797.9" stroke="#ea4d4d" stroke-width="0.85" />
<text x="677.2" y="792.4" font-size="2.4" text-anchor="start" fill="#777" font-family='"Liberation Mono", monospace' >E</text>
<line x1="548.8" y1="802.3" x2="548.8" y2="809.7" stroke="#ea4d4d" stroke-width="0.85" />
<text x="550" y="804.2" font-size="2.4" text-anchor="start" fill="#777" font-family='"Liberation Mono", monospace' >E</text>
<line x1="613.3" y1="813.9" x2="613.3" y2="821.3" stroke="#ea4d4d" stroke-width="0.85" />
<text x="614.5" y="815.8" font-size="2.4" text-anchor="start" fill="#777" font-family='"Liberation Mono", monospace' >E</text>
<line x1="603.5" y1="825.9" x2="603.5" y2="833.3" stroke="#ea4d4d" stroke-width="0.85" />
<text x="604.7" y="827.8" font-size="2.4" text-anchor="start" fill="#777" font-family='"Liberation Mono", monospace' >E</text>
<line x1="628.5" y1="837.7" x2="628.5" y2="845.1" stroke="#ea4d4d" stroke-width="0.85" />
<text x="629.7" y="839.6" font-size="2.4" text-anchor="start" fill="#777" font-family='"Liberation Mono", monospace' >E</text>
<line x1="573.6" y1="849.3" x2="573.6" y2="856.7" stroke="#ea4d4d" stroke-width="0.85" />
<text x="574.8" y="851.2" font-size="2.4" text-anchor="start" fill="#777" font-family='"Liberation Mono", monospace' >E</text>
<line x1="526" y1="570.7" x2="526" y2="578.1" stroke="#ea4d4d" stroke-width="0.85" />
<text x="527.2" y="572.6" font-size="2.4" text-anchor="start" fill="#777" font-family='"Liberation Mono", monospace' >F</text>
<line x1="509" y1="582.3" x2="509" y2="589.7" stroke="#ea4d4d" stroke-width="0.85" />
<text x="510.2" y="584.2" font-size="2.4" text-anchor="start" fill="#777" font-family='"Liberation Mono", monospace' >F</text>
<line x1="508" y1="594.3" x2="508" y2="601.7" stroke="#ea4d4d" stroke-width="0.85" />
<text x="509.2" y="596.2" font-size="2.4" text-anchor="start" fill="#777" font-family='"Liberation Mono", monospace' >F</text>
<line x1="509" y1="605.9" x2="509" y2="613.3" stroke="#ea4d4d" stroke-width="0.85" />
<text x="510.2" y="607.8" font-size="2.4" text-anchor="start" fill="#777" font-family='"Liberation Mono", monospace' >F</text>
<line x1="491" y1="617.7" x2="491" y2="625.1" stroke="#ea4d4d" stroke-width="0.85" />
<text x="492.2" y="619.6" font-size="2.4" text-anchor="start" fill="#777" font-family='"Liberation Mono", monospace' >F</text>
<line x1="508" y1="629.5" x2="508" y2="636.9" stroke="#ea4d4d" stroke-width="0.85" />
<text x="509.2" y="631.4" font-size="2.4" text-anchor="start" fill="#777" font-family='"Liberation Mono", monospace' >F</text>
<line x1="480" y1="641.1" x2="480" y2="648.5" stroke="#ea4d4d" stroke-width="0.85" />
<text x="481.2" y="643" font-size="2.4" text-anchor="start" fill="#777" font-family='"Liberation Mono", monospace' >F</text>
<line x1="472" y1="652.9" x2="472" y2="660.3" stroke="#ea4d4d" stroke-width="0.85" />
<text x="473.2" y="654.8" font-size="2.4" text-anchor="start" fill="#777" font-family='"Liberation Mono", monospace' >F</text>
<line x1="481" y1="664.7" x2="481" y2="672.1" stroke="#ea4d4d" stroke-width="0.85" />
<text x="482.2" y="666.6" font-size="2.4" text-anchor="start" fill="#777" font-family='"Liberation Mono", monospace' >F</text>
<line x1="440" y1="676.7" x2="440" y2="684.1" stroke="#ea4d4d" stroke-width="0.85" />
<text x="441.2" y="678.6" font-size="2.4" text-anchor="start" fill="#777" font-family='"Liberation Mono", monospace' >F</text>
<line x1="472" y1="688.3" x2="472" y2="695.7" stroke="#ea4d4d" stroke-width="0.85" />
<text x="473.2" y="690.2" font-size="2.4" text-anchor="start" fill="#777" font-family='"Liberation Mono", monospace' >F</text>
<line x1="500" y1="700.3" x2="500" y2="707.7" stroke="#ea4d4d" stroke-width="0.85" />
<text x="501.2" y="702.2" font-size="2.4" text-anchor="start" fill="#777" font-family='"Liberation Mono", monospace' >F</text>
<line x1="913.6" y1="719.7" x2="913.6" y2="727.1" stroke="#ea4d4d" stroke-width="0.85" />
<text x="914.8" y="721.6" font-size="2.4" text-anchor="start" fill="#777" font-family='"Liberation Mono", monospace' >F</text>
<line x1="655.1" y1="731.3" x2="655.1" y2="738.7" stroke="#ea4d4d" stroke-width="0.85" />
<text x="656.3" y="733.2" font-size="2.4" text-anchor="start" fill="#777" font-family='"Liberation Mono", monospace' >F</text>
<line x1="785.6" y1="743.3" x2="785.6" y2="750.7" stroke="#ea4d4d" stroke-width="0.85" />
<text x="786.8" y="745.2" font-size="2.4" text-anchor="start" fill="#777" font-family='"Liberation Mono", monospace' >F</text>
<line x1="529" y1="755.3" x2="529" y2="762.7" stroke="#ea4d4d" stroke-width="0.85" />
<text x="530.2" y="757.2" font-size="2.4" text-anchor="start" fill="#777" font-family='"Liberation Mono", monospace' >F</text>
<line x1="636.6" y1="766.9" x2="636.6" y2="774.3" stroke="#ea4d4d" stroke-width="0.85" />
<text x="637.8" y="768.8" font-size="2.4" text-anchor="start" fill="#777" font-family='"Liberation Mono", monospace' >F</text>
<line x1="695.2" y1="778.7" x2="695.2" y2="786.1" stroke="#ea4d4d" stroke-width="0.85" />
<text x="696.4" y="780.6" font-size="2.4" text-anchor="start" fill="#777" font-family='"Liberation Mono", monospace' >F</text>
<line x1="687" y1="790.5" x2="687" y2="797.9" stroke="#ea4d4d" stroke-width="0.85" />
<text x="688.2" y="792.4" font-size="2.4" text-anchor="start" fill="#777" font-family='"Liberation Mono", monospace' >F</text>
<line x1="560" y1="802.3" x2="560" y2="809.7" stroke="#ea4d4d" stroke-width="0.85" />
<text x="561.2" y="804.2" font-size="2.4" text-anchor="start" fill="#777" font-family='"Liberation Mono", monospace' >F</text>
<line x1="624" y1="813.9" x2="624" y2="821.3" stroke="#ea4d4d" stroke-width="0.85" />
<text x="625.2" y="815.8" font-size="2.4" text-anchor="start" fill="#777" font-family='"Liberation Mono", monospace' >F</text>
<line x1="630.4" y1="825.9" x2="630.4" y2="833.3" stroke="#ea4d4d" stroke-width="0.85" />
<text x="631.6" y="827.8" font-size="2.4" text-anchor="start" fill="#777" font-family='"Liberation Mono", monospace' >F</text>
<line x1="639.2" y1="837.7" x2="639.2" y2="845.1" stroke="#ea4d4d" stroke-width="0.85" />
<text x="640.4" y="839.6" font-size="2.4" text-anchor="start" fill="#777" font-family='"Liberation Mono", monospace' >F</text>
<line x1="584.8" y1="849.3" x2="584.8" y2="856.7" stroke="#ea4d4d" stroke-width="0.85" />
<text x="586" y="851.2" font-size="2.4" text-anchor="start" fill="#777" font-family='"Liberation Mono", monospace' >F</text>
<line x1="554.4" y1="570.7" x2="554.4" y2="578.1" stroke="#ea4d4d" stroke-width="0.85" />
<text x="555.6" y="572.6" font-size="2.4" text-anchor="start" fill="#777" font-family='"Liberation Mono", monospace' >G</text>
<line x1="538" y1="582.3" x2="538" y2="589.7" stroke="#ea4d4d" stroke-width="0.85" />
<text x="539.2" y="584.2" font-size="2.4" text-anchor="start" fill="#777" font-family='"Liberation Mono", monospace' >G</text>
<line x1="537" y1="594.3" x2="537" y2="601.7" stroke="#ea4d4d" stroke-width="0.85" />
<text x="538.2" y="596.2" font-size="2.4" text-anchor="start" fill="#777" font-family='"Liberation Mono", monospace' >G</text>
<line x1="530" y1="605.9" x2="530" y2="613.3" stroke="#ea4d4d" stroke-width="0.85" />
<text x="531.2" y="607.8" font-size="2.4" text-anchor="start" fill="#777" font-family='"Liberation Mono", monospace' >G</text>
<line x1="515" y1="617.7" x2="515" y2="625.1" stroke="#ea4d4d" stroke-width="0.85" />
<text x="516.2" y="619.6" font-size="2.4" text-anchor="start" fill="#777" font-family='"Liberation Mono", monospace' >G</text>
<line x1="537" y1="629.5" x2="537" y2="636.9" stroke="#ea4d4d" stroke-width="0.85" />
<text x="538.2" y="631.4" font-size="2.4" text-anchor="start" fill="#777" font-family='"Liberation Mono", monospace' >G</text>
<line x1="509" y1="641.1" x2="509" y2="648.5" stroke="#ea4d4d" stroke-width="0.85" />
<text x="510.2" y="643" font-size="2.4" text-anchor="start" fill="#777" font-family='"Liberation Mono", monospace' >G</text>
<line x1="493" y1="652.9" x2="493" y2="660.3" stroke="#ea4d4d" stroke-width="0.85" />
<text x="494.2" y="654.8" font-size="2.4" text-anchor="start" fill="#777" font-family='"Liberation Mono", monospace' >G</text>
<line x1="510" y1="664.7" x2="510" y2="672.1" stroke="#ea4d4d" stroke-width="0.85" />
<text x="511.2" y="666.6" font-size="2.4" text-anchor="start" fill="#777" font-family='"Liberation Mono", monospace' >G</text>
<line x1="469" y1="676.7" x2="469" y2="684.1" stroke="#ea4d4d" stroke-width="0.85" />
<text x="470.2" y="678.6" font-size="2.4" text-anchor="start" fill="#777" font-family='"Liberation Mono", monospace' >G</text>
<line x1="500" y1="688.3" x2="500" y2="695.7" stroke="#ea4d4d" stroke-width="0.85" />
<text x="501.2" y="690.2" font-size="2.4" text-anchor="start" fill="#777" font-family='"Liberation Mono", monospace' >G</text>
<line x1="529" y1="700.3" x2="529" y2="707.7" stroke="#ea4d4d" stroke-width="0.85" />
<text x="530.2" y="702.2" font-size="2.4" text-anchor="start" fill="#777" font-family='"Liberation Mono", monospace' >G</text>
<line x1="944" y1="719.7" x2="944" y2="727.1" stroke="#ea4d4d" stroke-width="0.85" />
<text x="945.2" y="721.6" font-size="2.4" text-anchor="start" fill="#777" font-family='"Liberation Mono", monospace' >G</text>
<line x1="685.5" y1="731.3" x2="685.5" y2="738.7" stroke="#ea4d4d" stroke-width="0.85" />
<text x="686.7" y="733.2" font-size="2.4" text-anchor="start" fill="#777" font-family='"Liberation Mono", monospace' >G</text>
<line x1="816" y1="743.3" x2="816" y2="750.7" stroke="#ea4d4d" stroke-width="0.85" />
<text x="817.2" y="745.2" font-size="2.4" text-anchor="start" fill="#777" font-family='"Liberation Mono", monospace' >G</text>
<line x1="559.4" y1="755.3" x2="559.4" y2="762.7" stroke="#ea4d4d" stroke-width="0.85" />
<text x="560.6" y="757.2" font-size="2.4" text-anchor="start" fill="#777" font-family='"Liberation Mono", monospace' >G</text>
<line x1="667" y1="766.9" x2="667" y2="774.3" stroke="#ea4d4d" stroke-width="0.85" />
<text x="668.2" y="768.8" font-size="2.4" text-anchor="start" fill="#777" font-family='"Liberation Mono", monospace' >G</text>
<line x1="725.6" y1="778.7" x2="725.6" y2="786.1" stroke="#ea4d4d" stroke-width="0.85" />
<text x="726.8" y="780.6" font-size="2.4" text-anchor="start" fill="#777" font-family='"Liberation Mono", monospace' >G</text>
<line x1="717.4" y1="790.5" x2="717.4" y2="797.9" stroke="#ea4d4d" stroke-width="0.85" />
<text x="718.6" y="792.4" font-size="2.4" text-anchor="start" fill="#777" font-family='"Liberation Mono", monospace' >G</text>
<line x1="590.4" y1="802.3" x2="590.4" y2="809.7" stroke="#ea4d4d" stroke-width="0.85" />
<text x="591.6" y="804.2" font-size="2.4" text-anchor="start" fill="#777" font-family='"Liberation Mono", monospace' >G</text>
<line x1="654.4" y1="813.9" x2="654.4" y2="821.3" stroke="#ea4d4d" stroke-width="0.85" />
<text x="655.6" y="815.8" font-size="2.4" text-anchor="start" fill="#777" font-family='"Liberation Mono", monospace' >G</text>
<line x1="660.8" y1="825.9" x2="660.8" y2="833.3" stroke="#ea4d4d" stroke-width="0.85" />
<text x="662" y="827.8" font-size="2.4" text-anchor="start" fill="#777" font-family='"Liberation Mono", monospace' >G</text>
<line x1="669.6" y1="837.7" x2="669.6" y2="845.1" stroke="#ea4d4d" stroke-width="0.85" />
<text x="670.8" y="839.6" font-size="2.4" text-anchor="start" fill="#777" font-family='"Liberation Mono", monospace' >G</text>
<line x1="615.2" y1="849.3" x2="615.2" y2="856.7" stroke="#ea4d4d" stroke-width="0.85" />
<text x="616.4" y="851.2" font-size="2.4" text-anchor="start" fill="#777" font-family='"Liberation Mono", monospace' >G</text>
<line x1="571" y1="570.7" x2="571" y2="578.1" stroke="#ea4d4d" stroke-width="0.85" />
<text x="572.2" y="572.6" font-size="2.4" text-anchor="start" fill="#777" font-family='"Liberation Mono", monospace' >H</text>
<line x1="554.6" y1="582.3" x2="554.6" y2="589.7" stroke="#ea4d4d" stroke-width="0.85" />
<text x="555.8" y="584.2" font-size="2.4" text-anchor="start" fill="#777" font-family='"Liberation Mono", monospace' >H</text>
<line x1="553.6" y1="594.3" x2="553.6" y2="601.7" stroke="#ea4d4d" stroke-width="0.85" />
<text x="554.8" y="596.2" font-size="2.4" text-anchor="start" fill="#777" font-family='"Liberation Mono", monospace' >H</text>
<line x1="546.6" y1="605.9" x2="546.6" y2="613.3" stroke="#ea4d4d" stroke-width="0.85" />
<text x="547.8" y="607.8" font-size="2.4" text-anchor="start" fill="#777" font-family='"Liberation Mono", monospace' >H</text>
<line x1="531.6" y1="617.7" x2="531.6" y2="625.1" stroke="#ea4d4d" stroke-width="0.85" />
<text x="532.8" y="619.6" font-size="2.4" text-anchor="start" fill="#777" font-family='"Liberation Mono", monospace' >H</text>
<line x1="553.6" y1="629.5" x2="553.6" y2="636.9" stroke="#ea4d4d" stroke-width="0.85" />
<text x="554.8" y="631.4" font-size="2.4" text-anchor="start" fill="#777" font-family='"Liberation Mono", monospace' >H</text>
<line x1="525.6" y1="641.1" x2="525.6" y2="648.5" stroke="#ea4d4d" stroke-width="0.85" />
<text x="526.8" y="643" font-size="2.4" text-anchor="start" fill="#777" font-family='"Liberation Mono", monospace' >H</text>
<line x1="509.6" y1="652.9" x2="509.6" y2="660.3" stroke="#ea4d4d" stroke-width="0.85" />
<text x="510.8" y="654.8" font-size="2.4" text-anchor="start" fill="#777" font-family='"Liberation Mono", monospace' >H</text>
<line x1="526.6" y1="664.7" x2="526.6" y2="672.1" stroke="#ea4d4d" stroke-width="0.85" />
<text x="527.8" y="666.6" font-size="2.4" text-anchor="start" fill="#777" font-family='"Liberation Mono", monospace' >H</text>
<line x1="485.6" y1="676.7" x2="485.6" y2="684.1" stroke="#ea4d4d" stroke-width="0.85" />
<text x="486.8" y="678.6" font-size="2.4" text-anchor="start" fill="#777" font-family='"Liberation Mono", monospace' >H</text>
<line x1="516.6" y1="688.3" x2="516.6" y2="695.7" stroke="#ea4d4d" stroke-width="0.85" />
<text x="517.8" y="690.2" font-size="2.4" text-anchor="start" fill="#777" font-family='"Liberation Mono", monospace' >H</text>
<line x1="545.6" y1="700.3" x2="545.6" y2="707.7" stroke="#ea4d4d" stroke-width="0.85" />
<text x="546.8" y="702.2" font-size="2.4" text-anchor="start" fill="#777" font-family='"Liberation Mono", monospace' >H</text>
<line x1="960.6" y1="719.7" x2="960.6" y2="727.1" stroke="#ea4d4d" stroke-width="0.85" />
<text x="961.8" y="721.6" font-size="2.4" text-anchor="start" fill="#777" font-family='"Liberation Mono", monospace' >H</text>
<line x1="702.1" y1="731.3" x2="702.1" y2="738.7" stroke="#ea4d4d" stroke-width="0.85" />
<text x="703.3" y="733.2" font-size="2.4" text-anchor="start" fill="#777" font-family='"Liberation Mono", monospace' >H</text>
<line x1="832.6" y1="743.3" x2="832.6" y2="750.7" stroke="#ea4d4d" stroke-width="0.85" />
<text x="833.8" y="745.2" font-size="2.4" text-anchor="start" fill="#777" font-family='"Liberation Mono", monospace' >H</text>
<line x1="576" y1="755.3" x2="576" y2="762.7" stroke="#ea4d4d" stroke-width="0.85" />
<text x="577.2" y="757.2" font-size="2.4" text-anchor="start" fill="#777" font-family='"Liberation Mono", monospace' >H</text>
<line x1="683.6" y1="766.9" x2="683.6" y2="774.3" stroke="#ea4d4d" stroke-width="0.85" />
<text x="684.8" y="768.8" font-size="2.4" text-anchor="start" fill="#777" font-family='"Liberation Mono", monospace' >H</text>
<line x1="742.2" y1="778.7" x2="742.2" y2="786.1" stroke="#ea4d4d" stroke-width="0.85" />
<text x="743.4" y="780.6" font-size="2.4" text-anchor="start" fill="#777" font-family='"Liberation Mono", monospace' >H</text>
<line x1="734" y1="790.5" x2="734" y2="797.9" stroke="#ea4d4d" stroke-width="0.85" />
<text x="735.2" y="792.4" font-size="2.4" text-anchor="start" fill="#777" font-family='"Liberation Mono", monospace' >H</text>
<line x1="607" y1="802.3" x2="607" y2="809.7" stroke="#ea4d4d" stroke-width="0.85" />
<text x="608.2" y="804.2" font-size="2.4" text-anchor="start" fill="#777" font-family='"Liberation Mono", monospace' >H</text>
<line x1="671" y1="813.9" x2="671" y2="821.3" stroke="#ea4d4d" stroke-width="0.85" />
<text x="672.2" y="815.8" font-size="2.4" text-anchor="start" fill="#777" font-family='"Liberation Mono", monospace' >H</text>
<line x1="677.4" y1="825.9" x2="677.4" y2="833.3" stroke="#ea4d4d" stroke-width="0.85" />
<text x="678.6" y="827.8" font-size="2.4" text-anchor="start" fill="#777" font-family='"Liberation Mono", monospace' >H</text>
<line x1="686.2" y1="837.7" x2="686.2" y2="845.1" stroke="#ea4d4d" stroke-width="0.85" />
<text x="687.4" y="839.6" font-size="2.4" text-anchor="start" fill="#777" font-family='"Liberation Mono", monospace' >H</text>
<line x1="631.8" y1="849.3" x2="631.8" y2="856.7" stroke="#ea4d4d" stroke-width="0.85" />
<text x="633" y="851.2" font-size="2.4" text-anchor="start" fill="#777" font-family='"Liberation Mono", monospace' >H</text>
<line x1="588" y1="570.7" x2="588" y2="578.1" stroke="#ea4d4d" stroke-width="0.85" />
<text x="589.2" y="572.6" font-size="2.4" text-anchor="start" fill="#777" font-family='"Liberation Mono", monospace' >I</text>
<line x1="569.6" y1="582.3" x2="569.6" y2="589.7" stroke="#ea4d4d" stroke-width="0.85" />
<text x="570.8" y="584.2" font-size="2.4" text-anchor="start" fill="#777" font-family='"Liberation Mono", monospace' >I</text>
<line x1="596" y1="594.3" x2="596" y2="601.7" stroke="#ea4d4d" stroke-width="0.85" />
<text x="597.2" y="596.2" font-size="2.4" text-anchor="start" fill="#777" font-family='"Liberation Mono", monospace' >I</text>
<line x1="588.6" y1="605.9" x2="588.6" y2="613.3" stroke="#ea4d4d" stroke-width="0.85" />
<text x="589.8" y="607.8" font-size="2.4" text-anchor="start" fill="#777" font-family='"Liberation Mono", monospace' >I</text>
<line x1="573" y1="617.7" x2="573" y2="625.1" stroke="#ea4d4d" stroke-width="0.85" />
<text x="574.2" y="619.6" font-size="2.4" text-anchor="start" fill="#777" font-family='"Liberation Mono", monospace' >I</text>
<line x1="586" y1="629.5" x2="586" y2="636.9" stroke="#ea4d4d" stroke-width="0.85" />
<text x="587.2" y="631.4" font-size="2.4" text-anchor="start" fill="#777" font-family='"Liberation Mono", monospace' >I</text>
<line x1="573.6" y1="641.1" x2="573.6" y2="648.5" stroke="#ea4d4d" stroke-width="0.85" />
<text x="574.8" y="643" font-size="2.4" text-anchor="start" fill="#777" font-family='"Liberation Mono", monospace' >I</text>
<line x1="602" y1="652.9" x2="602" y2="660.3" stroke="#ea4d4d" stroke-width="0.85" />
<text x="603.2" y="654.8" font-size="2.4" text-anchor="start" fill="#777" font-family='"Liberation Mono", monospace' >I</text>
<line x1="589" y1="664.7" x2="589" y2="672.1" stroke="#ea4d4d" stroke-width="0.85" />
<text x="590.2" y="666.6" font-size="2.4" text-anchor="start" fill="#777" font-family='"Liberation Mono", monospace' >I</text>
<line x1="564" y1="676.7" x2="564" y2="684.1" stroke="#ea4d4d" stroke-width="0.85" />
<text x="565.2" y="678.6" font-size="2.4" text-anchor="start" fill="#777" font-family='"Liberation Mono", monospace' >I</text>
<line x1="552" y1="688.3" x2="552" y2="695.7" stroke="#ea4d4d" stroke-width="0.85" />
<text x="553.2" y="690.2" font-size="2.4" text-anchor="start" fill="#777" font-family='"Liberation Mono", monospace' >I</text>
<line x1="594.4" y1="700.3" x2="594.4" y2="707.7" stroke="#ea4d4d" stroke-width="0.85" />
<text x="595.6" y="702.2" font-size="2.4" text-anchor="start" fill="#777" font-family='"Liberation Mono", monospace' >I</text>
<text x="1061.2" y="721.6" font-size="2.4" text-anchor="start" fill="#777" font-family='"Liberation Mono", monospace' >I</text>
<line x1="791" y1="731.3" x2="791" y2="738.7" stroke="#ea4d4d" stroke-width="0.85" />
<text x="792.2" y="733.2" font-size="2.4" text-anchor="start" fill="#777" font-family='"Liberation Mono", monospace' >I</text>
<line x1="905" y1="743.3" x2="905" y2="750.7" stroke="#ea4d4d" stroke-width="0.85" />
<text x="906.2" y="745.2" font-size="2.4" text-anchor="start" fill="#777" font-family='"Liberation Mono", monospace' >I</text>
<line x1="644.4" y1="755.3" x2="644.4" y2="762.7" stroke="#ea4d4d" stroke-width="0.85" />
<text x="645.6" y="757.2" font-size="2.4" text-anchor="start" fill="#777" font-family='"Liberation Mono", monospace' >I</text>
<line x1="758" y1="766.9" x2="758" y2="774.3" stroke="#ea4d4d" stroke-width="0.85" />
<text x="759.2" y="768.8" font-size="2.4" text-anchor="start" fill="#777" font-family='"Liberation Mono", monospace' >I</text>
<line x1="797" y1="778.7" x2="797" y2="786.1" stroke="#ea4d4d" stroke-width="0.85" />
<text x="798.2" y="780.6" font-size="2.4" text-anchor="start" fill="#777" font-family='"Liberation Mono", monospace' >I</text>
<line x1="805.6" y1="790.5" x2="805.6" y2="797.9" stroke="#ea4d4d" stroke-width="0.85" />
<text x="806.8" y="792.4" font-size="2.4" text-anchor="start" fill="#777" font-family='"Liberation Mono", monospace' >I</text>
<line x1="681" y1="802.3" x2="681" y2="809.7" stroke="#ea4d4d" stroke-width="0.85" />
<text x="682.2" y="804.2" font-size="2.4" text-anchor="start" fill="#777" font-family='"Liberation Mono", monospace' >I</text>
<line x1="742" y1="813.9" x2="742" y2="821.3" stroke="#ea4d4d" stroke-width="0.85" />
<text x="743.2" y="815.8" font-size="2.4" text-anchor="start" fill="#777" font-family='"Liberation Mono", monospace' >I</text>
<line x1="735" y1="825.9" x2="735" y2="833.3" stroke="#ea4d4d" stroke-width="0.85" />
<text x="736.2" y="827.8" font-size="2.4" text-anchor="start" fill="#777" font-family='"Liberation Mono", monospace' >I</text>
<line x1="751" y1="837.7" x2="751" y2="845.1" stroke="#ea4d4d" stroke-width="0.85" />
<text x="752.2" y="839.6" font-size="2.4" text-anchor="start" fill="#777" font-family='"Liberation Mono", monospace' >I</text>
<line x1="675" y1="849.3" x2="675" y2="856.7" stroke="#ea4d4d" stroke-width="0.85" />
<text x="676.2" y="851.2" font-size="2.4" text-anchor="start" fill="#777" font-family='"Liberation Mono", monospace' >I</text>
<line x1="619.4" y1="570.7" x2="619.4" y2="578.1" stroke="#ea4d4d" stroke-width="0.85" />
<text x="620.6" y="572.6" font-size="2.4" text-anchor="start" fill="#777" font-family='"Liberation Mono", monospace' >J</text>
<line x1="600" y1="582.3" x2="600" y2="589.7" stroke="#ea4d4d" stroke-width="0.85" />
<text x="601.2" y="584.2" font-size="2.4" text-anchor="start" fill="#777" font-family='"Liberation Mono", monospace' >J</text>
<line x1="626.4" y1="594.3" x2="626.4" y2="601.7" stroke="#ea4d4d" stroke-width="0.85" />
<text x="627.6" y="596.2" font-size="2.4" text-anchor="start" fill="#777" font-family='"Liberation Mono", monospace' >J</text>
<line x1="619.4" y1="605.9" x2="619.4" y2="613.3" stroke="#ea4d4d" stroke-width="0.85" />
<text x="620.6" y="607.8" font-size="2.4" text-anchor="start" fill="#777" font-family='"Liberation Mono", monospace' >J</text>
<line x1="603.6" y1="617.7" x2="603.6" y2="625.1" stroke="#ea4d4d" stroke-width="0.85" />
<text x="604.8" y="619.6" font-size="2.4" text-anchor="start" fill="#777" font-family='"Liberation Mono", monospace' >J</text>
<line x1="616.6" y1="629.5" x2="616.6" y2="636.9" stroke="#ea4d4d" stroke-width="0.85" />
<text x="617.8" y="631.4" font-size="2.4" text-anchor="start" fill="#777" font-family='"Liberation Mono", monospace' >J</text>
<line x1="604" y1="641.1" x2="604" y2="648.5" stroke="#ea4d4d" stroke-width="0.85" />
<text x="605.2" y="643" font-size="2.4" text-anchor="start" fill="#777" font-family='"Liberation Mono", monospace' >J</text>
<line x1="633" y1="652.9" x2="633" y2="660.3" stroke="#ea4d4d" stroke-width="0.85" />
<text x="634.2" y="654.8" font-size="2.4" text-anchor="start" fill="#777" font-family='"Liberation Mono", monospace' >J</text>
<line x1="620" y1="664.7" x2="620" y2="672.1" stroke="#ea4d4d" stroke-width="0.85" />
<text x="621.2" y="666.6" font-size="2.4" text-anchor="start" fill="#777" font-family='"Liberation Mono", monospace' >J</text>
<line x1="594.4" y1="676.7" x2="594.4" y2="684.1" stroke="#ea4d4d" stroke-width="0.85" />
<text x="595.6" y="678.6" font-size="2.4" text-anchor="start" fill="#777" font-family='"Liberation Mono", monospace' >J</text>
<line x1="582.4" y1="688.3" x2="582.4" y2="695.7" stroke="#ea4d4d" stroke-width="0.85" />
<text x="583.6" y="690.2" font-size="2.4" text-anchor="start" fill="#777" font-family='"Liberation Mono", monospace' >J</text>
<line x1="625" y1="700.3" x2="625" y2="707.7" stroke="#ea4d4d" stroke-width="0.85" />
<text x="626.2" y="702.2" font-size="2.4" text-anchor="start" fill="#777" font-family='"Liberation Mono", monospace' >J</text>
<text x="1094.7" y="721.6" font-size="2.4" text-anchor="start" fill="#777" font-family='"Liberation Mono", monospace' >J</text>
<line x1="824.5" y1="731.3" x2="824.5" y2="738.7" stroke="#ea4d4d" stroke-width="0.85" />
<text x="825.7" y="733.2" font-size="2.4" text-anchor="start" fill="#777" font-family='"Liberation Mono", monospace' >J</text>
<line x1="938.5" y1="743.3" x2="938.5" y2="750.7" stroke="#ea4d4d" stroke-width="0.85" />
<text x="939.7" y="745.2" font-size="2.4" text-anchor="start" fill="#777" font-family='"Liberation Mono", monospace' >J</text>
<line x1="678" y1="755.3" x2="678" y2="762.7" stroke="#ea4d4d" stroke-width="0.85" />
<text x="679.2" y="757.2" font-size="2.4" text-anchor="start" fill="#777" font-family='"Liberation Mono", monospace' >J</text>
<line x1="791.6" y1="766.9" x2="791.6" y2="774.3" stroke="#ea4d4d" stroke-width="0.85" />
<text x="792.8" y="768.8" font-size="2.4" text-anchor="start" fill="#777" font-family='"Liberation Mono", monospace' >J</text>
<line x1="830.4" y1="778.7" x2="830.4" y2="786.1" stroke="#ea4d4d" stroke-width="0.85" />
<text x="831.6" y="780.6" font-size="2.4" text-anchor="start" fill="#777" font-family='"Liberation Mono", monospace' >J</text>
<line x1="839" y1="790.5" x2="839" y2="797.9" stroke="#ea4d4d" stroke-width="0.85" />
<text x="840.2" y="792.4" font-size="2.4" text-anchor="start" fill="#777" font-family='"Liberation Mono", monospace' >J</text>
<line x1="714.4" y1="802.3" x2="714.4" y2="809.7" stroke="#ea4d4d" stroke-width="0.85" />
<text x="715.6" y="804.2" font-size="2.4" text-anchor="start" fill="#777" font-family='"Liberation Mono", monospace' >J</text>
<line x1="775.4" y1="813.9" x2="775.4" y2="821.3" stroke="#ea4d4d" stroke-width="0.85" />
<text x="776.6" y="815.8" font-size="2.4" text-anchor="start" fill="#777" font-family='"Liberation Mono", monospace' >J</text>
<line x1="768" y1="825.9" x2="768" y2="833.3" stroke="#ea4d4d" stroke-width="0.85" />
<text x="769.2" y="827.8" font-size="2.4" text-anchor="start" fill="#777" font-family='"Liberation Mono", monospace' >J</text>
<line x1="784" y1="837.7" x2="784" y2="845.1" stroke="#ea4d4d" stroke-width="0.85" />
<text x="785.2" y="839.6" font-size="2.4" text-anchor="start" fill="#777" font-family='"Liberation Mono", monospace' >J</text>
<line x1="708" y1="849.3" x2="708" y2="856.7" stroke="#ea4d4d" stroke-width="0.85" />
<text x="709.2" y="851.2" font-size="2.4" text-anchor="start" fill="#777" font-family='"Liberation Mono", monospace' >J</text>
<line x1="343.8" y1="570.7" x2="343.8" y2="578.1" stroke="#ea4d4d" stroke-width="0.85" />
<line x1="195.4" y1="582.3" x2="195.4" y2="589.7" stroke="#ea4d4d" stroke-width="0.85" />
<line x1="200.4" y1="594.3" x2="200.4" y2="601.7" stroke="#ea4d4d" stroke-width="0.85" />
<line x1="187" y1="605.9" x2="187" y2="613.3" stroke="#ea4d4d" stroke-width="0.85" />
<line x1="24.4" y1="617.7" x2="24.4" y2="625.1" stroke="#ea4d4d" stroke-width="0.85" />
<line x1="51.4" y1="629.5" x2="51.4" y2="636.9" stroke="#ea4d4d" stroke-width="0.85" />
<line x1="153.4" y1="652.9" x2="153.4" y2="660.3" stroke="#ea4d4d" stroke-width="0.85" />
<text x="383" y="582.1" font-size="7.9" text-anchor="start" fill="#4a4a4a" font-family='"Liberation Mono", monospace' >Cheniston</text>
<text x="708" y="581.4" font-size="5.5" text-anchor="start" fill="#4a4a4a" font-family='"Liberation Mono", monospace' >AJ:7.22</text>
<text x="653.4" y="576.3" font-size="5.7" text-anchor="start" fill="#4a4a4a" font-family='"Liberation Mono", monospace' >S6:10.09</text>
<text x="383" y="593.7" font-size="7.9" text-anchor="start" fill="#4a4a4a" font-family='"Liberation Mono", monospace' >Acajulta</text>
<text x="708" y="593" font-size="5.5" text-anchor="start" fill="#4a4a4a" font-family='"Liberation Mono", monospace' >AJ:6.59</text>
<text x="615.9" y="587.9" font-size="5.7" text-anchor="start" fill="#4a4a4a" font-family='"Liberation Mono", monospace' >S3:13.25</text>
<text x="368.5" y="589.6" font-size="2.6" text-anchor="start" fill="#666" font-family='"Liberation Mono", monospace' >S3</text>
<text x="383" y="605.7" font-size="7.9" text-anchor="start" fill="#4a4a4a" font-family='"Liberation Mono", monospace' >Albertolite</text>
<text x="708" y="605" font-size="5.5" text-anchor="start" fill="#4a4a4a" font-family='"Liberation Mono", monospace' >AJ:7.35</text>
<text x="659.2" y="599.9" font-size="5.7" text-anchor="start" fill="#4a4a4a" font-family='"Liberation Mono", monospace' >S11:14.35</text>
<text x="368.5" y="601.6" font-size="2.6" text-anchor="start" fill="#666" font-family='"Liberation Mono", monospace' >S11</text>
<text x="383" y="617.3" font-size="7.9" text-anchor="start" fill="#4a4a4a" font-family='"Liberation Mono", monospace' >Agwilake</text>
<text x="708" y="616.6" font-size="5.5" text-anchor="start" fill="#4a4a4a" font-family='"Liberation Mono", monospace' >AJ:7.09</text>
<text x="647.2" y="611.5" font-size="5.7" text-anchor="start" fill="#4a4a4a" font-family='"Liberation Mono", monospace' >S12:14.38</text>
<text x="368.5" y="613.2" font-size="2.6" text-anchor="start" fill="#666" font-family='"Liberation Mono", monospace' >S12</text>
<text x="383" y="629.1" font-size="7.9" text-anchor="start" fill="#4a4a4a" font-family='"Liberation Mono", monospace' >Lake Miraflores</text>
<text x="708" y="628.4" font-size="5.5" text-anchor="start" fill="#4a4a4a" font-family='"Liberation Mono", monospace' >AJ:6.48</text>
<text x="632.2" y="623.3" font-size="5.7" text-anchor="start" fill="#4a4a4a" font-family='"Liberation Mono", monospace' >S8:19.00</text>
<text x="368.5" y="625" font-size="2.6" text-anchor="start" fill="#666" font-family='"Liberation Mono", monospace' >S8</text>
<text x="383" y="640.9" font-size="7.9" text-anchor="start" fill="#4a4a4a" font-family='"Liberation Mono", monospace' >Floridian</text>
<text x="708" y="640.2" font-size="5.5" text-anchor="start" fill="#4a4a4a" font-family='"Liberation Mono", monospace' >AJ:7.13</text>
<text x="651.2" y="635.1" font-size="5.7" text-anchor="start" fill="#4a4a4a" font-family='"Liberation Mono", monospace' >S10:19.53</text>
<text x="368.5" y="636.8" font-size="2.6" text-anchor="start" fill="#666" font-family='"Liberation Mono", monospace' >S10</text>
<text x="383" y="652.5" font-size="7.9" text-anchor="start" fill="#4a4a4a" font-family='"Liberation Mono", monospace' >Canadolite</text>
<text x="708" y="651.8" font-size="5.5" text-anchor="start" fill="#4a4a4a" font-family='"Liberation Mono", monospace' >AJ:6.59</text>
<text x="633.7" y="646.7" font-size="5.7" text-anchor="start" fill="#4a4a4a" font-family='"Liberation Mono", monospace' >S4:20.18</text>
<text x="368.5" y="648.4" font-size="2.6" text-anchor="start" fill="#666" font-family='"Liberation Mono", monospace' >S4</text>
<text x="383" y="664.3" font-size="7.9" text-anchor="start" fill="#4a4a4a" font-family='"Liberation Mono", monospace' >Reginolite</text>
<text x="708" y="663.6" font-size="5.5" text-anchor="start" fill="#4a4a4a" font-family='"Liberation Mono", monospace' >AJ:7.59</text>
<text x="839.2" y="658.5" font-size="5.7" text-anchor="start" fill="#4a4a4a" font-family='"Liberation Mono", monospace' >S9:21.20</text>
<text x="368.5" y="660.2" font-size="2.6" text-anchor="start" fill="#666" font-family='"Liberation Mono", monospace' >S9</text>
<text x="383" y="676.1" font-size="7.9" text-anchor="start" fill="#4a4a4a" font-family='"Liberation Mono", monospace' >Francis E.I</text>
<text x="708" y="675.4" font-size="5.5" text-anchor="start" fill="#4a4a4a" font-family='"Liberation Mono", monospace' >AJ:7.11</text>
<text x="659.8" y="670.3" font-size="5.7" text-anchor="start" fill="#4a4a4a" font-family='"Liberation Mono", monospace' >S2:21.45</text>
<text x="368.5" y="672" font-size="2.6" text-anchor="start" fill="#666" font-family='"Liberation Mono", monospace' >S2</text>
<text x="383" y="688.1" font-size="7.9" text-anchor="start" fill="#4a4a4a" font-family='"Liberation Mono", monospace' >Mamari</text>
<text x="708" y="687.4" font-size="5.5" text-anchor="start" fill="#4a4a4a" font-family='"Liberation Mono", monospace' >AJ:6.34</text>
<text x="625.2" y="682.3" font-size="5.7" text-anchor="start" fill="#4a4a4a" font-family='"Liberation Mono", monospace' >S1:21.55</text>
<text x="368.5" y="684" font-size="2.6" text-anchor="start" fill="#666" font-family='"Liberation Mono", monospace' >S1</text>
<text x="383" y="699.7" font-size="7.9" text-anchor="start" fill="#4a4a4a" font-family='"Liberation Mono", monospace' >Bowden</text>
<text x="708" y="699" font-size="5.5" text-anchor="start" fill="#4a4a4a" font-family='"Liberation Mono", monospace' >AJ:6.15</text>
<text x="597" y="693.9" font-size="5.7" text-anchor="start" fill="#4a4a4a" font-family='"Liberation Mono", monospace' >S5:27.05</text>
<text x="368.5" y="695.6" font-size="2.6" text-anchor="start" fill="#666" font-family='"Liberation Mono", monospace' >S5</text>
<text x="383" y="711.7" font-size="7.9" text-anchor="start" fill="#4a4a4a" font-family='"Liberation Mono", monospace' >Negada</text>
<text x="671" y="703.4" font-size="5.7" text-anchor="start" fill="#4a4a4a" font-family='"Liberation Mono", monospace' >S7:30.35</text>
<text x="368.5" y="707.6" font-size="2.6" text-anchor="start" fill="#666" font-family='"Liberation Mono", monospace' >S7</text>
<text x="523.6" y="722.2" font-size="7.9" text-anchor="start" fill="#4a4a4a" font-family='"Liberation Mono", monospace' >Amazonas</text>
<text x="73" y="725.4" font-size="5.9" text-anchor="end" fill="#4a4a4a" font-family='"Liberation Mono", monospace' >N5:36.00</text>
<text x="671.5" y="728" font-size="2.8" text-anchor="start" fill="#555" font-family='"Liberation Mono", monospace' >N5</text>
<text x="523.6" y="733.8" font-size="7.9" text-anchor="start" fill="#4a4a4a" font-family='"Liberation Mono", monospace' >Panaman</text>
<text x="233" y="737" font-size="5.9" text-anchor="end" fill="#4a4a4a" font-family='"Liberation Mono", monospace' >N9:20.00</text>
<text x="671.5" y="739.6" font-size="2.8" text-anchor="start" fill="#555" font-family='"Liberation Mono", monospace' >N9</text>
<text x="523.6" y="745.8" font-size="7.9" text-anchor="start" fill="#4a4a4a" font-family='"Liberation Mono", monospace' >Utacarbon</text>
<text x="373" y="749" font-size="5.9" text-anchor="end" fill="#4a4a4a" font-family='"Liberation Mono", monospace' >N8:19.00</text>
<text x="671.5" y="751.6" font-size="2.8" text-anchor="start" fill="#555" font-family='"Liberation Mono", monospace' >N8</text>
<text x="523.6" y="757.8" font-size="7.9" text-anchor="start" fill="#4a4a4a" font-family='"Liberation Mono", monospace' >Santa Tecla</text>
<text x="97" y="761" font-size="5.9" text-anchor="end" fill="#4a4a4a" font-family='"Liberation Mono", monospace' >N11:18.24</text>
<text x="671.5" y="763.6" font-size="2.8" text-anchor="start" fill="#555" font-family='"Liberation Mono", monospace' >N11</text>
<text x="523.6" y="769.4" font-size="7.9" text-anchor="start" fill="#4a4a4a" font-family='"Liberation Mono", monospace' >Montevideo</text>
<text x="238" y="772.6" font-size="5.9" text-anchor="end" fill="#4a4a4a" font-family='"Liberation Mono", monospace' >N12:17.56</text>
<text x="671.5" y="775.2" font-size="2.8" text-anchor="start" fill="#555" font-family='"Liberation Mono", monospace' >N12</text>
<text x="523.6" y="781.2" font-size="7.9" text-anchor="start" fill="#4a4a4a" font-family='"Liberation Mono", monospace' >Bogota</text>
<text x="350" y="784.4" font-size="5.9" text-anchor="end" fill="#4a4a4a" font-family='"Liberation Mono", monospace' >N1:15.45</text>
<text x="671.5" y="787" font-size="2.8" text-anchor="start" fill="#555" font-family='"Liberation Mono", monospace' >N1</text>
<text x="523.6" y="793" font-size="7.9" text-anchor="start" fill="#4a4a4a" font-family='"Liberation Mono", monospace' >Robert E. Hopkins</text>
<text x="396" y="796.2" font-size="5.9" text-anchor="end" fill="#4a4a4a" font-family='"Liberation Mono", monospace' >N6:14.30</text>
<text x="671.5" y="798.8" font-size="2.8" text-anchor="start" fill="#555" font-family='"Liberation Mono", monospace' >N6</text>
<text x="523.6" y="804.8" font-size="7.9" text-anchor="start" fill="#4a4a4a" font-family='"Liberation Mono", monospace' >Essequibo</text>
<text x="289" y="808" font-size="5.9" text-anchor="end" fill="#4a4a4a" font-family='"Liberation Mono", monospace' >N7:13.44</text>
<text x="671.5" y="810.6" font-size="2.8" text-anchor="start" fill="#555" font-family='"Liberation Mono", monospace' >N7</text>
<text x="523.6" y="816.4" font-size="7.9" text-anchor="start" fill="#4a4a4a" font-family='"Liberation Mono", monospace' >J.Amoffett Jr.</text>
<text x="365" y="819.6" font-size="5.9" text-anchor="end" fill="#4a4a4a" font-family='"Liberation Mono", monospace' >N2:13.35</text>
<text x="671.5" y="822.2" font-size="2.8" text-anchor="start" fill="#555" font-family='"Liberation Mono", monospace' >N2</text>
<text x="523.6" y="828.4" font-size="7.9" text-anchor="start" fill="#4a4a4a" font-family='"Liberation Mono", monospace' >Bullaren</text>
<text x="413.6" y="831.6" font-size="5.9" text-anchor="end" fill="#4a4a4a" font-family='"Liberation Mono", monospace' >N3:13.00</text>
<text x="671.5" y="834.2" font-size="2.8" text-anchor="start" fill="#555" font-family='"Liberation Mono", monospace' >N3</text>
<text x="523.6" y="840.2" font-size="7.9" text-anchor="start" fill="#4a4a4a" font-family='"Liberation Mono", monospace' >Havana Maru</text>
<text x="433.6" y="843.4" font-size="5.9" text-anchor="end" fill="#4a4a4a" font-family='"Liberation Mono", monospace' >N4:11.35</text>
<text x="671.5" y="846" font-size="2.8" text-anchor="start" fill="#555" font-family='"Liberation Mono", monospace' >N4</text>
<text x="523.6" y="851.8" font-size="7.9" text-anchor="start" fill="#4a4a4a" font-family='"Liberation Mono", monospace' >Ferncliff</text>
<text x="388" y="855" font-size="5.9" text-anchor="end" fill="#4a4a4a" font-family='"Liberation Mono", monospace' >N10:10.40</text>
<text x="671.5" y="857.6" font-size="2.8" text-anchor="start" fill="#555" font-family='"Liberation Mono", monospace' >N10</text>
<text x="680" y="566" font-size="5.6" text-anchor="start" fill="#4a4a4a" font-family='"Liberation Mono", monospace' >Canal Waters Time without Waiting : 9 hours</text>
<text x="332.5" y="561" font-size="8.6" text-anchor="middle" fill="#4a4a4a" font-family='"Liberation Mono", monospace' >P</text>
<text x="366.5" y="561" font-size="8.6" text-anchor="middle" fill="#4a4a4a" font-family='"Liberation Mono", monospace' >A</text>
<text x="399.5" y="561" font-size="8.6" text-anchor="middle" fill="#4a4a4a" font-family='"Liberation Mono", monospace' >B</text>
<text x="450.5" y="561" font-size="8.6" text-anchor="middle" fill="#4a4a4a" font-family='"Liberation Mono", monospace' >C</text>
<text x="506.5" y="561" font-size="8.6" text-anchor="middle" fill="#4a4a4a" font-family='"Liberation Mono", monospace' >D</text>
<text x="528.5" y="561" font-size="8.6" text-anchor="middle" fill="#4a4a4a" font-family='"Liberation Mono", monospace' >E</text>
<text x="539.5" y="561" font-size="8.6" text-anchor="middle" fill="#4a4a4a" font-family='"Liberation Mono", monospace' >F</text>
<text x="573.5" y="561" font-size="8.6" text-anchor="middle" fill="#4a4a4a" font-family='"Liberation Mono", monospace' >G</text>
<text x="590.5" y="561" font-size="8.6" text-anchor="middle" fill="#4a4a4a" font-family='"Liberation Mono", monospace' >H</text>
<text x="601.5" y="561" font-size="8.6" text-anchor="middle" fill="#4a4a4a" font-family='"Liberation Mono", monospace' >I</text>
<text x="635.5" y="561" font-size="8.6" text-anchor="middle" fill="#4a4a4a" font-family='"Liberation Mono", monospace' >J</text>
<text x="669.5" y="561" font-size="8.6" text-anchor="middle" fill="#4a4a4a" font-family='"Liberation Mono", monospace' >K</text>
<text x="702.5" y="561" font-size="8.6" text-anchor="middle" fill="#4a4a4a" font-family='"Liberation Mono", monospace' >P</text>
<text x="357.6" y="864.2" font-size="4.0" text-anchor="start" fill="#666" font-family='"Liberation Mono", monospace' >A-B</text>
<text x="357.6" y="868.6" font-size="4.1" text-anchor="start" fill="#666" font-family='"Liberation Mono", monospace' >Atlantic Entrance</text>
<text x="413" y="864.2" font-size="4.0" text-anchor="start" fill="#666" font-family='"Liberation Mono", monospace' >B-C</text>
<text x="413" y="868.6" font-size="4.1" text-anchor="start" fill="#666" font-family='"Liberation Mono", monospace' >Gatun Lock</text>
<text x="460" y="864.2" font-size="4.0" text-anchor="start" fill="#666" font-family='"Liberation Mono", monospace' >C-D</text>
<text x="460" y="868.6" font-size="4.1" text-anchor="start" fill="#666" font-family='"Liberation Mono", monospace' >Point 1</text>
<text x="504" y="864.2" font-size="4.0" text-anchor="start" fill="#666" font-family='"Liberation Mono", monospace' >D-E</text>
<text x="497" y="868.6" font-size="4.1" text-anchor="start" fill="#666" font-family='"Liberation Mono", monospace' >Point 2</text>
<text x="544.4" y="864.2" font-size="4.0" text-anchor="start" fill="#666" font-family='"Liberation Mono", monospace' >E-F</text>
<text x="544.4" y="868.6" font-size="4.1" text-anchor="start" fill="#666" font-family='"Liberation Mono", monospace' >Pont3</text>
<text x="563" y="864.2" font-size="4.0" text-anchor="start" fill="#666" font-family='"Liberation Mono", monospace' >F-G</text>
<text x="563" y="868.6" font-size="4.1" text-anchor="start" fill="#666" font-family='"Liberation Mono", monospace' >Culebra Cut</text>
<text x="603" y="864.2" font-size="4.0" text-anchor="start" fill="#666" font-family='"Liberation Mono", monospace' >G-H</text>
<text x="603" y="868.6" font-size="4.1" text-anchor="start" fill="#666" font-family='"Liberation Mono", monospace' >Miguel Lock</text>
<text x="636" y="864.2" font-size="4.0" text-anchor="start" fill="#666" font-family='"Liberation Mono", monospace' >H-I</text>
<text x="636" y="868.6" font-size="4.1" text-anchor="start" fill="#666" font-family='"Liberation Mono", monospace' >Lake</text>
<text x="655" y="864.2" font-size="4.0" text-anchor="start" fill="#666" font-family='"Liberation Mono", monospace' >I-J</text>
<text x="655" y="868.6" font-size="4.1" text-anchor="start" fill="#666" font-family='"Liberation Mono", monospace' >Miraflores Lock</text>
<text x="707" y="864.2" font-size="4.0" text-anchor="start" fill="#666" font-family='"Liberation Mono", monospace' >J-K</text>
<text x="707" y="868.6" font-size="4.1" text-anchor="start" fill="#666" font-family='"Liberation Mono", monospace' >Panama Bay</text>
<polyline points="390,438 366.5,449.8 366.5,553.5" fill="none" stroke="#666" stroke-width="0.75" />
<polyline points="366.5,553.5 343.4,563.7 343.4,577" fill="none" stroke="#666" stroke-width="0.75" />
<polyline points="419.6,438 399.5,448.1 399.5,553.5" fill="none" stroke="#666" stroke-width="0.75" />
<polyline points="399.5,553.5 377.4,563.2 377.4,577" fill="none" stroke="#666" stroke-width="0.75" />
<polyline points="470,438 450.5,447.8 450.5,553.5" fill="none" stroke="#666" stroke-width="0.75" />
<polyline points="450.5,553.5 428,563.4 428,577" fill="none" stroke="#666" stroke-width="0.75" />
<polyline points="515.2,431 506.5,444.9 506.5,553.5" fill="none" stroke="#666" stroke-width="0.75" />
<polyline points="506.5,553.5 478.4,565.9 478.4,577" fill="none" stroke="#666" stroke-width="0.75" />
<polyline points="532,431 528.5,436.6 528.5,553.5" fill="none" stroke="#666" stroke-width="0.75" />
<polyline points="528.5,553.5 514.4,559.7 514.4,577" fill="none" stroke="#666" stroke-width="0.75" />
<polyline points="543.2,431 539.5,436.9 539.5,553.5" fill="none" stroke="#666" stroke-width="0.75" />
<polyline points="539.5,553.5 526,559.4 526,577" fill="none" stroke="#666" stroke-width="0.75" />
<polyline points="574,438 573.5,438.2 573.5,553.5" fill="none" stroke="#666" stroke-width="0.75" />
<polyline points="573.5,553.5 554.4,561.9 554.4,577" fill="none" stroke="#666" stroke-width="0.75" />
<polyline points="590.4,438 590.5,438.1 590.5,553.5" fill="none" stroke="#666" stroke-width="0.75" />
<polyline points="590.5,553.5 571,562.1 571,577" fill="none" stroke="#666" stroke-width="0.75" />
<polyline points="602.4,438 601.5,438.4 601.5,553.5" fill="none" stroke="#666" stroke-width="0.75" />
<polyline points="601.5,553.5 588,559.4 588,577" fill="none" stroke="#666" stroke-width="0.75" />
<polyline points="635.4,438 635.5,438.1 635.5,553.5" fill="none" stroke="#666" stroke-width="0.75" />
<polyline points="635.5,553.5 619,560.8 619,577" fill="none" stroke="#666" stroke-width="0.75" />
<polyline points="669.5,452 669.5,553.5" fill="none" stroke="#666" stroke-width="0.75" />
<line x1="669.5" y1="562" x2="669.5" y2="706" stroke="#666" stroke-width="0.9" stroke-dasharray="3.2 2.4"/>
<circle cx="332.5" cy="565" r="1.5" fill="#111" stroke="none" stroke-width="0.8"/>
<polyline points="332.5,565 332.5,612 310,622 310,628" fill="none" stroke="#444" stroke-width="0.75" />
<circle cx="383" cy="505.2" r="16.5" fill="none" stroke="#555" stroke-width="0.7"/>
<circle cx="425" cy="505.2" r="25.5" fill="#dde58a" stroke="#555" stroke-width="0.7"/>
<circle cx="478.5" cy="505.2" r="28" fill="none" stroke="#555" stroke-width="0.7"/>
<circle cx="517.5" cy="505.2" r="11" fill="#f6f6cc" stroke="#555" stroke-width="0.7"/>
<circle cx="534" cy="505.2" r="5.5" fill="none" stroke="#555" stroke-width="0.7"/>
<circle cx="556.5" cy="505.2" r="17" fill="none" stroke="#555" stroke-width="0.7"/>
<circle cx="582" cy="505.2" r="8.5" fill="#dde58a" stroke="#555" stroke-width="0.7"/>
<circle cx="596" cy="505.2" r="5.5" fill="none" stroke="#555" stroke-width="0.7"/>
<circle cx="618.5" cy="505.2" r="17" fill="#dde58a" stroke="#555" stroke-width="0.7"/>
<circle cx="652.5" cy="505.2" r="17" fill="none" stroke="#555" stroke-width="0.7"/>
<line x1="372.1" y1="505.2" x2="372.1" y2="510" stroke="#8a8a8a" stroke-width="0.55" />
<line x1="377.7" y1="505.2" x2="377.7" y2="510" stroke="#8a8a8a" stroke-width="0.55" />
<line x1="383.3" y1="505.2" x2="383.3" y2="510" stroke="#8a8a8a" stroke-width="0.55" />
<line x1="388.9" y1="505.2" x2="388.9" y2="510" stroke="#8a8a8a" stroke-width="0.55" />
<line x1="394.4" y1="505.2" x2="394.4" y2="510" stroke="#8a8a8a" stroke-width="0.55" />
<line x1="400" y1="505.2" x2="400" y2="510" stroke="#8a8a8a" stroke-width="0.55" />
<line x1="405.6" y1="505.2" x2="405.6" y2="510" stroke="#8a8a8a" stroke-width="0.55" />
<line x1="411.2" y1="505.2" x2="411.2" y2="510" stroke="#8a8a8a" stroke-width="0.55" />
<line x1="416.8" y1="505.2" x2="416.8" y2="510" stroke="#8a8a8a" stroke-width="0.55" />
<line x1="422.4" y1="505.2" x2="422.4" y2="510" stroke="#8a8a8a" stroke-width="0.55" />
<line x1="428" y1="505.2" x2="428" y2="510" stroke="#8a8a8a" stroke-width="0.55" />
<line x1="433.6" y1="505.2" x2="433.6" y2="510" stroke="#8a8a8a" stroke-width="0.55" />
<line x1="439.2" y1="505.2" x2="439.2" y2="510" stroke="#8a8a8a" stroke-width="0.55" />
<line x1="444.8" y1="505.2" x2="444.8" y2="510" stroke="#8a8a8a" stroke-width="0.55" />
<line x1="450.3" y1="505.2" x2="450.3" y2="510" stroke="#8a8a8a" stroke-width="0.55" />
<line x1="455.9" y1="505.2" x2="455.9" y2="510" stroke="#8a8a8a" stroke-width="0.55" />
<line x1="461.5" y1="505.2" x2="461.5" y2="510" stroke="#8a8a8a" stroke-width="0.55" />
<line x1="467.1" y1="505.2" x2="467.1" y2="510" stroke="#8a8a8a" stroke-width="0.55" />
<line x1="472.7" y1="505.2" x2="472.7" y2="510" stroke="#8a8a8a" stroke-width="0.55" />
<line x1="478.3" y1="505.2" x2="478.3" y2="510" stroke="#8a8a8a" stroke-width="0.55" />
<line x1="483.9" y1="505.2" x2="483.9" y2="510" stroke="#8a8a8a" stroke-width="0.55" />
<line x1="489.5" y1="505.2" x2="489.5" y2="510" stroke="#8a8a8a" stroke-width="0.55" />
<line x1="495.1" y1="505.2" x2="495.1" y2="510" stroke="#8a8a8a" stroke-width="0.55" />
<line x1="500.7" y1="505.2" x2="500.7" y2="510" stroke="#8a8a8a" stroke-width="0.55" />
<line x1="506.2" y1="505.2" x2="506.2" y2="510" stroke="#8a8a8a" stroke-width="0.55" />
<line x1="511.8" y1="505.2" x2="511.8" y2="510" stroke="#8a8a8a" stroke-width="0.55" />
<line x1="517.4" y1="505.2" x2="517.4" y2="510" stroke="#8a8a8a" stroke-width="0.55" />
<line x1="523" y1="505.2" x2="523" y2="510" stroke="#8a8a8a" stroke-width="0.55" />
<line x1="528.6" y1="505.2" x2="528.6" y2="510" stroke="#8a8a8a" stroke-width="0.55" />
<line x1="534.2" y1="505.2" x2="534.2" y2="510" stroke="#8a8a8a" stroke-width="0.55" />
<line x1="539.8" y1="505.2" x2="539.8" y2="510" stroke="#8a8a8a" stroke-width="0.55" />
<line x1="545.4" y1="505.2" x2="545.4" y2="510" stroke="#8a8a8a" stroke-width="0.55" />
<line x1="551" y1="505.2" x2="551" y2="510" stroke="#8a8a8a" stroke-width="0.55" />
<line x1="556.6" y1="505.2" x2="556.6" y2="510" stroke="#8a8a8a" stroke-width="0.55" />
<line x1="562.1" y1="505.2" x2="562.1" y2="510" stroke="#8a8a8a" stroke-width="0.55" />
<line x1="567.7" y1="505.2" x2="567.7" y2="510" stroke="#8a8a8a" stroke-width="0.55" />
<line x1="573.3" y1="505.2" x2="573.3" y2="510" stroke="#8a8a8a" stroke-width="0.55" />
<line x1="578.9" y1="505.2" x2="578.9" y2="510" stroke="#8a8a8a" stroke-width="0.55" />
<line x1="584.5" y1="505.2" x2="584.5" y2="510" stroke="#8a8a8a" stroke-width="0.55" />
<line x1="590.1" y1="505.2" x2="590.1" y2="510" stroke="#8a8a8a" stroke-width="0.55" />
<line x1="595.7" y1="505.2" x2="595.7" y2="510" stroke="#8a8a8a" stroke-width="0.55" />
<line x1="601.3" y1="505.2" x2="601.3" y2="510" stroke="#8a8a8a" stroke-width="0.55" />
<line x1="606.9" y1="505.2" x2="606.9" y2="510" stroke="#8a8a8a" stroke-width="0.55" />
<line x1="612.5" y1="505.2" x2="612.5" y2="510" stroke="#8a8a8a" stroke-width="0.55" />
<line x1="618" y1="505.2" x2="618" y2="510" stroke="#8a8a8a" stroke-width="0.55" />
<line x1="623.6" y1="505.2" x2="623.6" y2="510" stroke="#8a8a8a" stroke-width="0.55" />
<line x1="629.2" y1="505.2" x2="629.2" y2="510" stroke="#8a8a8a" stroke-width="0.55" />
<line x1="634.8" y1="505.2" x2="634.8" y2="510" stroke="#8a8a8a" stroke-width="0.55" />
<line x1="640.4" y1="505.2" x2="640.4" y2="510" stroke="#8a8a8a" stroke-width="0.55" />
<line x1="646" y1="505.2" x2="646" y2="510" stroke="#8a8a8a" stroke-width="0.55" />
<line x1="651.6" y1="505.2" x2="651.6" y2="510" stroke="#8a8a8a" stroke-width="0.55" />
<line x1="657.2" y1="505.2" x2="657.2" y2="510" stroke="#8a8a8a" stroke-width="0.55" />
<line x1="662.8" y1="505.2" x2="662.8" y2="510" stroke="#8a8a8a" stroke-width="0.55" />
<line x1="668.4" y1="505.2" x2="668.4" y2="510" stroke="#8a8a8a" stroke-width="0.55" />
<line x1="366.5" y1="505.2" x2="669.5" y2="505.2" stroke="#777" stroke-width="1.6" />
<line x1="669.5" y1="505.2" x2="703" y2="505.2" stroke="#444" stroke-width="0.7" />
<circle cx="366.5" cy="505.2" r="1.5" fill="#111" stroke="none" stroke-width="0.8"/>
<circle cx="399.5" cy="505.2" r="1.5" fill="#111" stroke="none" stroke-width="0.8"/>
<circle cx="450.5" cy="505.2" r="1.5" fill="#111" stroke="none" stroke-width="0.8"/>
<circle cx="506.5" cy="505.2" r="1.5" fill="#111" stroke="none" stroke-width="0.8"/>
<circle cx="528.5" cy="505.2" r="1.5" fill="#111" stroke="none" stroke-width="0.8"/>
<circle cx="539.5" cy="505.2" r="1.5" fill="#111" stroke="none" stroke-width="0.8"/>
<circle cx="573.5" cy="505.2" r="1.5" fill="#111" stroke="none" stroke-width="0.8"/>
<circle cx="590.5" cy="505.2" r="1.5" fill="#111" stroke="none" stroke-width="0.8"/>
<circle cx="601.5" cy="505.2" r="1.5" fill="#111" stroke="none" stroke-width="0.8"/>
<circle cx="635.5" cy="505.2" r="1.5" fill="#111" stroke="none" stroke-width="0.8"/>
<circle cx="669.5" cy="505.2" r="1.5" fill="#111" stroke="none" stroke-width="0.8"/>
<text x="383" y="504.3" font-size="5.7" text-anchor="middle" fill="#5a5a5a" font-family='"Liberation Mono", monospace' >1.00</text>
<text x="425" y="504.3" font-size="5.7" text-anchor="middle" fill="#5a5a5a" font-family='"Liberation Mono", monospace' >1.30</text>
<text x="478.5" y="504.3" font-size="5.7" text-anchor="middle" fill="#5a5a5a" font-family='"Liberation Mono", monospace' >1.40</text>
<text x="517.5" y="504.3" font-size="5.7" text-anchor="middle" fill="#5a5a5a" font-family='"Liberation Mono", monospace' >40</text>
<text x="534" y="504.3" font-size="5.7" text-anchor="middle" fill="#5a5a5a" font-family='"Liberation Mono", monospace' >20</text>
<text x="556.5" y="504.3" font-size="5.7" text-anchor="middle" fill="#5a5a5a" font-family='"Liberation Mono", monospace' >1.0</text>
<text x="582" y="504.3" font-size="5.7" text-anchor="middle" fill="#5a5a5a" font-family='"Liberation Mono", monospace' >30</text>
<text x="596" y="504.3" font-size="5.7" text-anchor="middle" fill="#5a5a5a" font-family='"Liberation Mono", monospace' >20</text>
<text x="618.5" y="504.3" font-size="5.7" text-anchor="middle" fill="#5a5a5a" font-family='"Liberation Mono", monospace' >1.0</text>
<text x="652.5" y="504.3" font-size="5.7" text-anchor="middle" fill="#5a5a5a" font-family='"Liberation Mono", monospace' >1.0</text>
<circle cx="703" cy="505.2" r="1.4" fill="#111" stroke="none" stroke-width="0.8"/>
<text x="228" y="508" font-size="8.3" text-anchor="start" fill="#4a4a4a" font-family='"Liberation Mono", monospace' >Atlantic To Pacific</text>
<text x="713" y="508" font-size="8.9" text-anchor="start" fill="#4a4a4a" font-family='"Liberation Mono", monospace' >Pacific to Atlantic :Northbound</text>
<line x1="703" y1="460" x2="703" y2="553" stroke="#666" stroke-width="0.75" />
<polyline points="390,853 390,860.5 366.5,874 366.5,925.6" fill="none" stroke="#666" stroke-width="0.75" />
<line x1="366.5" y1="925.6" x2="366.5" y2="945" stroke="#aaa" stroke-width="0.7" stroke-dasharray="1.5 1.5"/>
<polyline points="409,853 409,860.5 399.5,874 399.5,925.6" fill="none" stroke="#666" stroke-width="0.75" />
<line x1="399.5" y1="925.6" x2="399.5" y2="945" stroke="#aaa" stroke-width="0.7" stroke-dasharray="1.5 1.5"/>
<polyline points="459,853 459,860.5 450.5,874 450.5,925.6" fill="none" stroke="#666" stroke-width="0.75" />
<line x1="450.5" y1="925.6" x2="450.5" y2="945" stroke="#aaa" stroke-width="0.7" stroke-dasharray="1.5 1.5"/>
<polyline points="488,853 488,860.5 506.5,874 506.5,925.6" fill="none" stroke="#666" stroke-width="0.75" />
<line x1="506.5" y1="925.6" x2="506.5" y2="945" stroke="#aaa" stroke-width="0.7" stroke-dasharray="1.5 1.5"/>
<polyline points="573.6,853 573.6,860.5 528.5,874 528.5,925.6" fill="none" stroke="#666" stroke-width="0.75" />
<line x1="528.5" y1="925.6" x2="528.5" y2="945" stroke="#aaa" stroke-width="0.7" stroke-dasharray="1.5 1.5"/>
<polyline points="585.7,853 585.7,860.5 539.5,874 539.5,925.6" fill="none" stroke="#666" stroke-width="0.75" />
<line x1="539.5" y1="925.6" x2="539.5" y2="945" stroke="#aaa" stroke-width="0.7" stroke-dasharray="1.5 1.5"/>
<polyline points="615.2,853 615.2,860.5 573.5,874 573.5,925.6" fill="none" stroke="#666" stroke-width="0.75" />
<line x1="573.5" y1="925.6" x2="573.5" y2="945" stroke="#aaa" stroke-width="0.7" stroke-dasharray="1.5 1.5"/>
<polyline points="631.8,853 631.8,860.5 590.5,874 590.5,925.6" fill="none" stroke="#666" stroke-width="0.75" />
<line x1="590.5" y1="925.6" x2="590.5" y2="945" stroke="#aaa" stroke-width="0.7" stroke-dasharray="1.5 1.5"/>
<polyline points="675,853 675,860.5 601.5,874 601.5,925.6" fill="none" stroke="#666" stroke-width="0.75" />
<line x1="601.5" y1="925.6" x2="601.5" y2="945" stroke="#aaa" stroke-width="0.7" stroke-dasharray="1.5 1.5"/>
<polyline points="708,853 708,860.5 635.5,874 635.5,925.6" fill="none" stroke="#666" stroke-width="0.75" />
<line x1="635.5" y1="925.6" x2="635.5" y2="945" stroke="#aaa" stroke-width="0.7" stroke-dasharray="1.5 1.5"/>
<polyline points="669.5,876 669.5,925.6" fill="none" stroke="#666" stroke-width="0.75" />
<line x1="669.5" y1="925.6" x2="669.5" y2="945" stroke="#aaa" stroke-width="0.7" stroke-dasharray="1.5 1.5"/>
<polyline points="748,867 703,880.5 703,925.6" fill="none" stroke="#666" stroke-width="0.75" />
<line x1="703" y1="925.6" x2="703" y2="975.6" stroke="#aaa" stroke-width="0.7" stroke-dasharray="1.5 1.5"/>
<circle cx="383" cy="925.6" r="16.5" fill="none" stroke="#555" stroke-width="0.7"/>
<circle cx="425" cy="925.6" r="25.5" fill="#dde58a" stroke="#555" stroke-width="0.7"/>
<circle cx="478.5" cy="925.6" r="28" fill="none" stroke="#555" stroke-width="0.7"/>
<circle cx="517.5" cy="925.6" r="11" fill="#f6f6cc" stroke="#555" stroke-width="0.7"/>
<circle cx="534" cy="925.6" r="5.5" fill="none" stroke="#555" stroke-width="0.7"/>
<circle cx="556.5" cy="925.6" r="17" fill="none" stroke="#555" stroke-width="0.7"/>
<circle cx="582" cy="925.6" r="8.5" fill="#dde58a" stroke="#555" stroke-width="0.7"/>
<circle cx="596" cy="925.6" r="5.5" fill="none" stroke="#555" stroke-width="0.7"/>
<circle cx="618.5" cy="925.6" r="17" fill="#dde58a" stroke="#555" stroke-width="0.7"/>
<circle cx="652.5" cy="925.6" r="17" fill="none" stroke="#555" stroke-width="0.7"/>
<line x1="372.1" y1="928.2" x2="372.1" y2="930" stroke="#aaa" stroke-width="0.7" />
<line x1="377.7" y1="928.2" x2="377.7" y2="930" stroke="#aaa" stroke-width="0.7" />
<line x1="383.3" y1="928.2" x2="383.3" y2="930" stroke="#aaa" stroke-width="0.7" />
<line x1="388.9" y1="928.2" x2="388.9" y2="930" stroke="#aaa" stroke-width="0.7" />
<line x1="394.4" y1="928.2" x2="394.4" y2="930" stroke="#aaa" stroke-width="0.7" />
<line x1="400" y1="928.2" x2="400" y2="930" stroke="#aaa" stroke-width="0.7" />
<line x1="405.6" y1="928.2" x2="405.6" y2="930" stroke="#aaa" stroke-width="0.7" />
<line x1="411.2" y1="928.2" x2="411.2" y2="930" stroke="#aaa" stroke-width="0.7" />
<line x1="416.8" y1="928.2" x2="416.8" y2="930" stroke="#aaa" stroke-width="0.7" />
<line x1="422.4" y1="928.2" x2="422.4" y2="930" stroke="#aaa" stroke-width="0.7" />
<line x1="428" y1="928.2" x2="428" y2="930" stroke="#aaa" stroke-width="0.7" />
<line x1="433.6" y1="928.2" x2="433.6" y2="930" stroke="#aaa" stroke-width="0.7" />
<line x1="439.2" y1="928.2" x2="439.2" y2="930" stroke="#aaa" stroke-width="0.7" />
<line x1="444.8" y1="928.2" x2="444.8" y2="930" stroke="#aaa" stroke-width="0.7" />
<line x1="450.3" y1="928.2" x2="450.3" y2="930" stroke="#aaa" stroke-width="0.7" />
<line x1="455.9" y1="928.2" x2="455.9" y2="930" stroke="#aaa" stroke-width="0.7" />
<line x1="461.5" y1="928.2" x2="461.5" y2="930" stroke="#aaa" stroke-width="0.7" />
<line x1="467.1" y1="928.2" x2="467.1" y2="930" stroke="#aaa" stroke-width="0.7" />
<line x1="472.7" y1="928.2" x2="472.7" y2="930" stroke="#aaa" stroke-width="0.7" />
<line x1="478.3" y1="928.2" x2="478.3" y2="930" stroke="#aaa" stroke-width="0.7" />
<line x1="483.9" y1="928.2" x2="483.9" y2="930" stroke="#aaa" stroke-width="0.7" />
<line x1="489.5" y1="928.2" x2="489.5" y2="930" stroke="#aaa" stroke-width="0.7" />
<line x1="495.1" y1="928.2" x2="495.1" y2="930" stroke="#aaa" stroke-width="0.7" />
<line x1="500.7" y1="928.2" x2="500.7" y2="930" stroke="#aaa" stroke-width="0.7" />
<line x1="506.2" y1="928.2" x2="506.2" y2="930" stroke="#aaa" stroke-width="0.7" />
<line x1="511.8" y1="928.2" x2="511.8" y2="930" stroke="#aaa" stroke-width="0.7" />
<line x1="517.4" y1="928.2" x2="517.4" y2="930" stroke="#aaa" stroke-width="0.7" />
<line x1="523" y1="928.2" x2="523" y2="930" stroke="#aaa" stroke-width="0.7" />
<line x1="528.6" y1="928.2" x2="528.6" y2="930" stroke="#aaa" stroke-width="0.7" />
<line x1="534.2" y1="928.2" x2="534.2" y2="930" stroke="#aaa" stroke-width="0.7" />
<line x1="539.8" y1="928.2" x2="539.8" y2="930" stroke="#aaa" stroke-width="0.7" />
<line x1="545.4" y1="928.2" x2="545.4" y2="930" stroke="#aaa" stroke-width="0.7" />
<line x1="551" y1="928.2" x2="551" y2="930" stroke="#aaa" stroke-width="0.7" />
<line x1="556.6" y1="928.2" x2="556.6" y2="930" stroke="#aaa" stroke-width="0.7" />
<line x1="562.1" y1="928.2" x2="562.1" y2="930" stroke="#aaa" stroke-width="0.7" />
<line x1="567.7" y1="928.2" x2="567.7" y2="930" stroke="#aaa" stroke-width="0.7" />
<line x1="573.3" y1="928.2" x2="573.3" y2="930" stroke="#aaa" stroke-width="0.7" />
<line x1="578.9" y1="928.2" x2="578.9" y2="930" stroke="#aaa" stroke-width="0.7" />
<line x1="584.5" y1="928.2" x2="584.5" y2="930" stroke="#aaa" stroke-width="0.7" />
<line x1="590.1" y1="928.2" x2="590.1" y2="930" stroke="#aaa" stroke-width="0.7" />
<line x1="595.7" y1="928.2" x2="595.7" y2="930" stroke="#aaa" stroke-width="0.7" />
<line x1="601.3" y1="928.2" x2="601.3" y2="930" stroke="#aaa" stroke-width="0.7" />
<line x1="606.9" y1="928.2" x2="606.9" y2="930" stroke="#aaa" stroke-width="0.7" />
<line x1="612.5" y1="928.2" x2="612.5" y2="930" stroke="#aaa" stroke-width="0.7" />
<line x1="618" y1="928.2" x2="618" y2="930" stroke="#aaa" stroke-width="0.7" />
<line x1="623.6" y1="928.2" x2="623.6" y2="930" stroke="#aaa" stroke-width="0.7" />
<line x1="629.2" y1="928.2" x2="629.2" y2="930" stroke="#aaa" stroke-width="0.7" />
<line x1="634.8" y1="928.2" x2="634.8" y2="930" stroke="#aaa" stroke-width="0.7" />
<line x1="640.4" y1="928.2" x2="640.4" y2="930" stroke="#aaa" stroke-width="0.7" />
<line x1="646" y1="928.2" x2="646" y2="930" stroke="#aaa" stroke-width="0.7" />
<line x1="651.6" y1="928.2" x2="651.6" y2="930" stroke="#aaa" stroke-width="0.7" />
<line x1="657.2" y1="928.2" x2="657.2" y2="930" stroke="#aaa" stroke-width="0.7" />
<line x1="662.8" y1="928.2" x2="662.8" y2="930" stroke="#aaa" stroke-width="0.7" />
<line x1="668.4" y1="928.2" x2="668.4" y2="930" stroke="#aaa" stroke-width="0.7" />
<line x1="366.5" y1="925.6" x2="669.5" y2="925.6" stroke="#c4c4c4" stroke-width="1.3" />
<line x1="399.5" y1="925.6" x2="450.5" y2="925.6" stroke="#555" stroke-width="1.3" />
<line x1="669.5" y1="925.6" x2="703" y2="925.6" stroke="#444" stroke-width="0.7" />
<circle cx="366.5" cy="925.6" r="1.5" fill="#111" stroke="none" stroke-width="0.8"/>
<circle cx="399.5" cy="925.6" r="1.5" fill="#111" stroke="none" stroke-width="0.8"/>
<circle cx="450.5" cy="925.6" r="1.5" fill="#111" stroke="none" stroke-width="0.8"/>
<circle cx="506.5" cy="925.6" r="1.5" fill="#111" stroke="none" stroke-width="0.8"/>
<circle cx="528.5" cy="925.6" r="1.5" fill="#111" stroke="none" stroke-width="0.8"/>
<circle cx="539.5" cy="925.6" r="1.5" fill="#111" stroke="none" stroke-width="0.8"/>
<circle cx="573.5" cy="925.6" r="1.5" fill="#111" stroke="none" stroke-width="0.8"/>
<circle cx="590.5" cy="925.6" r="1.5" fill="#111" stroke="none" stroke-width="0.8"/>
<circle cx="601.5" cy="925.6" r="1.5" fill="#111" stroke="none" stroke-width="0.8"/>
<circle cx="635.5" cy="925.6" r="1.5" fill="#111" stroke="none" stroke-width="0.8"/>
<circle cx="669.5" cy="925.6" r="1.5" fill="#111" stroke="none" stroke-width="0.8"/>
<text x="383" y="918.8" font-size="5.7" text-anchor="middle" fill="#5a5a5a" font-family='"Liberation Mono", monospace' >1.00</text>
<text x="425" y="918.8" font-size="5.7" text-anchor="middle" fill="#5a5a5a" font-family='"Liberation Mono", monospace' >1.30</text>
<text x="478.5" y="918.8" font-size="5.7" text-anchor="middle" fill="#5a5a5a" font-family='"Liberation Mono", monospace' >1.40</text>
<text x="517.5" y="918.8" font-size="5.7" text-anchor="middle" fill="#5a5a5a" font-family='"Liberation Mono", monospace' >40</text>
<text x="534" y="920.3" font-size="5.7" text-anchor="middle" fill="#5a5a5a" font-family='"Liberation Mono", monospace' >20</text>
<text x="556.5" y="918.8" font-size="5.7" text-anchor="middle" fill="#5a5a5a" font-family='"Liberation Mono", monospace' >1.0</text>
<text x="582" y="920.3" font-size="5.7" text-anchor="middle" fill="#5a5a5a" font-family='"Liberation Mono", monospace' >30</text>
<text x="596" y="920.3" font-size="5.7" text-anchor="middle" fill="#5a5a5a" font-family='"Liberation Mono", monospace' >20</text>
<text x="618.5" y="918.8" font-size="5.7" text-anchor="middle" fill="#5a5a5a" font-family='"Liberation Mono", monospace' >1.0</text>
<text x="652.5" y="918.8" font-size="5.7" text-anchor="middle" fill="#5a5a5a" font-family='"Liberation Mono", monospace' >1.0</text>
<circle cx="703" cy="925.6" r="1.4" fill="#111" stroke="none" stroke-width="0.8"/>
<text x="366.5" y="952.6" font-size="5.4" text-anchor="middle" fill="#777" font-family='"Liberation Mono", monospace' >A</text>
<text x="399.5" y="952.6" font-size="5.4" text-anchor="middle" fill="#777" font-family='"Liberation Mono", monospace' >B</text>
<text x="450.5" y="952.6" font-size="5.4" text-anchor="middle" fill="#777" font-family='"Liberation Mono", monospace' >C</text>
<text x="506.5" y="952.6" font-size="5.4" text-anchor="middle" fill="#777" font-family='"Liberation Mono", monospace' >D</text>
<text x="528.5" y="952.6" font-size="5.4" text-anchor="middle" fill="#777" font-family='"Liberation Mono", monospace' >E</text>
<text x="539.5" y="952.6" font-size="5.4" text-anchor="middle" fill="#777" font-family='"Liberation Mono", monospace' >F</text>
<text x="573.5" y="952.6" font-size="5.4" text-anchor="middle" fill="#777" font-family='"Liberation Mono", monospace' >G</text>
<text x="590.5" y="952.6" font-size="5.4" text-anchor="middle" fill="#777" font-family='"Liberation Mono", monospace' >H</text>
<text x="601.5" y="952.6" font-size="5.4" text-anchor="middle" fill="#777" font-family='"Liberation Mono", monospace' >I</text>
<text x="635.5" y="952.6" font-size="5.4" text-anchor="middle" fill="#777" font-family='"Liberation Mono", monospace' >J</text>
<text x="669.5" y="952.6" font-size="5.4" text-anchor="middle" fill="#777" font-family='"Liberation Mono", monospace' >K</text>
<text x="671" y="916.6" font-size="5.9" text-anchor="start" fill="#4a4a4a" font-family='"Liberation Mono", monospace' >Entered Canal</text>
<text x="649" y="957.8" font-size="5.5" text-anchor="start" fill="#4a4a4a" font-family='"Liberation Mono", monospace' >Pacific to Atlantic</text>
<text x="565.8" y="964.6" font-size="5.4" text-anchor="middle" fill="#4a4a4a" font-family='"Liberation Mono", monospace' >BK: In Transit Time</text>
<text x="570.8" y="973.2" font-size="5.4" text-anchor="middle" fill="#4a4a4a" font-family='"Liberation Mono", monospace' >AP: Total Transit Time</text>
<polyline points="399.5,960 399.5,966.5 669.5,966.5 669.5,960" fill="none" stroke="#777" stroke-width="0.7" />
<polyline points="366.5,960 366.5,975.6 703,975.6" fill="none" stroke="#777" stroke-width="0.7" />
<text x="192" y="921.6" font-size="9.3" text-anchor="start" fill="#222" font-family='"Liberation Sans", sans-serif' textLength="122" lengthAdjust="spacingAndGlyphs">Proposed Canal Waters Time</text>
<text x="192" y="932.4" font-size="6.6" text-anchor="start" fill="#222" font-family='"Liberation Sans", sans-serif' textLength="108" lengthAdjust="spacingAndGlyphs">Re-valuated Canal Wates Time</text>
</svg>
</body></html>
